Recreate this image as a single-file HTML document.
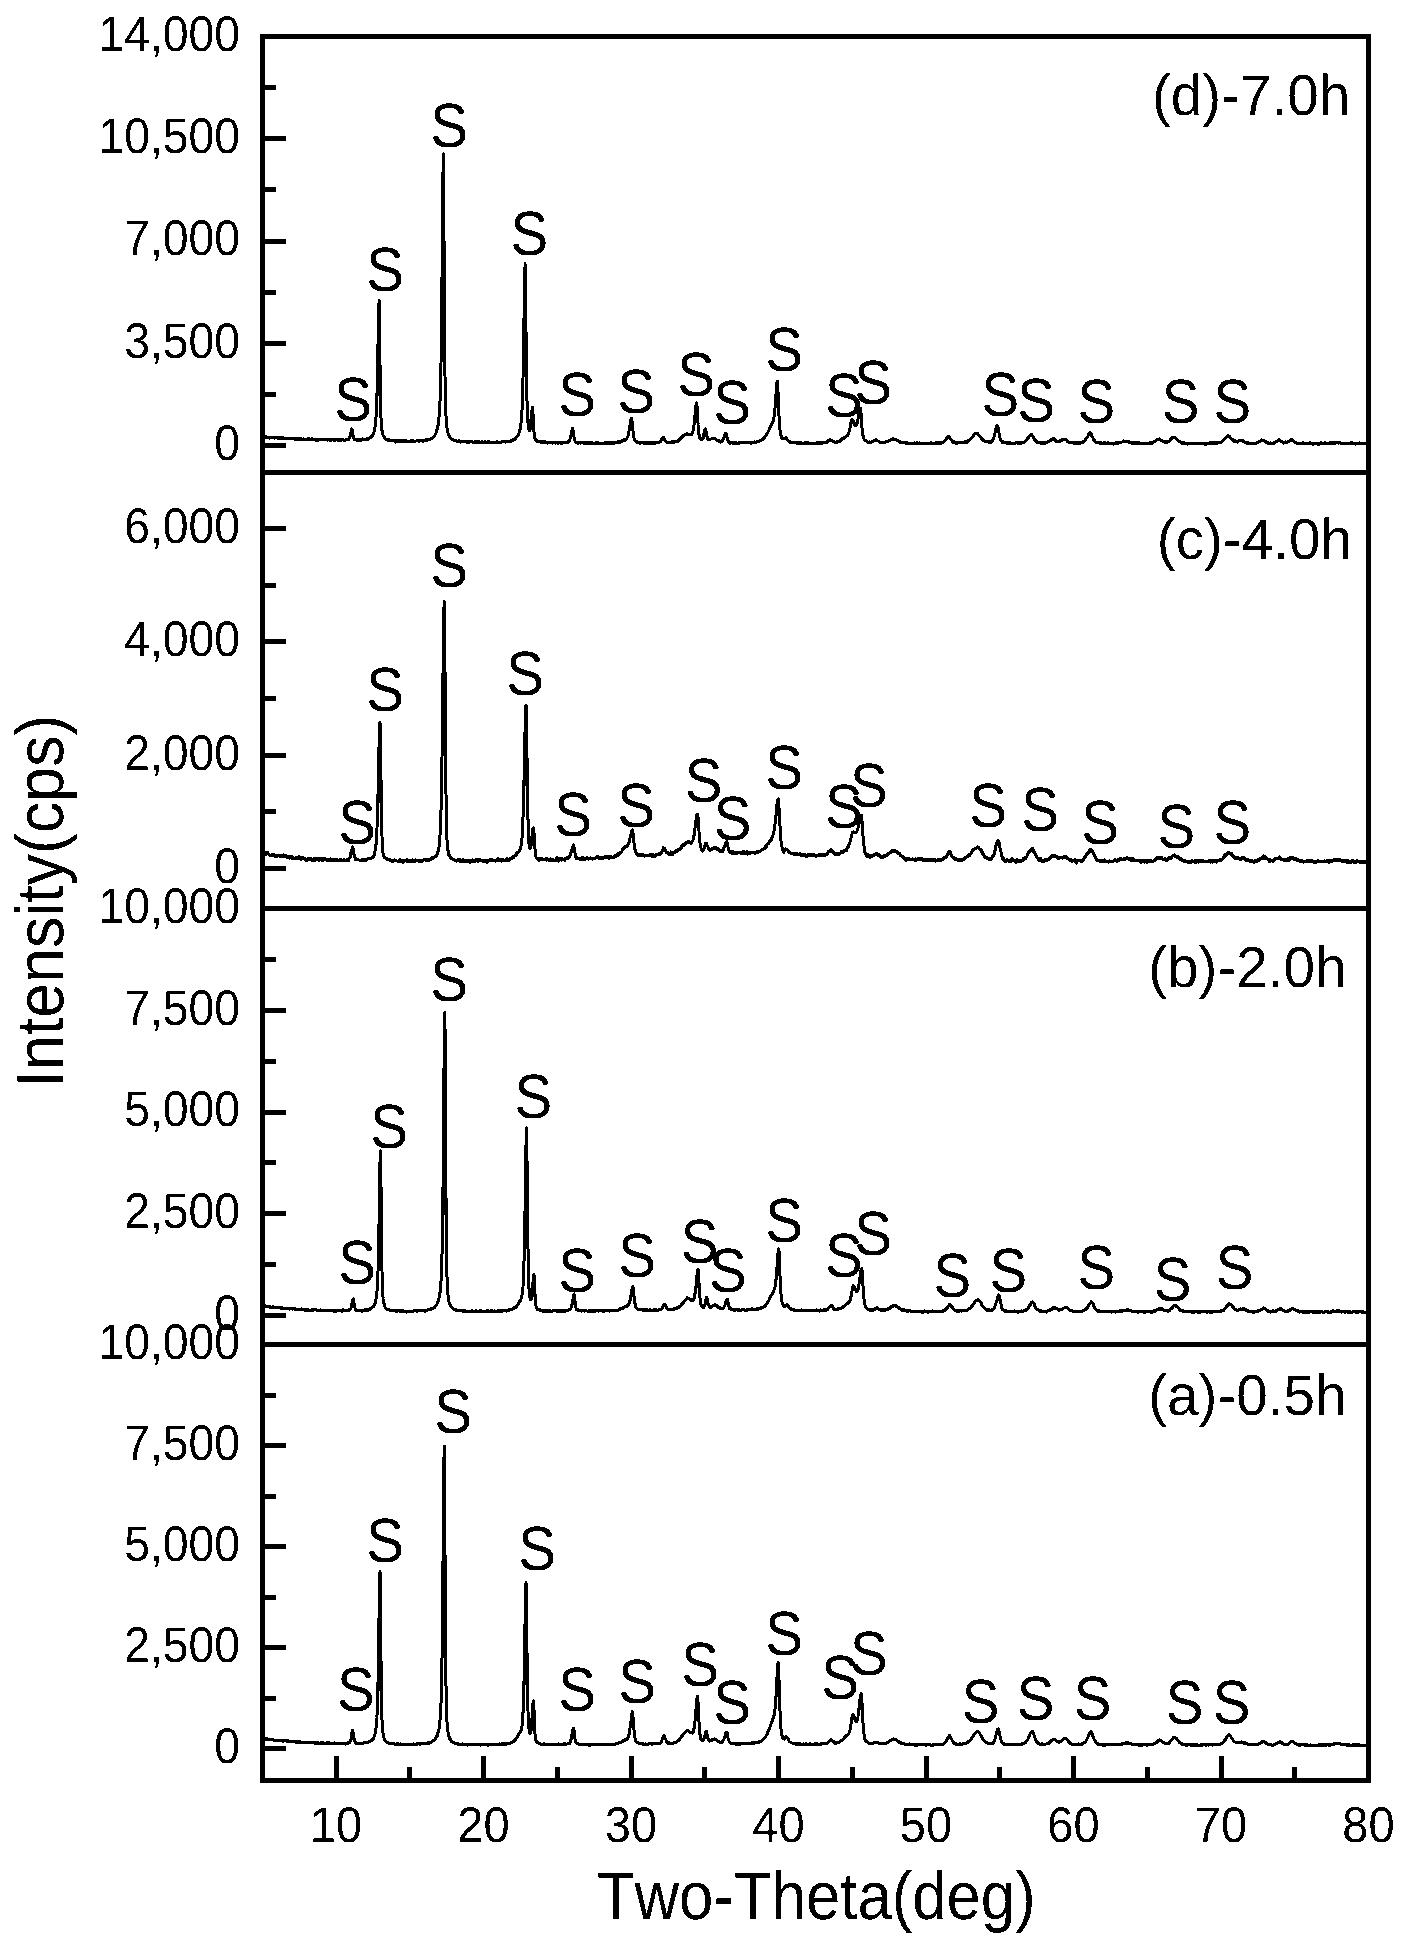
<!DOCTYPE html>
<html lang="en"><head><meta charset="utf-8"><title>XRD patterns</title>
<style>
html,body{margin:0;padding:0;background:#fff;}
body{width:1405px;height:1950px;overflow:hidden;}
svg{display:block;}
text{font-family:"Liberation Sans",Arial,Helvetica,sans-serif;fill:#000;text-rendering:geometricPrecision;}
.tk{font-size:47px;}
.s{font-size:58px;text-anchor:middle;}
.pl{font-size:57.5px;}
.ti{font-size:61.7px;text-anchor:middle;font-kerning:none;}
.ax{stroke:#000;stroke-width:5;fill:none;shape-rendering:crispEdges;}
.cv{stroke:#000;stroke-width:3;fill:none;stroke-linejoin:round;stroke-linecap:butt;}
</style></head><body>
<svg width="1405" height="1950" viewBox="0 0 1405 1950">
<rect x="0" y="0" width="1405" height="1950" fill="#fff"/>
<defs><clipPath id="cp"><rect x="262.5" y="36.5" width="1106" height="1744"/></clipPath>
<filter id="bin" filterUnits="userSpaceOnUse" x="0" y="0" width="1405" height="1950"><feComponentTransfer><feFuncA type="discrete" tableValues="0 1"/></feComponentTransfer></filter></defs>
<g filter="url(#bin)">
<g clip-path="url(#cp)">
<polyline class="cv" points="262.2,436.7 262.7,437.1 263.1,437.4 263.6,437.1 264,436.8 264.5,437 264.9,437.3 265.3,437.6 265.8,437 266.2,436.8 266.7,437.4 267.1,437.5 267.6,437.9 268,437.8 268.4,437.5 268.9,437.4 269.3,438.2 269.8,437.7 270.2,437.3 270.7,437.1 271.1,437.4 271.5,437.6 272,437.5 272.4,437.6 272.9,437.7 273.3,437.9 273.8,438.1 274.2,437.9 274.6,437.3 275.1,437.8 275.5,437.4 276,437.6 276.4,437.3 276.9,437.7 277.3,437.6 277.7,437.8 278.2,438.8 278.6,438.2 279.1,438.3 279.5,437.7 279.9,437.8 280.4,438.1 280.8,438 281.3,438.2 281.7,438.1 282.2,437.8 282.6,438.2 283,437.9 283.5,438.6 283.9,438.2 284.4,438.4 284.8,438.3 285.3,438.5 285.7,438.2 286.1,438.5 286.6,438.3 287,438.7 287.5,438.6 287.9,438.5 288.4,438.2 288.8,438.5 289.2,438.6 289.7,439 290.1,438.5 290.6,438.6 291,438.7 291.5,438.6 291.9,438.6 292.3,438.6 292.8,438.4 293.2,438.2 293.7,438.3 294.1,438.7 294.6,439.1 295,439.1 295.4,439.1 295.9,439.1 296.3,439 296.8,438.9 297.2,439 297.6,439.4 298.1,438.9 298.5,438.6 299,439.3 299.4,439.1 299.9,439.2 300.3,439.2 300.7,438.7 301.2,439.5 301.6,439.6 302.1,439.2 302.5,439.3 303,439.1 303.4,438.8 303.8,438.9 304.3,439.1 304.7,439.4 305.2,439.4 305.6,439.2 306.1,439.5 306.5,439 306.9,439.3 307.4,439.5 307.8,439.2 308.3,438.6 308.7,438.7 309.2,439.1 309.6,439.3 310,439.7 310.5,439.1 310.9,439.2 311.4,439.4 311.8,439.3 312.3,438.6 312.7,439.3 313.1,440 313.6,439.9 314,439.3 314.5,439.2 314.9,439.4 315.4,440.1 315.8,439.8 316.2,439.6 316.7,439.9 317.1,439.6 317.6,440.1 318,439.5 318.4,439.3 318.9,439.7 319.3,440 319.8,439.8 320.2,439.7 320.7,439.1 321.1,439.2 321.5,439.2 322,439.3 322.4,439.6 322.9,439.5 323.3,439.8 323.8,439.7 324.2,439.6 324.6,439.6 325.1,439.8 325.5,440 326,439.6 326.4,439.6 326.9,439.3 327.3,440 327.7,440.2 328.2,439.9 328.6,439.6 329.1,439.4 329.5,439.7 330,439.8 330.4,440.4 330.8,440.1 331.3,439.7 331.7,439 332.2,440 332.6,439.9 333.1,439.4 333.5,439.7 333.9,439.3 334.4,440.7 334.8,440.5 335.3,440.3 335.7,440 336.1,439.3 336.6,439.7 337,439.4 337.5,439.9 337.9,439.3 338.4,439.4 338.8,440.1 339.2,440.5 339.7,439.8 340.1,439.4 340.6,440 341,440.2 341.5,439.7 341.9,439.7 342.3,439.6 342.8,439.5 343.2,439.6 343.7,440.2 344.1,440.2 344.6,440.6 345,440.1 345.4,439.9 345.9,439.5 346.3,439.6 346.8,439.3 347.2,439 347.7,439.5 348.1,439.8 348.5,439.4 349,439.1 349.4,438 349.9,436.4 350.3,434.9 350.8,432.7 351.2,430.5 351.6,429.1 351.8,428.9 352.1,430 352.5,432.6 353,435.1 353.4,437.7 353.8,438.7 354.3,439.4 354.7,439.9 355.2,439.5 355.6,439.1 356.1,439.8 356.5,439.6 356.9,440.2 357.4,440.1 357.8,440.3 358.3,440.3 358.7,439.4 359.2,440 359.6,439.7 360,439.6 360.5,439.7 360.9,440 361.4,440.2 361.8,440.2 362.3,439.4 362.7,439.5 363.1,438.9 363.6,439.4 364,439.7 364.5,439.4 364.9,439.5 365.4,439.5 365.8,439.7 366.2,439.1 366.7,438.9 367.1,438.7 367.6,439.3 368,439.3 368.4,438.8 368.9,438.6 369.3,438.3 369.8,438.1 370.2,437.7 370.7,437.3 371.1,436.7 371.5,436.3 372,436.5 372.4,435.8 372.9,434.9 373.3,433.8 373.8,432.7 374.2,431.3 374.6,429.2 375.1,426.8 375.5,423.1 376,417.7 376.4,409.6 376.9,397.7 377.3,381 377.7,359.2 378.2,333.4 378.6,310.4 379.1,300.5 379.5,323.8 380,364.7 380.4,395.8 380.8,413.9 381.3,423.6 381.7,428.6 382.2,431.8 382.6,434.1 383.1,435.3 383.5,436 383.9,436.7 384.4,437.3 384.8,437.7 385.3,438.8 385.7,439.1 386.1,439.2 386.6,439.9 387,439.6 387.5,440 387.9,440.3 388.4,439.7 388.8,439.6 389.2,439.8 389.7,440.5 390.1,440.8 390.6,440.3 391,440.8 391.5,440.6 391.9,440.5 392.3,440.5 392.8,440.6 393.2,440.2 393.7,440.3 394.1,440.3 394.6,440.8 395,441.5 395.4,441.9 395.9,441.2 396.3,440.5 396.8,440.7 397.2,440.6 397.7,441.4 398.1,441.3 398.5,440.9 399,441.3 399.4,441.3 399.9,440.7 400.3,440.8 400.8,440.9 401.2,441 401.6,441.1 402.1,441 402.5,441.1 403,440.9 403.4,440.8 403.9,441.5 404.3,441.3 404.7,441.3 405.2,440.7 405.6,441 406.1,441.3 406.5,440.8 406.9,441.4 407.4,441.1 407.8,441.3 408.3,441.1 408.7,441.2 409.2,441.5 409.6,441.2 410,441.6 410.5,441.1 410.9,440.8 411.4,441.2 411.8,440.9 412.3,440.9 412.7,441.3 413.1,441.5 413.6,440.7 414,441.1 414.5,441.6 414.9,441.6 415.4,441.2 415.8,440.9 416.2,440.9 416.7,440.6 417.1,440.8 417.6,440.8 418,440.9 418.5,441.3 418.9,441 419.3,440.5 419.8,441 420.2,440.6 420.7,440.6 421.1,440.7 421.6,440.6 422,440.4 422.4,440.5 422.9,441.2 423.3,440.6 423.8,440.5 424.2,440.8 424.6,440.7 425.1,440.7 425.5,440.6 426,439.7 426.4,439.7 426.9,439.9 427.3,440 427.7,440.2 428.2,440 428.6,439.6 429.1,439.4 429.5,439.2 430,439.2 430.4,439.1 430.8,438.7 431.3,438.2 431.7,437.9 432.2,438.1 432.6,438 433.1,437.7 433.5,437.2 433.9,436.7 434.4,435.9 434.8,435.4 435.3,434.2 435.7,433.4 436.2,432.3 436.6,431.4 437,429.7 437.5,428 437.9,425.9 438.4,423.3 438.8,419.6 439.2,414.8 439.7,408.3 440.1,398.4 440.6,384 441,362.5 441.5,331.7 441.9,290 442.3,239.4 442.8,188 443.2,156 443.4,153.8 443.7,177.1 444.1,258.7 444.6,331 445,376.3 445.4,400.9 445.9,414.1 446.3,421.4 446.8,426.2 447.2,429.6 447.7,431.6 448.1,433.6 448.5,434.8 449,435.6 449.4,437 449.9,437.8 450.3,438.2 450.8,438.4 451.2,438.3 451.6,439.2 452.1,439.5 452.5,439.3 453,439.9 453.4,439.7 453.9,440.2 454.3,440.5 454.7,440.8 455.2,440.9 455.6,441 456.1,440.7 456.5,440.9 456.9,441 457.4,441.1 457.8,441.3 458.3,441.6 458.7,442 459.2,440.9 459.6,441.4 460,441.5 460.5,442.2 460.9,442.1 461.4,441.4 461.8,441.7 462.3,441.6 462.7,442 463.1,441.6 463.6,441.7 464,441.8 464.5,441.8 464.9,441.7 465.4,441.3 465.8,441.8 466.2,442.2 466.7,442 467.1,441.7 467.6,442 468,442.2 468.5,442 468.9,442 469.3,442.5 469.8,441.9 470.2,441.8 470.7,441.4 471.1,441.7 471.6,441.7 472,441.7 472.4,441.8 472.9,442.5 473.3,442.2 473.8,442.1 474.2,442.8 474.6,442.4 475.1,441.7 475.5,442.1 476,441.9 476.4,442.6 476.9,442 477.3,441.9 477.7,441.6 478.2,442 478.6,441.9 479.1,442.1 479.5,442.1 480,442 480.4,442.4 480.8,442.6 481.3,442.4 481.7,442 482.2,441.8 482.6,442.2 483.1,442.9 483.5,442.3 483.9,442 484.4,442 484.8,441.8 485.3,441.8 485.7,442 486.2,442.6 486.6,442.4 487,442.1 487.5,441.7 487.9,442.1 488.4,442.2 488.8,441.9 489.3,441.8 489.7,442.1 490.1,442.5 490.6,442.5 491,442.4 491.5,442.2 491.9,442.3 492.4,442.2 492.8,442.9 493.2,442.1 493.7,442.1 494.1,442.5 494.6,442.2 495,442.6 495.4,442.3 495.9,442.3 496.3,442.1 496.8,441.7 497.2,441.7 497.7,442.6 498.1,442.5 498.5,442.4 499,442.5 499.4,442.4 499.9,442.5 500.3,442.1 500.8,442 501.2,442.3 501.6,442 502.1,441.6 502.5,441.7 503,441.7 503.4,442 503.9,441.7 504.3,441.4 504.7,441.5 505.2,442.1 505.6,441.8 506.1,441.7 506.5,441.6 507,441.6 507.4,441.8 507.8,441.9 508.3,441.1 508.7,441.6 509.2,441.3 509.6,441.1 510.1,441.7 510.5,441.1 510.9,441.4 511.4,441.2 511.8,440.4 512.3,440.5 512.7,440.4 513.1,440 513.6,439.1 514,439.2 514.5,439.1 514.9,438.5 515.4,439 515.8,438.2 516.2,437.6 516.7,437.1 517.1,436.4 517.6,435.7 518,435.2 518.2,435.1 518.5,434.3 518.9,433.3 519.3,431.7 519.8,430.6 520.2,428.4 520.7,426.1 521.1,422.4 521.6,417.3 522,409.9 522.4,398.8 522.9,383.4 523.3,361.7 523.8,334 524.2,302.7 524.7,275.3 525.1,263.8 525.5,286.8 526,331.6 526.4,370.5 526.9,396.6 527.3,412 527.8,420.6 528.2,425.6 528.6,428.3 529.1,430.1 529.5,430.5 530,429.8 530.4,427.9 530.8,423.9 531.3,418.4 531.7,412.6 532.2,408.2 532.5,407.4 532.6,408.2 533.1,415.1 533.5,424.3 533.9,431.4 534.4,435.8 534.8,438.5 535.3,439.6 535.7,439.7 536.2,440.2 536.6,440.4 537,441.1 537.5,441.3 537.9,441.7 538.4,441.6 538.8,441.1 539.3,441.7 539.7,441.9 540.1,442.1 540.6,441.7 541,442 541.5,441.9 541.9,441.9 542.4,442.2 542.8,442.4 543.2,442.1 543.7,441.7 544.1,441.4 544.6,441.9 545,442.6 545.5,442.5 545.9,441.8 546.3,442 546.8,442.5 547.2,443 547.7,443.1 548.1,442.9 548.5,442.7 549,442.3 549.4,442.4 549.9,442.5 550.3,442.4 550.8,442.6 551.2,442.5 551.6,442.7 552.1,443.1 552.5,443.1 553,442.9 553.4,442.7 553.9,442.3 554.3,442.5 554.7,442.8 555.2,442.5 555.6,443 556.1,442.7 556.5,442.8 557,442.7 557.4,442.4 557.8,443.2 558.3,442.6 558.7,443 559.2,442.7 559.6,442.8 560.1,442.5 560.5,442.5 560.9,442.9 561.4,443.4 561.8,442.7 562.3,442.7 562.7,443 563.1,442.6 563.6,442.8 564,442.5 564.5,442.7 564.9,442.7 565.4,442.9 565.8,442.7 566.2,442.2 566.7,442.5 567.1,442 567.6,442.3 568,442.4 568.5,442 568.9,441.2 569.3,441 569.8,439.9 570.2,438 570.7,436.4 571.1,434.7 571.6,432.1 572,430.1 572.4,428.8 572.6,428.3 572.9,429.2 573.3,432.5 573.8,436 574.2,438.6 574.7,439.8 575.1,441.5 575.5,442.2 576,442.6 576.4,442.9 576.9,442.6 577.3,442.4 577.8,442.7 578.2,443.2 578.6,442.4 579.1,442.6 579.5,442.6 580,442.9 580.4,443.3 580.9,443 581.3,442.6 581.7,442.8 582.2,442.8 582.6,442.4 583.1,443 583.5,442.8 583.9,443.1 584.4,442.6 584.8,443.2 585.3,442.6 585.7,443.2 586.2,442.5 586.6,443.2 587,443 587.5,442.5 587.9,442.8 588.4,443 588.8,442.7 589.3,442.8 589.7,443 590.1,443 590.6,442.1 591,442.6 591.5,443 591.9,443.1 592.4,443.3 592.8,442.9 593.2,443.7 593.7,443.5 594.1,443.3 594.6,443.4 595,443.5 595.5,443.2 595.9,442.9 596.3,443.3 596.8,443.2 597.2,442.6 597.7,442.5 598.1,443 598.5,443.1 599,443.1 599.4,443.2 599.9,443.1 600.3,443.5 600.8,443 601.2,442.9 601.6,443.1 602.1,443.2 602.5,443.3 603,443.6 603.4,443.1 603.9,443.4 604.3,443.3 604.7,442.8 605.2,442.9 605.6,443.6 606.1,443.4 606.5,443 607,442.3 607.4,442.5 607.8,442.6 608.3,442.8 608.7,443.6 609.2,443.4 609.6,443.2 610.1,442.7 610.5,442.5 610.9,442.7 611.4,442.7 611.8,443.7 612.3,443 612.7,442.7 613.2,443.1 613.6,442.9 614,442.5 614.5,443 614.9,442.7 615.4,442.3 615.8,442.6 616.2,442.7 616.7,442.5 617.1,442.6 617.6,442.7 618,442.1 618.5,441.5 618.9,441.1 619.3,441.6 619.8,442 620.2,442 620.7,442 621.1,442 621.6,441.4 622,441.3 622.4,440.4 622.9,440.7 623.3,440.5 623.8,440.2 624.2,439.9 624.4,439.6 624.7,439.8 625.1,440.1 625.5,439.5 626,439.4 626.4,438.8 626.9,438.4 627.3,437.4 627.8,436.6 628.2,435.1 628.6,433.3 629.1,430.7 629.5,427.9 630,424.8 630.4,421.9 630.9,419.4 631.3,418 631.4,418 631.7,418.9 632.2,422.6 632.6,427.3 633.1,431.8 633.5,435.1 634,438 634.4,439.7 634.8,440.7 635.3,440.4 635.7,441.4 636.2,441.9 636.6,441.6 637,442.3 637.5,442.3 637.9,442.3 638.4,442.2 638.8,442.1 639.3,442.3 639.7,443.4 640.1,443 640.6,442.9 641,442.6 641.5,442.6 641.9,442.6 642.4,442.5 642.8,443 643.2,442.8 643.7,443.1 644.1,442.6 644.6,443.1 645,443 645.5,443.1 645.9,443 646.3,442.7 646.8,443.2 647.2,442.9 647.7,442.9 648.1,442.7 648.6,442.9 649,442.8 649.4,443 649.9,443.1 650.3,442.8 650.8,442.5 651.2,442.9 651.6,443.2 652.1,443.2 652.5,442.7 653,443 653.4,443.1 653.9,443 654.3,443.1 654.7,442.9 655.2,442.9 655.6,443.1 656.1,442.8 656.5,442.4 657,442.6 657.4,442.7 657.8,442.1 658.3,442.2 658.7,442.6 659.2,442.3 659.6,442.2 660.1,441.5 660.5,441.5 660.9,441.3 661.4,440.1 661.8,439 662.3,437.9 662.7,437.7 663.2,437.4 663.6,437.4 664,438.7 664.5,439.8 664.9,440.6 665.4,440.7 665.8,441.5 666.3,442.1 666.7,441.9 667.1,442.5 667.6,442.9 668,442.9 668.5,442.4 668.9,442.3 669.4,442.7 669.8,442.8 670.2,442.9 670.7,442.9 671.1,442.5 671.6,442.3 672,441.7 672.4,442.3 672.9,442.9 673.3,442.2 673.8,441.9 674.2,442.1 674.7,442 675.1,441.4 675.5,441.2 676,441 676.4,441.7 676.9,441 677.3,441 677.8,441.2 678.2,441.1 678.6,440.7 679.1,440.4 679.5,439.2 680,438.8 680.4,438.3 680.9,438 681.3,438.5 681.7,437.1 682.2,437 682.6,436.1 683.1,436.3 683.5,436.1 684,435.2 684.4,435.5 684.8,434.8 685.3,434.8 685.7,434.4 686.2,433.9 686.6,433.8 687,433.9 687.5,434.2 687.9,434.2 688.4,435 688.8,434.7 689.3,434.6 689.7,434.6 690.1,434.6 690.6,434.4 691,434.4 691.5,434.7 691.9,434.1 692.4,433.2 692.8,432 693.2,430.3 693.7,427.5 694.1,424.1 694.6,419.9 695,415.2 695.5,410.3 695.9,406.1 696.3,403.3 696.6,402.8 696.8,403.3 697.2,408.8 697.7,417.1 698.1,424.9 698.6,431.1 699,434.6 699.4,436.7 699.9,438.3 700.3,438.8 700.8,439.2 701.2,439.8 701.7,439.4 702.1,438.6 702.5,438.9 703,438.5 703.4,436.3 703.9,434.2 704.3,432.2 704.8,429.5 705.2,428.7 705.6,429.6 706.1,432 706.5,434 707,436.9 707.4,438.3 707.8,439.4 708.3,439.8 708.7,439.5 709.2,439.8 709.6,439.5 710.1,439.6 710.5,439.2 710.9,439 711.4,438.8 711.8,438.8 712.3,438.7 712.7,438 713.2,438 713.6,438.4 714,438.4 714.5,438.1 714.9,438.4 715.4,438.7 715.8,439.4 716.3,439.6 716.7,440 717.1,440.9 717.6,440.4 718,440.5 718.5,440.4 718.9,440.6 719.4,441.4 719.8,441.6 720.2,442.1 720.7,441.2 721.1,441.1 721.6,441.5 722,441.3 722.5,440.8 722.9,440 723.3,438.8 723.8,437.6 724.2,436.2 724.7,435.1 725.1,433.8 725.5,433.3 725.7,433.7 726,433.4 726.4,434.7 726.9,436.9 727.3,438.6 727.8,440 728.2,441.6 728.6,442 729.1,442 729.5,442.6 730,443.3 730.4,442.5 730.9,442.4 731.3,442.6 731.7,442.5 732.2,443.3 732.6,443.1 733.1,442.8 733.5,442.9 734,442.6 734.4,442.6 734.8,442.8 735.3,443.5 735.7,442.4 736.2,442.8 736.6,443.2 737.1,443.2 737.5,443.5 737.9,443.2 738.4,443 738.8,442.9 739.3,442.6 739.7,443.2 740.1,442.6 740.6,442.7 741,442.6 741.5,442.5 741.9,442.1 742.4,442.4 742.8,442.7 743.2,442.8 743.7,443 744.1,442.8 744.6,442.6 745,442.8 745.5,442.9 745.9,442.5 746.3,442.2 746.8,442.2 747.2,442.8 747.7,443 748.1,442.5 748.6,442.6 749,442.8 749.4,443 749.9,442.5 750.3,442.4 750.8,442.8 751.2,443.3 751.7,443.1 752.1,442.3 752.5,442.4 753,442.2 753.4,442.2 753.9,442 754.3,441.9 754.8,442 755.2,442.5 755.6,442.3 756.1,442.1 756.5,441.9 757,441.5 757.4,441.5 757.9,441.9 758.3,441.8 758.7,442 759.2,441.5 759.6,441.1 760.1,440.4 760.5,440.6 760.9,440 761.4,440.5 761.8,439.9 762.3,439.7 762.7,439 763.2,438.7 763.6,438.2 764,438.4 764.5,437.8 764.9,436.9 765.4,435.9 765.8,435.7 766.3,435.1 766.7,434.2 767.1,433.8 767.6,432.9 768,432.1 768.5,431 768.9,430 769.4,429.1 769.8,428.2 770.2,427.4 770.7,426.5 771.1,425.4 771.6,424.6 771.9,424 772,423.7 772.5,422.8 772.9,421.7 773.3,420.4 773.8,418.4 774.2,415.7 774.7,411.9 775.1,407.1 775.5,401.2 776,394.5 776.4,387.9 776.9,382.9 777.3,381.2 777.8,386.3 778.2,397 778.6,408.6 779.1,418.2 779.5,425.2 780,429.7 780.4,432.9 780.9,435.2 781.3,436.4 781.7,437.7 782.2,438.5 782.6,439 783.1,439.1 783.5,438.7 784,438.4 784.4,438.2 784.8,438.3 785.3,438.2 785.7,438 785.9,437.8 786.2,438 786.6,438.6 787.1,439.5 787.5,440.2 787.9,440.1 788.4,441.2 788.8,441.6 789.3,441.7 789.7,442.1 790.2,442.3 790.6,442.3 791,441.9 791.5,442.3 791.9,442.6 792.4,442.6 792.8,442.2 793.2,442.7 793.7,442.9 794.1,442.9 794.6,443 795,442.8 795.5,442.6 795.9,442.9 796.3,442.8 796.8,442.9 797.2,443.9 797.7,443.5 798.1,443.2 798.6,442.6 799,442.9 799.4,443.2 799.9,442.9 800.3,442.9 800.8,442.3 801.2,443 801.7,442.9 802.1,443.2 802.5,443.5 803,443.2 803.4,443.4 803.9,443.3 804.3,443.1 804.8,443 805.2,442.8 805.6,443.4 806.1,443.5 806.5,443 807,443.3 807.4,443 807.9,442.6 808.3,443.3 808.7,442.8 809.2,443.4 809.6,443.3 810.1,443.4 810.5,443.4 811,443.6 811.4,443.4 811.8,443.4 812.3,443.3 812.7,443.5 813.2,443.1 813.6,443.4 814,443.7 814.5,443.3 814.9,443.3 815.4,443 815.8,443 816.3,443.1 816.7,443 817.1,442.8 817.6,443 818,443.1 818.5,443.2 818.9,443.3 819.4,442.6 819.8,443.3 820.2,443.1 820.7,442.8 821.1,442.8 821.6,443 822,443.2 822.5,442.9 822.9,442.9 823.3,442.4 823.8,442.7 824.2,442.7 824.7,442.5 825.1,442.8 825.6,443 826,442.8 826.4,442 826.9,442.2 827.3,441.5 827.8,441.1 828.2,440.5 828.6,440.4 829.1,440.1 829.5,439.8 830,439.5 830.1,439.4 830.4,439.4 830.9,440 831.3,440 831.7,440.5 832.2,440.8 832.6,441 833.1,441.4 833.5,441.3 834,441.9 834.4,442.2 834.8,442.1 835.3,442.5 835.7,442 836.2,442.2 836.6,442.1 837.1,441.8 837.5,441.7 837.9,441.9 838.4,441.6 838.8,441.5 839.3,441.6 839.7,441.2 840.2,440.3 840.6,440.1 841,440.3 841.5,439.9 841.9,439.3 842.4,438.6 842.8,438.8 843.3,439 843.7,438.1 844.1,437.2 844.6,437.5 845,437.1 845.5,436.8 845.9,436.4 846.4,435.9 846.8,435.9 847.2,435.8 847.7,435.2 848.1,434.3 848.6,433.7 849,432.2 849.4,430.6 849.9,428.3 850.3,425.9 850.8,423.5 851.2,421.2 851.7,419.6 852,419.3 852.1,419.2 852.5,419.7 853,420.6 853.4,421.9 853.9,423.1 854.3,424.2 854.8,425.2 855.2,425.8 855.6,425.9 856.1,425.7 856.5,424.9 857,423.5 857.4,421.8 857.9,419.5 858.3,416.8 858.7,414.1 859.2,411.6 859.6,409.7 860.1,408.5 860.4,408.3 860.5,408.8 861,412.7 861.4,419.2 861.8,425.6 862.3,430.7 862.7,434.5 863.2,436.1 863.6,437.5 864,438.7 864.5,440 864.9,440.9 865.4,440.8 865.8,440.8 866.3,440.9 866.7,441.1 867.1,441.7 867.6,441.7 868,442.4 868.5,442.4 868.9,442 869.4,442.2 869.8,442.1 870.2,442.4 870.7,442.5 871.1,442.1 871.6,442.2 872,442.1 872.5,441.7 872.9,441.5 873.3,441.3 873.8,440.8 874.2,440.3 874.7,440.5 875.1,440.2 875.6,439.9 876,440.2 876.4,439.9 876.9,440.4 877.3,440.5 877.8,440.9 878.2,440.9 878.7,441.4 879.1,442.1 879.5,442.2 880,442 880.4,442.8 880.9,442.4 881.3,442.9 881.8,442.5 882.2,442.1 882.6,442.9 883.1,442.5 883.5,442.7 884,442.8 884.4,442.1 884.8,442.1 885.3,441.9 885.7,442.1 886.2,441.8 886.6,441.3 887.1,441.4 887.5,441.4 887.9,441 888.4,441 888.8,440.5 889.3,440.3 889.7,440.2 890.2,439.9 890.6,440 891,439.8 891.5,439.6 891.9,439.4 892.4,439.1 892.8,438.6 893.1,439.1 893.3,439.5 893.7,439.2 894.1,439.1 894.6,439.2 895,439.7 895.5,439.8 895.9,439.6 896.4,440 896.8,440.1 897.2,440.5 897.7,440.5 898.1,440.7 898.6,441.6 899,441.9 899.5,441.4 899.9,441.5 900.3,441.8 900.8,442 901.2,441.9 901.7,442.6 902.1,442.2 902.5,442.7 903,443 903.4,442.8 903.9,442.7 904.3,442.9 904.8,443 905.2,442.4 905.6,442.5 906.1,443 906.5,443.1 907,443 907.4,442.8 907.9,442.9 908.3,442.9 908.7,443.9 909.2,443.1 909.6,443.6 910.1,443.5 910.5,443.4 911,443.4 911.4,443.2 911.8,443.7 912.3,443.6 912.7,443.4 913.2,443.3 913.6,443.3 914.1,443 914.5,443.1 914.9,443.1 915.4,443.4 915.8,443.5 916.3,442.9 916.7,443.1 917.1,443.5 917.6,443 918,442.9 918.5,443.5 918.9,443.3 919.4,443.2 919.8,442.9 920.2,443.2 920.7,443.1 921.1,443.3 921.6,443.5 922,443.6 922.5,443.3 922.9,443.2 923.3,443.3 923.8,443.3 924.2,443.4 924.7,443.2 925.1,443.2 925.6,443.1 926,443.1 926.4,443.3 926.9,443.7 927.3,443.3 927.8,443.5 928.2,443.5 928.7,443.4 929.1,443.5 929.5,443.2 930,443.4 930.4,443.4 930.9,442.4 931.3,443.1 931.8,443.4 932.2,443.9 932.6,443.2 933.1,443.3 933.5,443.4 934,443 934.4,443.5 934.9,443.5 935.3,443.1 935.7,442.8 936.2,443 936.6,443.8 937.1,444 937.5,442.7 937.9,442.5 938.4,443.1 938.8,443.1 939.3,442.9 939.7,443.1 940.2,443.1 940.6,443.1 941,443 941.5,442.5 941.9,443 942.4,442.6 942.8,442.7 943.3,442.5 943.7,442.1 944.1,441.7 944.6,441.3 945,440.3 945.5,440 945.9,439.7 946.4,438.5 946.8,437.7 947.2,437.8 947.7,437.5 948.1,436.5 948.6,436.7 949,436.8 949.5,437.6 949.9,437.9 950.3,438.6 950.8,439.1 951.2,440 951.7,440.6 952.1,441 952.5,441.5 953,441.7 953.4,442.3 953.9,442.1 954.3,442 954.8,442.2 955.2,442.9 955.6,442.7 956.1,442.9 956.5,443.1 957,442.8 957.4,443 957.9,443.1 958.3,442.9 958.7,442.7 959.2,442.8 959.6,442.4 960.1,442.6 960.5,442.5 961,442.8 961.4,442.8 961.8,442.6 962.3,442.9 962.7,443 963.2,442.7 963.6,442.3 964.1,442.5 964.5,441.6 964.9,441.8 965.4,442.1 965.8,442.5 966.3,441.8 966.7,442.1 967.2,442.2 967.6,442 968,440.5 968.5,440.8 968.9,440.4 969.4,440.3 969.8,439.6 970.2,439 970.7,438.6 971.1,438.6 971.6,438.1 972,437.3 972.5,436.8 972.9,436.5 973.3,435.9 973.8,435.3 974.2,434.6 974.7,434 975.1,433.8 975.6,433.5 976,433 976.4,432.9 976.9,433.6 977.3,433.5 977.8,433.6 978.2,434.3 978.7,435.4 979.1,436.1 979.5,436.2 980,436.5 980.4,437.1 980.9,437.5 981.3,438.2 981.8,439 982.2,439.1 982.6,439.5 983.1,440 983.5,440.5 984,440.6 984.4,440.8 984.9,440.9 985.3,441.2 985.7,441.7 986.2,441.8 986.6,441 987.1,441.8 987.5,442 988,441.8 988.4,441.9 988.8,441.1 989.3,441.2 989.7,442.1 990.2,442.6 990.6,442.7 991,441.7 991.5,441.4 991.9,441.3 992.4,440.3 992.8,440.3 993.3,439 993.7,438 994.1,436.3 994.6,434.9 995,433 995.5,431.3 995.9,428.8 996.4,427.2 996.8,426.1 997.2,425.4 997.7,426.2 998.1,428 998.6,430.2 999,432.7 999.5,435.5 999.9,437.6 1000.3,439 1000.8,440.1 1001.2,440.5 1001.7,441.3 1002.1,442.3 1002.6,442.5 1003,442 1003.4,441.7 1003.9,442.1 1004.3,442.5 1004.8,442.5 1005.2,442.6 1005.6,442.8 1006.1,443.1 1006.5,443.1 1007,443.3 1007.4,442.7 1007.9,443 1008.3,443.1 1008.7,442.6 1009.2,443.3 1009.6,442.7 1010.1,442.5 1010.5,443.7 1011,443.7 1011.4,443.4 1011.8,443.6 1012.3,443.6 1012.7,443 1013.2,443.2 1013.6,443.6 1014.1,443.2 1014.5,443.2 1014.9,443 1015.4,443.3 1015.8,443 1016.3,442.9 1016.7,442.6 1017.2,442.6 1017.6,443 1018,443.2 1018.5,442.9 1018.9,442.7 1019.4,443 1019.8,443.1 1020.3,443.3 1020.7,442.9 1021.1,442.7 1021.6,442.9 1022,443.2 1022.5,442.8 1022.9,442.6 1023.4,442.1 1023.8,442 1024.2,442.3 1024.7,442.1 1025.1,442 1025.6,440.9 1026,440.9 1026.4,440.1 1026.9,439.9 1027.3,438.5 1027.8,438.3 1028.2,437.5 1028.7,437.5 1029.1,436.6 1029.5,436.3 1030,435.3 1030.4,435.5 1030.9,434.7 1031.2,435.2 1031.3,434.7 1031.8,434.6 1032.2,435.6 1032.6,436.1 1033.1,437 1033.5,437.5 1034,438.5 1034.4,439.4 1034.9,439.9 1035.3,440.8 1035.7,440.6 1036.2,441.7 1036.6,441.8 1037.1,442.6 1037.5,442.4 1038,442.3 1038.4,442.4 1038.8,442.7 1039.3,442.9 1039.7,442.7 1040.2,442.6 1040.6,442.9 1041,443.2 1041.5,442.5 1041.9,442.5 1042.4,442.6 1042.8,443.3 1043.3,443.4 1043.7,443.3 1044.1,443.1 1044.6,442.6 1045,443 1045.5,442.7 1045.9,442.4 1046.4,443 1046.8,442.1 1047.2,442.5 1047.7,442.2 1048.1,441.6 1048.6,441.6 1049,441 1049.5,441 1049.9,440.5 1050.3,439.9 1050.8,440.7 1051.2,439.8 1051.7,439.8 1052.1,439.4 1052.6,439.4 1052.8,438.8 1053,438.7 1053.4,438.1 1053.9,439.2 1054.3,439.6 1054.8,439.5 1055.2,440.2 1055.7,440.6 1056.1,441.6 1056.5,441.3 1057,441.5 1057.4,441.5 1057.9,441.6 1058.3,441.5 1058.8,441.3 1059.2,441.5 1059.6,441.6 1060.1,440.8 1060.5,440.4 1061,440.4 1061.4,440.7 1061.8,440.1 1062.3,439.2 1062.7,439.5 1063.2,439.5 1063.6,439.8 1064.1,439.4 1064.5,439.8 1064.9,439.3 1065.4,439.8 1065.8,440 1066.3,439.8 1066.7,440.3 1067.2,441.1 1067.6,441.6 1068,441.4 1068.5,442 1068.9,442.3 1069.4,442.5 1069.8,442.5 1070.3,442.6 1070.7,442.4 1071.1,442.6 1071.6,442.7 1072,442.6 1072.5,442.7 1072.9,442.9 1073.4,443 1073.8,443.3 1074.2,442.8 1074.7,442.8 1075.1,443 1075.6,442.9 1076,443 1076.5,442.8 1076.9,443.2 1077.3,443 1077.8,442.6 1078.2,443 1078.7,443.4 1079.1,442.4 1079.5,442.6 1080,442.7 1080.4,443 1080.9,443.1 1081.3,442.6 1081.8,442 1082.2,442.3 1082.6,442.4 1083.1,442.1 1083.5,441.7 1084,441 1084.4,441.5 1084.9,440.2 1085.3,439.3 1085.7,439.3 1086.2,438.6 1086.6,438 1087.1,437.2 1087.5,436.7 1088,436 1088.4,434.6 1088.8,434.3 1089.3,433.2 1089.7,432.6 1090,433.3 1090.2,433.1 1090.6,432.8 1091.1,433.9 1091.5,434.7 1091.9,436 1092.4,437 1092.8,437.7 1093.3,438.6 1093.7,439.8 1094.2,440.2 1094.6,440.9 1095,441.1 1095.5,441.8 1095.9,442.6 1096.4,442.7 1096.8,443 1097.2,442.9 1097.7,442.6 1098.1,442.7 1098.6,442.9 1099,443.1 1099.5,442.9 1099.9,443.2 1100.3,442.9 1100.8,443.1 1101.2,443.1 1101.7,442.8 1102.1,443.3 1102.6,443.3 1103,443.3 1103.4,443.2 1103.9,442.6 1104.3,442.6 1104.8,442.8 1105.2,443.4 1105.7,443.1 1106.1,443.4 1106.5,443 1107,442.9 1107.4,443 1107.9,443.5 1108.3,442.9 1108.8,443.1 1109.2,443.3 1109.6,443.4 1110.1,443.3 1110.5,443.5 1111,443.4 1111.4,443 1111.8,443.4 1112.3,443.1 1112.7,443.1 1113.2,443.6 1113.6,444.1 1114.1,443.9 1114.5,443.5 1114.9,443 1115.4,442.9 1115.8,443.5 1116.3,443.3 1116.7,442.7 1117.2,443.3 1117.6,443.2 1118,443.3 1118.5,443 1118.9,442.1 1119.4,442.2 1119.8,442.3 1120.3,442.3 1120.7,442.7 1121.1,442.2 1121.6,442.1 1122,442 1122.5,441.9 1122.9,441.5 1123.4,441.3 1123.8,440.8 1124.2,441.4 1124.7,441.4 1125.1,441.5 1125.6,441.2 1125.9,441.4 1126,441.2 1126.5,441.1 1126.9,441.5 1127.3,441.8 1127.8,441.9 1128.2,441.8 1128.7,441.7 1129.1,442.3 1129.5,442.5 1130,442.1 1130.4,441.9 1130.9,442.3 1131.3,442.5 1131.8,442.2 1132.2,443.2 1132.6,442.2 1133.1,442.3 1133.5,442.7 1134,443.1 1134.4,442.5 1134.9,442.7 1135.3,443.3 1135.7,443.6 1136.2,443.2 1136.6,443.2 1137.1,442.9 1137.5,443.2 1138,442.9 1138.4,442.5 1138.8,442.5 1139.3,443 1139.7,442.8 1140.2,443.4 1140.6,443.7 1141.1,443.7 1141.5,443.6 1141.9,443.7 1142.4,443.5 1142.8,443.6 1143.3,443.5 1143.7,443.6 1144.2,443.1 1144.6,443 1145,442.9 1145.5,443.4 1145.9,443.4 1146.4,443.1 1146.8,442.9 1147.2,442.9 1147.7,443.4 1148.1,443.2 1148.6,443.1 1149,442.9 1149.5,443 1149.9,443.5 1150.3,443 1150.8,442.8 1151.2,443.3 1151.7,443.2 1152.1,442.5 1152.6,442.8 1153,442.1 1153.4,442.3 1153.9,441.3 1154.3,441.2 1154.8,441.6 1155.2,441 1155.7,440.6 1156.1,440.4 1156.5,440.1 1157,439.7 1157.4,439.3 1157.9,439.8 1158.3,439.8 1158.8,439.4 1159.2,438.9 1159.6,439 1160.1,439.3 1160.5,439.9 1161,440.6 1161.4,440.4 1161.9,440.8 1162.3,440.9 1162.7,441.3 1163.2,441.3 1163.6,441.8 1164.1,442.3 1164.5,442.1 1165,442.1 1165.4,442.2 1165.8,441.8 1166.3,442.6 1166.7,441.9 1167.2,441.8 1167.6,441.6 1168,442 1168.5,441.4 1168.9,441 1169.4,441.3 1169.8,440.6 1170.3,439.8 1170.7,439.4 1171.1,439 1171.6,438.3 1172,437.9 1172.5,437.5 1172.9,437.5 1173.4,437.4 1173.8,437.3 1174.2,437.2 1174.7,437.6 1175.1,437.7 1175.6,438.5 1176,438.8 1176.5,439.1 1176.9,440 1177.3,439.8 1177.8,440.2 1178.2,440.6 1178.7,441.2 1179.1,441.2 1179.6,441.4 1180,441.4 1180.4,442.2 1180.9,442.2 1181.3,443.2 1181.8,443.2 1182.2,442.7 1182.7,443.3 1183.1,443.2 1183.5,443.4 1184,442.9 1184.4,443.4 1184.9,443.6 1185.3,443.2 1185.7,443 1186.2,443 1186.6,443.3 1187.1,444 1187.5,444.1 1188,444 1188.4,443.5 1188.8,443.3 1189.3,443.4 1189.7,443.3 1190.2,443.2 1190.6,443.2 1191.1,443.6 1191.5,443.4 1191.9,443.5 1192.4,443.3 1192.8,443.3 1193.3,443.3 1193.7,443.7 1194.2,443.6 1194.6,443.9 1195,443.5 1195.5,443.8 1195.9,443.1 1196.4,443.2 1196.8,443.3 1197.3,443.2 1197.7,443.3 1198.1,443.1 1198.6,443.2 1199,443.2 1199.5,443.3 1199.9,443.3 1200.3,443.1 1200.8,443.2 1201.2,443.3 1201.7,443 1202.1,443.3 1202.6,443.7 1203,443.4 1203.4,443.6 1203.9,443.6 1204.3,443.2 1204.8,443.7 1205.2,444.2 1205.7,443.4 1206.1,444 1206.5,443.4 1207,443.8 1207.4,443 1207.9,443.6 1208.3,443.5 1208.8,443 1209.2,443 1209.6,442.9 1210.1,442.9 1210.5,443.3 1211,443.2 1211.4,442.5 1211.9,442.9 1212.3,443.3 1212.7,443.3 1213.2,443.7 1213.6,442.9 1214.1,443.2 1214.5,443.2 1215,443.4 1215.4,442.8 1215.8,442.6 1216.3,442.9 1216.7,443 1217.2,442.5 1217.6,442.9 1218,442.9 1218.5,443 1218.9,442 1219.4,442.5 1219.8,442.2 1220.3,442.1 1220.7,442.3 1221.1,442.5 1221.6,441.9 1222,441.5 1222.5,441.5 1222.9,440.6 1223.4,440.2 1223.8,439.6 1224.2,438.9 1224.7,438.6 1225.1,438.7 1225.6,437.8 1226,437.2 1226.5,436.6 1226.9,436.4 1227.3,435.9 1227.8,435.3 1228.1,435.5 1228.2,435.9 1228.7,435.8 1229.1,436.3 1229.6,436.4 1230,437.4 1230.4,437.6 1230.9,438.1 1231.3,438.4 1231.8,439.2 1232.2,439.5 1232.7,439.5 1233.1,440.2 1233.5,440.3 1234,441.2 1234.4,441.5 1234.9,441.5 1235.3,441.7 1235.8,440.9 1236.2,441.8 1236.6,441.4 1237.1,441.6 1237.5,442.2 1238,441 1238.4,440.9 1238.8,441 1239.3,440.9 1239.7,440.2 1240.2,440.1 1240.6,440.8 1240.9,440.4 1241.1,440.7 1241.5,440.2 1241.9,440.3 1242.4,440.2 1242.8,440.9 1243.3,441.6 1243.7,441.7 1244.2,441.7 1244.6,442 1245,442.3 1245.5,442.3 1245.9,442.6 1246.4,443.2 1246.8,443.6 1247.3,443 1247.7,442.6 1248.1,443.4 1248.6,443.5 1249,443.6 1249.5,443.4 1249.9,443.2 1250.4,443.4 1250.8,443.6 1251.2,443.7 1251.7,443 1252.1,443.4 1252.6,443.2 1253,443.1 1253.5,443.2 1253.9,443.1 1254.3,443.8 1254.8,443.5 1255.2,443.3 1255.7,443.1 1256.1,443.1 1256.5,442.9 1257,443 1257.4,443 1257.9,442.9 1258.3,442 1258.8,441.9 1259.2,441.7 1259.6,441.1 1260.1,441.1 1260.5,440.7 1261,440.4 1261.4,440.3 1261.9,439.8 1262.3,440.3 1262.7,440.4 1263.2,440.2 1263.6,440.6 1264.1,441 1264.5,441 1265,441.3 1265.4,441.9 1265.8,441.3 1266.3,441.7 1266.7,442.4 1267.2,442.8 1267.6,442.6 1268.1,443.1 1268.5,443.7 1268.9,443.3 1269.4,443.2 1269.8,443.2 1270.3,442.8 1270.7,443.2 1271.2,443.2 1271.6,443.4 1272,443.6 1272.5,443.2 1272.9,443.1 1273.4,443.1 1273.8,443.4 1274.2,442.5 1274.7,442.5 1275.1,442.1 1275.6,442.1 1276,442 1276.5,441.6 1276.9,441.4 1277.3,441 1277.8,440.4 1278.2,440.1 1278.7,439.7 1278.8,440.1 1279.1,440.1 1279.6,440.6 1280,441 1280.4,440.8 1280.9,440.9 1281.3,441.6 1281.8,441.6 1282.2,442.1 1282.7,442.5 1283.1,442.5 1283.5,443.2 1284,442.7 1284.4,442.9 1284.9,442.7 1285.3,441.9 1285.8,442.4 1286.2,442.5 1286.6,442.7 1287.1,442.4 1287.5,442 1288,441.7 1288.4,441.4 1288.8,441.4 1289.3,440.8 1289.7,440.8 1290.2,440.5 1290.6,439.7 1291.1,439.9 1291.4,439 1291.5,439.4 1291.9,439.4 1292.4,439.9 1292.8,440.7 1293.3,440.9 1293.7,441.2 1294.2,441.9 1294.6,441.8 1295,441.9 1295.5,442.7 1295.9,442.9 1296.4,442.5 1296.8,442.9 1297.3,443.3 1297.7,443.2 1298.1,443.1 1298.6,443.3 1299,443.4 1299.5,443.1 1299.9,443.5 1300.4,443 1300.8,443.2 1301.2,444 1301.7,443.3 1302.1,443.4 1302.6,442.7 1303,443 1303.5,442.9 1303.9,443.3 1304.3,443.3 1304.8,443.9 1305.2,443.4 1305.7,443.4 1306.1,443.5 1306.5,443.7 1307,443.8 1307.4,443.1 1307.9,444 1308.3,443.6 1308.8,443.3 1309.2,443 1309.6,443.2 1310.1,442.9 1310.5,443.3 1311,443.3 1311.4,443.5 1311.9,443.3 1312.3,443.5 1312.7,444.1 1313.2,444.1 1313.6,443.8 1314.1,443.3 1314.5,443.9 1315,443.1 1315.4,443 1315.8,443.7 1316.3,443.4 1316.7,443.9 1317.2,443.8 1317.6,444.3 1318.1,444.3 1318.5,444 1318.9,443.5 1319.4,443.7 1319.8,444 1320.3,443.7 1320.7,442.7 1321.2,443.1 1321.6,443.3 1322,443.4 1322.5,443.4 1322.9,443.8 1323.4,443.2 1323.8,443.5 1324.2,442.9 1324.7,442.6 1325.1,442.9 1325.6,443 1326,443.1 1326.5,443.1 1326.9,443.5 1327.3,443.6 1327.8,443.5 1328.2,443.5 1328.7,443.2 1329.1,443 1329.6,442.7 1330,442.9 1330.4,442.7 1330.9,442.9 1331.3,443.2 1331.8,443.2 1332.2,443.4 1332.7,442.8 1333.1,442.1 1333.5,442.2 1334,443.1 1334.4,443 1334.9,442.6 1335.3,442.9 1335.8,442.5 1336,443 1336.2,442.6 1336.6,442.4 1337.1,442.7 1337.5,442.3 1338,442.5 1338.4,443.2 1338.9,443.1 1339.3,442.6 1339.7,442.8 1340.2,442.9 1340.6,442.8 1341.1,443.2 1341.5,443.6 1342,443.4 1342.4,443.6 1342.8,443.5 1343.3,443.5 1343.7,443.2 1344.2,443.6 1344.6,443.9 1345,443.5 1345.5,443.2 1345.9,443.5 1346.4,443.5 1346.8,443.8 1347.3,443.8 1347.7,443.6 1348.1,443.1 1348.6,443.6 1349,443.6 1349.5,443.2 1349.9,443 1350.4,442.8 1350.8,443.5 1351.2,443.4 1351.7,442.5 1352.1,442.9 1352.6,443.1 1353,443.4 1353.5,443.5 1353.9,443.4 1354.3,443.7 1354.8,443.9 1355.2,443.6 1355.7,444 1356.1,443.7 1356.6,443.4 1357,443.5 1357.4,443.1 1357.9,443.3 1358.3,443.2 1358.8,443.3 1359.2,443.5 1359.7,442.8 1360.1,443.4 1360.5,443.6 1361,443.5 1361.4,443.8 1361.9,443.7 1362.3,443.5 1362.7,443.3 1363.2,443.7 1363.6,443.8 1364.1,443.2 1364.5,443.2 1365,443.1 1365.4,443.7 1365.8,443.4 1366.3,443.2 1366.7,443.9 1367.2,443.8 1367.6,443.7 1368.1,443.7 1368.5,443.6"/>
<polyline class="cv" points="263.1,851.7 263.6,852.5 264,852.6 264.5,852.5 264.9,853.4 265.4,853.3 265.8,853.1 266.2,854.3 266.7,853.5 267.1,852.8 267.6,852.5 268,853 268.5,853.9 268.9,854.4 269.3,854.8 269.8,855.4 270.2,855.6 270.7,855.1 271.1,855.4 271.6,855.2 272,854.5 272.4,855.1 272.9,854.9 273.3,854.7 273.8,856 274.2,855.8 274.7,855 275.1,855.1 275.5,856.6 276,855.6 276.4,855.9 276.9,856 277.3,856 277.8,856.1 278.2,855.5 278.6,855.4 279.1,855.6 279.5,855.6 280,856.3 280.4,857 280.8,855.9 281.3,856.4 281.7,855.7 282.2,855.7 282.6,856 283.1,856.3 283.5,856.2 283.9,854.9 284.4,856.8 284.8,856.5 285.3,856.3 285.7,857 286.2,856.5 286.6,855.9 287,856.9 287.5,857.2 287.9,856.6 288.4,857.4 288.8,857.5 289.3,856.6 289.7,858.1 290.1,857.7 290.6,856.8 291,857.5 291.5,857.5 291.9,858.1 292.4,856.9 292.8,858 293.2,858.3 293.7,858.3 294.1,858.3 294.6,858.7 295,858.6 295.5,858.2 295.9,857.5 296.3,858.5 296.8,858.7 297.2,858.5 297.7,858.3 298.1,858.6 298.5,856.8 299,857.9 299.4,856.6 299.9,857.8 300.3,858.8 300.8,859.6 301.2,858.5 301.6,858.7 302.1,858.5 302.5,857.2 303,858.5 303.4,858.5 303.9,858.6 304.3,858.1 304.7,858.4 305.2,858.7 305.6,859.5 306.1,859.2 306.5,861 307,859.4 307.4,858.9 307.8,858.9 308.3,858.4 308.7,859.7 309.2,859.6 309.6,858.5 310.1,858.9 310.5,859.7 310.9,858.5 311.4,859 311.8,859 312.3,860.5 312.7,859.9 313.2,859.2 313.6,858.9 314,860.3 314.5,859.4 314.9,860.7 315.4,858.9 315.8,859.1 316.2,859.2 316.7,858.9 317.1,859.2 317.6,859.8 318,859.2 318.5,858.6 318.9,860 319.3,860.6 319.8,859.5 320.2,859.8 320.7,858.2 321.1,859.8 321.6,858.9 322,859.1 322.4,860.8 322.9,859.4 323.3,859.6 323.8,859.1 324.2,858.5 324.7,858.7 325.1,859.6 325.5,859 326,859.2 326.4,860.1 326.9,859.9 327.3,859.1 327.8,860.5 328.2,860.2 328.6,860.9 329.1,859.7 329.5,860.9 330,859.5 330.4,858.8 330.9,859.4 331.3,859.6 331.7,860.1 332.2,859.7 332.6,860.4 333.1,861 333.5,860 333.9,859.3 334.4,859.6 334.8,860.4 335.3,860.7 335.7,860.2 336.2,859.6 336.6,860 337,860.7 337.5,860 337.9,860.9 338.4,860.6 338.8,860.5 339.3,860 339.7,861 340.1,860.5 340.6,859.5 341,860.5 341.5,860.1 341.9,860.8 342.4,860.6 342.8,860 343.2,860.3 343.7,859.9 344.1,859.6 344.6,860 345,860.6 345.5,860.4 345.9,860.2 346.3,859.8 346.8,860.3 347.2,860.3 347.7,860.6 348.1,860.2 348.6,860.9 349,858.7 349.4,858.3 349.9,857.7 350.3,856.7 350.8,853.6 351.2,851.3 351.6,849.8 352.1,848.9 352.5,848.3 352.7,846.8 353,847.8 353.4,850.8 353.9,853.2 354.3,855.1 354.7,857 355.2,857.8 355.6,859.8 356.1,859.8 356.5,859.7 357,859.5 357.4,859.8 357.8,859.5 358.3,859.4 358.7,859.9 359.2,860 359.6,860.4 360.1,860.4 360.5,860.9 360.9,860.4 361.4,860.4 361.8,860.4 362.3,859.7 362.7,860.7 363.2,859.9 363.6,859.1 364,860.4 364.5,860.5 364.9,859.8 365.4,860.4 365.8,860.5 366.3,860.4 366.7,859.2 367.1,859.5 367.6,858.8 368,858.8 368.5,858.7 368.9,858.4 369.3,859 369.8,858.4 370.2,858.8 370.7,858.6 371.1,857.9 371.6,857.9 372,857.9 372.4,858 372.9,856.8 373.3,857.2 373.8,856.1 374.2,855.5 374.7,852.8 375.1,850.8 375.5,849.4 376,845 376.4,839.2 376.9,830.8 377.3,818.4 377.8,803.1 378.2,784.5 378.6,763.6 379.1,743.3 379.5,728.1 380,722.2 380.4,737.8 380.9,771.4 381.3,803.9 381.7,827.8 382.2,842 382.6,849.9 383.1,853.7 383.5,854.6 384,856.8 384.4,857.9 384.8,857.4 385.3,858 385.7,857.8 386.2,858.5 386.6,859.3 387,858.8 387.5,859 387.9,859.1 388.4,859.3 388.8,859.4 389.3,859.3 389.7,860.3 390.1,860.2 390.6,859.9 391,860.9 391.5,860.3 391.9,861 392.4,860 392.8,861.3 393.2,860.6 393.7,860.1 394.1,860.8 394.6,860 395,859.9 395.5,860.6 395.9,860.5 396.3,860.9 396.8,861 397.2,861 397.7,861 398.1,861.3 398.6,861 399,861.6 399.4,861.7 399.9,860 400.3,859.6 400.8,861.4 401.2,860.8 401.7,861 402.1,860.9 402.5,861.1 403,862.3 403.4,861 403.9,861 404.3,861 404.8,860.3 405.2,860.2 405.6,860.5 406.1,860.8 406.5,861.1 407,859.8 407.4,859.6 407.8,861.4 408.3,861 408.7,861.4 409.2,860.8 409.6,860.5 410.1,862 410.5,860.6 410.9,860.2 411.4,861.1 411.8,860.9 412.3,859.9 412.7,860.6 413.2,861.2 413.6,860.1 414,860.2 414.5,861.1 414.9,862 415.4,859.8 415.8,860 416.3,860.5 416.7,860.1 417.1,860 417.6,860.2 418,860.8 418.5,860.1 418.9,861 419.4,861.2 419.8,861.3 420.2,861.7 420.7,860.6 421.1,860.5 421.6,861.1 422,861.4 422.4,861.3 422.9,860.4 423.3,860.1 423.8,859.4 424.2,859.7 424.7,859.5 425.1,859.6 425.5,859.7 426,860.4 426.4,860.6 426.9,860.1 427.3,859.2 427.8,859.5 428.2,859.8 428.6,860.1 429.1,859.8 429.5,859.9 430,859.1 430.4,859.4 430.9,859.5 431.3,858.8 431.7,858.2 432.2,859 432.6,857.8 433.1,858.2 433.5,857.6 434,857.1 434.4,856.8 434.8,856.3 435.3,856 435.7,856.6 436.2,856.2 436.6,854.7 437.1,853.9 437.5,853.2 437.9,851.3 438.4,850.8 438.8,848.1 439.3,844.9 439.7,840.4 440.1,833.9 440.6,824.3 441,810.1 441.5,790.3 441.9,763.3 442.4,730.2 442.8,691.9 443.2,653 443.7,620.5 444.1,602.9 444.3,601.4 444.6,615.2 445,671.3 445.5,735.5 445.9,786 446.3,818.1 446.8,835.4 447.2,844.2 447.7,848.2 448.1,851.3 448.6,853.4 449,855.5 449.4,855.4 449.9,855.2 450.3,857.7 450.8,858.2 451.2,858.1 451.7,858.8 452.1,858.4 452.5,858.7 453,859.5 453.4,859.4 453.9,859.7 454.3,860 454.8,860 455.2,859.9 455.6,860.3 456.1,861 456.5,861.3 457,860.2 457.4,860.8 457.8,859.4 458.3,859.3 458.7,860.3 459.2,860.8 459.6,861.5 460.1,859.9 460.5,861 460.9,860.5 461.4,860.4 461.8,860.9 462.3,861.6 462.7,860.5 463.2,859.7 463.6,860.1 464,860.5 464.5,861.4 464.9,861.2 465.4,860.8 465.8,860.5 466.3,860.5 466.7,861.3 467.1,860.1 467.6,860.2 468,860.1 468.5,861.3 468.9,861.1 469.4,860.6 469.8,861.2 470.2,862.2 470.7,861.9 471.1,860.5 471.6,860.7 472,861.5 472.5,860.1 472.9,859.9 473.3,860.3 473.8,861 474.2,860.5 474.7,860.9 475.1,860.8 475.5,861.1 476,860.3 476.4,859.4 476.9,859.1 477.3,860.4 477.8,861.3 478.2,861.3 478.6,860.1 479.1,859.6 479.5,860.3 480,860.1 480.4,859.5 480.9,860.1 481.3,860.1 481.7,860.5 482.2,861 482.6,861 483.1,861 483.5,861.2 484,860.9 484.4,860.6 484.8,860.5 485.3,861.4 485.7,860.8 486.2,861.3 486.6,861.9 487.1,862.2 487.5,860 487.9,860.6 488.4,861.3 488.8,860.7 489.3,860.3 489.7,859.7 490.2,860 490.6,860.4 491,859.5 491.5,860.3 491.9,860 492.4,860.4 492.8,859.9 493.2,860.4 493.7,860.6 494.1,860.2 494.6,860.1 495,860.9 495.5,861.1 495.9,860.3 496.3,860.7 496.8,859.9 497.2,860 497.7,858.6 498.1,859.5 498.6,860.5 499,860.1 499.4,860.6 499.9,860.1 500.3,860.4 500.8,860.2 501.2,859.7 501.7,861.3 502.1,860.1 502.5,859.4 503,859.9 503.4,860.3 503.9,860.4 504.3,860.1 504.8,860.3 505.2,860.6 505.6,860.5 506.1,859.2 506.5,860.6 507,860 507.4,858.5 507.9,859.7 508.3,859.4 508.7,859.5 509.2,860.5 509.6,859.2 510.1,858.6 510.5,858.1 510.9,858.5 511.4,858.7 511.8,858.5 512.3,858.1 512.7,856.5 513.2,857.1 513.6,857.6 514,856.6 514.5,855.9 514.9,855.2 515.4,855.3 515.8,854.1 516.3,855.3 516.7,854.2 517.1,853.2 517.6,852.2 518,852.5 518.5,852.4 518.9,851.1 519.1,851.1 519.4,850.7 519.8,850.4 520.2,849.4 520.7,848.4 521.1,845.3 521.6,842.8 522,837.8 522.5,830.6 522.9,820.6 523.3,807.2 523.8,790.1 524.2,770.1 524.7,747.9 525.1,726.6 525.6,710.9 526,705 526.4,718.2 526.9,748.9 527.3,782.1 527.8,809.7 528.2,828.4 528.6,839.7 529.1,845.6 529.5,847.6 530,849 530.4,848.1 530.9,847.4 531.3,843.5 531.7,839 532.2,834.4 532.6,830.4 533.1,827.8 533.4,827.7 533.5,827.9 534,832.7 534.4,839.9 534.8,846.7 535.3,852.7 535.7,855.5 536.2,858.1 536.6,858.2 537.1,858.6 537.5,858.9 537.9,859.2 538.4,860.2 538.8,859 539.3,858.8 539.7,858.5 540.2,860 540.6,859.8 541,859.8 541.5,859.8 541.9,858.5 542.4,859.6 542.8,859.6 543.3,859.7 543.7,859.6 544.1,859.5 544.6,859.5 545,859.2 545.5,859.3 545.9,859.9 546.4,858.5 546.8,859.7 547.2,860 547.7,859.1 548.1,859.7 548.6,859.8 549,859.4 549.4,860.5 549.9,860 550.3,859.7 550.8,858.9 551.2,860.6 551.7,860.1 552.1,859.9 552.5,859.6 553,860.8 553.4,859.9 553.9,860.6 554.3,860.5 554.8,860.4 555.2,860.2 555.6,860.4 556.1,859.7 556.5,858.4 557,857.5 557.4,859.4 557.9,858.2 558.3,859.8 558.7,861.3 559.2,859 559.6,859.6 560.1,859.7 560.5,859 561,858.1 561.4,858.8 561.8,860.1 562.3,859.5 562.7,859.3 563.2,859.3 563.6,859.2 564,859.3 564.5,860.5 564.9,859.1 565.4,858 565.8,859.1 566.3,858.7 566.7,858.5 567.1,857.8 567.6,858.2 568,858.1 568.5,858.4 568.9,857.7 569.4,856.5 569.8,856.7 570.2,855.7 570.7,853.3 571.1,852.3 571.6,851.3 572,849.3 572.5,847.3 572.9,846.5 573.3,845.2 573.5,844.9 573.8,846 574.2,847.9 574.7,850.3 575.1,853.4 575.6,855.6 576,857.5 576.4,858.5 576.9,858.5 577.3,858.5 577.8,858 578.2,858.5 578.7,858.3 579.1,859 579.5,859.2 580,859.2 580.4,858.8 580.9,858.9 581.3,859.6 581.8,860 582.2,858.7 582.6,857 583.1,858.4 583.5,857.6 584,858.3 584.4,858.7 584.8,859.5 585.3,858.8 585.7,858.5 586.2,858.2 586.6,858.6 587.1,857.8 587.5,858.6 587.9,858.7 588.4,859.3 588.8,858.5 589.3,858.6 589.7,858.6 590.2,858.4 590.6,857.8 591,857.8 591.5,858.2 591.9,858.5 592.4,859 592.8,858.1 593.3,858.3 593.7,858.6 594.1,858.8 594.6,858.5 595,858.4 595.5,858 595.9,858.1 596.4,858 596.8,857 597.2,857.3 597.7,856.3 598.1,857.7 598.6,858.4 599,857.9 599.4,858 599.9,858 600.3,857.8 600.8,858.7 601.2,858 601.7,858.1 602.1,857.8 602.5,858.9 603,857.2 603.4,857.6 603.9,856.9 604.3,856.9 604.8,856.8 605.2,857.8 605.6,857 606.1,856.7 606.5,857 607,856.7 607.4,856.6 607.9,858 608.3,857.2 608.7,856.8 609.2,857.9 609.6,857.5 610.1,857.9 610.5,856.4 611,856.7 611.4,857.1 611.8,857.1 612.3,857.2 612.7,857.6 613.2,857.3 613.6,857.4 614.1,857.2 614.5,856.1 614.9,856.2 615.4,856.7 615.8,855.5 616.3,855.7 616.7,855.7 617.1,855.9 617.6,854 618,855.5 618.5,853.4 618.9,853.4 619.4,854.5 619.8,852.4 620.2,853.4 620.7,852.3 621.1,852.5 621.6,852 622,850.8 622.5,849.5 622.9,849 623.3,848 623.8,847.4 624.2,848 624.7,847 625.1,847.5 625.3,847.5 625.6,847.3 626,846.5 626.4,845.9 626.9,846.7 627.3,845.5 627.8,844.9 628.2,844.2 628.7,843.6 629.1,842.1 629.5,840.4 630,838.2 630.4,836 630.9,833.9 631.3,832 631.8,830.7 632.2,829.9 632.3,830.3 632.6,830.9 633.1,833.8 633.5,838.1 634,842.8 634.4,846.6 634.9,849.5 635.3,850.9 635.7,852.1 636.2,852.5 636.6,853.5 637.1,854.4 637.5,855.2 637.9,855.5 638.4,855.1 638.8,854.6 639.3,855.1 639.7,855.5 640.2,854.3 640.6,855.2 641,854.6 641.5,854.9 641.9,855.3 642.4,854.9 642.8,855 643.3,855.4 643.7,854.9 644.1,855.8 644.6,856 645,856 645.5,855.1 645.9,855.3 646.4,855.3 646.8,855.5 647.2,856 647.7,855.4 648.1,855.5 648.6,855.9 649,855.4 649.5,855.9 649.9,855.6 650.3,854.6 650.8,855.1 651.2,855.3 651.7,855.1 652.1,856.4 652.5,855.4 653,854.5 653.4,854.9 653.9,855 654.3,855.4 654.8,856.7 655.2,855.7 655.6,855.8 656.1,854.9 656.5,854.4 657,854.3 657.4,854.6 657.9,854.5 658.3,854.6 658.7,854.2 659.2,853.6 659.6,853.5 660.1,854.1 660.5,852.9 661,853.2 661.4,853.4 661.8,851.4 662.3,851.2 662.7,850.5 663.2,847.8 663.6,848.7 664.1,848.8 664.5,848.3 664.9,850.2 665.4,849.4 665.8,851.6 666.3,852.2 666.7,852.1 667.2,853 667.6,852.6 668,853.8 668.5,854.2 668.9,854.7 669.4,855 669.8,853.9 670.2,854.1 670.7,853.5 671.1,851.9 671.6,853.5 672,854.2 672.5,853.7 672.9,854.4 673.3,853.4 673.8,852 674.2,852.1 674.7,852.2 675.1,852.3 675.6,851.8 676,850.4 676.4,850.3 676.9,850.7 677.3,851.3 677.8,850.3 678.2,849.3 678.7,849.1 679.1,849.6 679.5,849.7 680,848.1 680.4,848.2 680.9,848.4 681.3,847.8 681.8,846.1 682.2,846.3 682.6,845.3 683.1,844.7 683.5,845.7 684,844.6 684.4,844.3 684.9,844.4 685.3,844.4 685.7,843.5 686.2,842.5 686.6,842.4 687.1,842 687.5,842.1 687.9,842.2 688.4,841.5 688.8,841.7 689.3,841.5 689.7,842.3 690.2,843.2 690.6,843.4 691,843.2 691.5,842.2 691.9,842.1 692.4,840.8 692.8,840.6 693.3,838.9 693.7,837 694.1,835 694.6,832 695,828.4 695.5,824.9 695.9,821.2 696.4,817.9 696.8,815.4 697.2,814 697.5,814 697.7,814.5 698.1,818 698.6,824.2 699,831.2 699.5,837.5 699.9,842.5 700.3,845.6 700.8,847.5 701.2,848.8 701.7,850.5 702.1,851.1 702.6,851.2 703,850.4 703.4,848.9 703.9,849 704.3,848.5 704.8,845.6 705.2,843.7 705.6,843.4 706.1,843 706.5,843.2 707,845.3 707.4,845.7 707.9,846.5 708.3,847.7 708.7,849 709.2,849.6 709.6,850.5 710.1,850.5 710.5,849.5 711,849.9 711.4,849.3 711.8,849.9 712.3,849.7 712.7,848.5 713.2,848.6 713.6,847.5 714.1,848.1 714.5,848.1 714.9,848.3 715.4,847.6 715.8,847.6 716.3,848 716.7,848.5 717.2,849.4 717.6,849.1 718,848.5 718.5,849.3 718.9,850.6 719.4,851.2 719.8,850.4 720.3,851.3 720.7,851.3 721.1,851.6 721.6,851.4 722,851.7 722.5,850.3 722.9,851.1 723.4,850.3 723.8,848 724.2,846.2 724.7,846.4 725.1,844.2 725.6,843.3 726,843.3 726.4,842.8 726.6,843 726.9,841.9 727.3,843.3 727.8,845.7 728.2,848.7 728.7,849.7 729.1,850.6 729.5,851.4 730,852.6 730.4,852.9 730.9,852.2 731.3,851.4 731.8,852.2 732.2,852.4 732.6,853.8 733.1,852.7 733.5,853.3 734,851.9 734.4,853.1 734.9,852.3 735.3,852.8 735.7,852.8 736.2,853 736.6,853 737.1,852.4 737.5,853.1 738,852.6 738.4,852.8 738.8,852.5 739.3,852.8 739.7,852.9 740.2,852.9 740.6,852.5 741,853.6 741.5,853.1 741.9,853.1 742.4,851.8 742.8,852.9 743.3,852.1 743.7,852.6 744.1,851.6 744.6,853.6 745,852.2 745.5,852.5 745.9,852.1 746.4,851.9 746.8,851.6 747.2,853.3 747.7,854.3 748.1,853.3 748.6,853.5 749,852.8 749.5,852.2 749.9,853.7 750.3,853.5 750.8,852.4 751.2,852.6 751.7,852.7 752.1,852.6 752.6,852.6 753,852.3 753.4,852.5 753.9,852.3 754.3,852.3 754.8,852 755.2,853.2 755.7,852.5 756.1,852.3 756.5,852.4 757,852.3 757.4,851.4 757.9,852.3 758.3,851.3 758.8,851.2 759.2,851.7 759.6,851.4 760.1,850.9 760.5,851 761,850.4 761.4,850.2 761.8,849.6 762.3,849.2 762.7,849 763.2,849.3 763.6,848.8 764.1,848.6 764.5,848.9 764.9,847.9 765.4,846.4 765.8,846.6 766.3,847.4 766.7,844.5 767.2,844.7 767.6,843.9 768,843 768.5,843.6 768.9,843 769.4,842.3 769.8,840.9 770.3,840.5 770.7,839.5 771.1,840.2 771.6,838.9 772,837.6 772.5,836.7 772.8,836.2 772.9,835.4 773.4,833.8 773.8,831.9 774.2,829.6 774.7,826.7 775.1,823.1 775.6,819 776,814.8 776.4,809.9 776.9,805.5 777.3,801.9 777.8,799.5 778.2,798.9 778.7,802.4 779.1,809.3 779.5,817.9 780,826 780.4,833.9 780.9,840.2 781.3,843.9 781.8,846.6 782.2,847.8 782.6,850.4 783.1,850.8 783.5,851.9 784,852.2 784.4,849.8 784.9,850.3 785.3,848.7 785.7,849.4 786.2,849.4 786.6,849 786.8,849.7 787.1,849.7 787.5,849.8 788,850.2 788.4,851.5 788.8,852 789.3,852.7 789.7,852.9 790.2,852.8 790.6,852.9 791.1,853.4 791.5,853.2 791.9,853.2 792.4,854.1 792.8,854.1 793.3,853.9 793.7,854.1 794.1,853.9 794.6,854.8 795,854.3 795.5,854.3 795.9,853.6 796.4,853.6 796.8,853.3 797.2,854.2 797.7,854.7 798.1,854.9 798.6,854.4 799,854.5 799.5,854.7 799.9,854.4 800.3,853.5 800.8,855.3 801.2,855.1 801.7,855.3 802.1,855.4 802.6,854.5 803,854.6 803.4,854.4 803.9,855.2 804.3,855 804.8,854.4 805.2,854.9 805.7,856.4 806.1,855.4 806.5,855.3 807,856.3 807.4,854.8 807.9,855.1 808.3,855.7 808.8,855.6 809.2,854.8 809.6,854.9 810.1,855 810.5,855.6 811,855.8 811.4,854.2 811.9,854.8 812.3,854.6 812.7,855.1 813.2,854.9 813.6,855.3 814.1,854.3 814.5,855 814.9,855.4 815.4,856 815.8,856.4 816.3,855.6 816.7,855 817.2,855.9 817.6,855.7 818,855.6 818.5,855.7 818.9,854.6 819.4,854.5 819.8,854.5 820.3,854.4 820.7,855.9 821.1,854.4 821.6,854.9 822,855.1 822.5,854.7 822.9,855.3 823.4,854.7 823.8,854.1 824.2,854 824.7,855.3 825.1,854.7 825.6,854.7 826,854.7 826.5,854.4 826.9,853.4 827.3,853.7 827.8,853.6 828.2,851.8 828.7,852.1 829.1,851.7 829.5,851.6 830,851.1 830.4,850.3 830.9,849.6 831,850.2 831.3,850.3 831.8,850.6 832.2,850.6 832.6,851.9 833.1,852.6 833.5,853.3 834,852.9 834.4,853.8 834.9,854.5 835.3,853.6 835.7,853.7 836.2,854.3 836.6,853.6 837.1,854 837.5,854.3 838,853.3 838.4,854.1 838.8,854 839.3,854.5 839.7,853.8 840.2,853.1 840.6,853 841.1,853.1 841.5,851.6 841.9,851.8 842.4,852.3 842.8,852.3 843.3,851.9 843.7,850.7 844.2,850.6 844.6,850.8 845,850.3 845.5,850.1 845.9,850.8 846.4,850.8 846.8,849.1 847.2,847.9 847.7,847.6 848.1,847.8 848.6,845.8 849,844.4 849.5,842.9 849.9,842.6 850.3,840.5 850.8,838.6 851.2,837 851.7,835.1 852.1,833.5 852.6,832.2 852.9,832.2 853,832.1 853.4,831.9 853.9,832.2 854.3,832.3 854.8,832.7 855.2,832.9 855.7,832.7 856.1,832.5 856.5,831.9 857,831.1 857.4,829.6 857.9,828.1 858.3,826 858.8,823.6 859.2,821.3 859.6,819.1 860.1,817.1 860.5,815.9 861,815.3 861.3,815.1 861.4,815.5 861.9,819.1 862.3,825.4 862.7,832 863.2,838.3 863.6,843.3 864.1,846.7 864.5,850.6 864.9,852.3 865.4,853.3 865.8,853.8 866.3,855.7 866.7,856.5 867.2,856.4 867.6,856 868,855.4 868.5,854.8 868.9,855.4 869.4,855.6 869.8,857.1 870.3,856.5 870.7,855.5 871.1,856.9 871.6,856.8 872,856.1 872.5,856.1 872.9,856.1 873.4,855.3 873.8,854.6 874.2,854.7 874.7,854.8 875.1,854.6 875.6,853.5 876,853.1 876.5,853.5 876.9,853.4 877.3,853.7 877.8,855.3 878.2,854 878.7,854.6 879.1,854.6 879.6,855.6 880,857 880.4,856.8 880.9,857.4 881.3,856.4 881.8,856.7 882.2,857.5 882.6,856.7 883.1,856.2 883.5,855.5 884,856.9 884.4,856.3 884.9,856.9 885.3,856.2 885.7,855.7 886.2,855.8 886.6,855.3 887.1,855.5 887.5,854.3 888,853.7 888.4,853.6 888.8,853 889.3,852.7 889.7,853 890.2,852.6 890.6,852 891.1,852.6 891.5,850.9 891.9,850.6 892.4,850.6 892.8,851.1 893.3,851.1 893.7,851 894,851.5 894.2,850.8 894.6,850.3 895,851.3 895.5,852 895.9,851 896.4,851.1 896.8,851.6 897.3,852.3 897.7,852.7 898.1,853.5 898.6,852.7 899,853.3 899.5,853.2 899.9,854.8 900.4,855.7 900.8,855.8 901.2,856 901.7,856.2 902.1,856.4 902.6,856.3 903,857.2 903.4,857.7 903.9,857.3 904.3,857.9 904.8,858.9 905.2,859.4 905.7,860 906.1,860.6 906.5,858.5 907,858.3 907.4,858.4 907.9,859 908.3,859.8 908.8,858.4 909.2,859.2 909.6,859.3 910.1,859.9 910.5,859.7 911,859 911.4,859.3 911.9,859 912.3,859.1 912.7,859.1 913.2,859.3 913.6,859.6 914.1,859.7 914.5,860.2 915,860.1 915.4,858.7 915.8,859.6 916.3,859.3 916.7,860 917.2,859.5 917.6,859 918,858.6 918.5,859.2 918.9,859.9 919.4,859.2 919.8,859.7 920.3,859.5 920.7,858.4 921.1,859.1 921.6,859.3 922,859.9 922.5,858.8 922.9,859.8 923.4,859.7 923.8,860.3 924.2,859.7 924.7,859.4 925.1,859.5 925.6,859.7 926,860.4 926.5,859.6 926.9,859.6 927.3,859.2 927.8,859.4 928.2,859.9 928.7,860.7 929.1,860.1 929.6,860.1 930,860 930.4,860.5 930.9,860 931.3,859.8 931.8,860.1 932.2,859.8 932.7,860 933.1,859.9 933.5,859.7 934,860.4 934.4,860 934.9,859.7 935.3,860.2 935.8,861.1 936.2,860.5 936.6,860 937.1,860.4 937.5,860.4 938,859.5 938.4,860.4 938.8,860.9 939.3,859.9 939.7,859.7 940.2,860.1 940.6,860.1 941.1,859.9 941.5,860.4 941.9,858.9 942.4,858.8 942.8,859.3 943.3,859.2 943.7,858.4 944.2,857.2 944.6,858.1 945,858 945.5,857.2 945.9,856.6 946.4,856.4 946.8,856.7 947.3,854.4 947.7,853.9 948.1,852.3 948.6,851.9 949,853.1 949.5,852.6 949.9,851.5 950.4,852 950.8,854.1 951.2,854.8 951.7,855.9 952.1,857 952.6,856.6 953,857.2 953.4,857.4 953.9,857.6 954.3,859 954.8,859.2 955.2,858.9 955.7,858.4 956.1,859 956.5,859.3 957,859.2 957.4,860.1 957.9,860.3 958.3,860.3 958.8,860.7 959.2,860 959.6,859.9 960.1,861 960.5,859.7 961,859.9 961.4,860.2 961.9,859.9 962.3,859.6 962.7,859.7 963.2,859.9 963.6,859.5 964.1,859 964.5,857.9 965,858.1 965.4,857.8 965.8,857.5 966.3,857.1 966.7,856.6 967.2,856.4 967.6,856.7 968.1,855.7 968.5,855 968.9,855.9 969.4,855.7 969.8,854.5 970.3,854.2 970.7,853.5 971.1,853.1 971.6,852.7 972,851.2 972.5,849.9 972.9,850.6 973.4,850.3 973.8,849 974.2,849.6 974.7,848.8 975.1,848.3 975.6,848.6 976,848.5 976.5,848.2 976.9,847.6 977.3,846.9 977.8,847.1 978.2,847 978.7,848 979.1,848.7 979.6,848.8 980,849.7 980.4,849.2 980.9,850.9 981.3,851.4 981.8,850.7 982.2,852.1 982.7,853.5 983.1,854.3 983.5,854.1 984,855.5 984.4,856.3 984.9,856.5 985.3,857.6 985.8,857.2 986.2,857.8 986.6,858 987.1,857 987.5,858.3 988,858.9 988.4,858.6 988.9,858.9 989.3,859.6 989.7,859.2 990.2,859.5 990.6,859.3 991.1,859 991.5,859.1 991.9,857.4 992.4,856.7 992.8,856 993.3,856.2 993.7,855.6 994.2,853.6 994.6,851.2 995,850.8 995.5,848.3 995.9,845.8 996.4,844.5 996.8,842.7 997.3,841.5 997.7,840.6 998.1,840.1 998.6,841 999,842.2 999.5,844.3 999.9,847.6 1000.4,850.1 1000.8,850.4 1001.2,853.2 1001.7,855.1 1002.1,857 1002.6,858.3 1003,859.7 1003.5,858.5 1003.9,859.4 1004.3,860.5 1004.8,860.1 1005.2,861.2 1005.7,861.3 1006.1,861.3 1006.5,860.3 1007,859.5 1007.4,860 1007.9,860.3 1008.3,860.6 1008.8,861.3 1009.2,860.7 1009.6,860.1 1010.1,861.6 1010.5,861.6 1011,860.7 1011.4,860.7 1011.9,858.5 1012.3,859.3 1012.7,860.2 1013.2,860.9 1013.6,860.7 1014.1,860.7 1014.5,860.4 1015,860.2 1015.4,861.5 1015.8,862.2 1016.3,861.9 1016.7,860.9 1017.2,859.5 1017.6,860.8 1018.1,860.1 1018.5,860.3 1018.9,860.7 1019.4,861.5 1019.8,860.4 1020.3,860.3 1020.7,860.9 1021.2,861.1 1021.6,860.4 1022,860.5 1022.5,860.5 1022.9,859.8 1023.4,858.6 1023.8,858.9 1024.2,859.8 1024.7,858.2 1025.1,857.6 1025.6,858.1 1026,858.2 1026.5,857.2 1026.9,856.3 1027.3,854.3 1027.8,853.4 1028.2,852.8 1028.7,851.5 1029.1,852.1 1029.6,850.6 1030,851.7 1030.4,849.6 1030.9,849.5 1031.3,848.8 1031.8,848.6 1032.1,849.3 1032.2,848.4 1032.7,848.7 1033.1,850.1 1033.5,850 1034,852.7 1034.4,851.9 1034.9,853.6 1035.3,854.6 1035.8,855.7 1036.2,856.3 1036.6,856.8 1037.1,858 1037.5,858.2 1038,858.3 1038.4,860.2 1038.9,858.9 1039.3,860.1 1039.7,859.9 1040.2,859 1040.6,858.6 1041.1,859.3 1041.5,860.4 1042,861.3 1042.4,860.8 1042.8,861.4 1043.3,861 1043.7,860.8 1044.2,860.7 1044.6,861.3 1045,860 1045.5,859 1045.9,860.5 1046.4,860.2 1046.8,860.1 1047.3,860.3 1047.7,859.9 1048.1,859.3 1048.6,859.8 1049,859.5 1049.5,858.4 1049.9,858.1 1050.4,857.3 1050.8,857 1051.2,856.4 1051.7,856.8 1052.1,855.8 1052.6,855.5 1053,856.1 1053.5,855.9 1053.8,856.7 1053.9,855.7 1054.3,855.8 1054.8,855.8 1055.2,856.5 1055.7,856.3 1056.1,856.8 1056.6,856 1057,856.4 1057.4,857.9 1057.9,857.7 1058.3,857.9 1058.8,858.5 1059.2,858.2 1059.7,857.5 1060.1,857.8 1060.5,857.5 1061,857.5 1061.4,857.5 1061.9,857.8 1062.3,858.1 1062.7,858.2 1063.2,856.8 1063.6,856.8 1064.1,857.4 1064.5,856.5 1065,856.1 1065.4,857.5 1065.8,857.5 1066.3,857.6 1066.7,857.1 1067.2,858.2 1067.6,858.6 1068.1,858.4 1068.5,858.6 1068.9,859.1 1069.4,859.1 1069.8,859.3 1070.3,860.3 1070.7,859.8 1071.2,859.1 1071.6,860.4 1072,861.5 1072.5,860.5 1072.9,860.9 1073.4,860.8 1073.8,860.4 1074.3,860.2 1074.7,860.8 1075.1,859.9 1075.6,860.7 1076,862.4 1076.5,863 1076.9,860.5 1077.4,860.7 1077.8,860.3 1078.2,860.8 1078.7,860.6 1079.1,860.6 1079.6,860.7 1080,860.9 1080.4,860.8 1080.9,860.9 1081.3,861.1 1081.8,861.5 1082.2,860.8 1082.7,860.1 1083.1,860.2 1083.5,859.6 1084,859.4 1084.4,857.9 1084.9,856.8 1085.3,857.4 1085.8,855.8 1086.2,855 1086.6,854.7 1087.1,853.7 1087.5,853.7 1088,853 1088.4,852.4 1088.9,852.4 1089.3,851.2 1089.7,850.3 1090.2,849.3 1090.6,849.2 1090.9,849.1 1091.1,849.6 1091.5,851 1092,850.8 1092.4,851.4 1092.8,851 1093.3,853.7 1093.7,853.7 1094.2,855 1094.6,855.1 1095.1,857 1095.5,857.7 1095.9,857.8 1096.4,859.5 1096.8,860.5 1097.3,860.3 1097.7,860 1098.1,860.4 1098.6,860.2 1099,860.9 1099.5,860.6 1099.9,860.4 1100.4,860.8 1100.8,862 1101.2,860.6 1101.7,861.5 1102.1,861.6 1102.6,861.7 1103,861.6 1103.5,861.7 1103.9,860.2 1104.3,860.8 1104.8,859.9 1105.2,860.7 1105.7,860.9 1106.1,861.3 1106.6,861.5 1107,860.9 1107.4,860.9 1107.9,862 1108.3,862.2 1108.8,861.5 1109.2,860.9 1109.7,861.1 1110.1,861.6 1110.5,861.6 1111,861.5 1111.4,862 1111.9,861.7 1112.3,861.6 1112.8,861.2 1113.2,861.2 1113.6,861.2 1114.1,860.5 1114.5,860.5 1115,859.8 1115.4,860.3 1115.8,859.8 1116.3,860.6 1116.7,861.3 1117.2,860.5 1117.6,860.8 1118.1,861 1118.5,859.4 1118.9,860.6 1119.4,859.1 1119.8,858.7 1120.3,858.6 1120.7,858.4 1121.2,858.2 1121.6,859 1122,859.5 1122.5,859.7 1122.9,859.6 1123.4,859.9 1123.8,859.1 1124.3,858.7 1124.7,859.5 1125.1,858.5 1125.6,859.3 1126,858.6 1126.5,857.6 1126.8,857.7 1126.9,857.9 1127.4,858.4 1127.8,858.7 1128.2,859.1 1128.7,859.2 1129.1,859.6 1129.6,858.2 1130,859 1130.5,860 1130.9,859.1 1131.3,859.7 1131.8,860.2 1132.2,859.3 1132.7,858.4 1133.1,858.9 1133.5,859.5 1134,860.3 1134.4,860.6 1134.9,860.7 1135.3,860.5 1135.8,860.3 1136.2,860.1 1136.6,860.5 1137.1,860.5 1137.5,860.7 1138,860.4 1138.4,860.2 1138.9,861 1139.3,860.7 1139.7,861.4 1140.2,861.8 1140.6,860.8 1141.1,862.3 1141.5,860.9 1142,860.2 1142.4,860.1 1142.8,860.3 1143.3,860.9 1143.7,861.8 1144.2,861.7 1144.6,862.2 1145.1,860.4 1145.5,861.4 1145.9,860.5 1146.4,860.5 1146.8,862.3 1147.3,862.6 1147.7,861.8 1148.2,861 1148.6,860.7 1149,860.2 1149.5,860.5 1149.9,861.3 1150.4,861.4 1150.8,861.2 1151.2,860.7 1151.7,861.1 1152.1,861.1 1152.6,861.9 1153,861 1153.5,861 1153.9,860.8 1154.3,860.5 1154.8,860.2 1155.2,859.7 1155.7,859.7 1156.1,858.5 1156.6,858 1157,857.6 1157.4,857.6 1157.9,857.5 1158.3,858.4 1158.8,858 1159.2,857.7 1159.7,857.7 1160.1,858.1 1160.5,857.2 1161,857.6 1161.4,857.4 1161.9,858.3 1162.3,859.3 1162.8,859.1 1163.2,859.4 1163.6,860 1164.1,859.3 1164.5,859.6 1165,858.5 1165.4,859.5 1165.9,859.8 1166.3,859.7 1166.7,861 1167.2,860.3 1167.6,859.6 1168.1,859.2 1168.5,859.1 1168.9,857.8 1169.4,858.5 1169.8,857.8 1170.3,857.9 1170.7,858 1171.2,858.3 1171.6,857.1 1172,856.5 1172.5,856.2 1172.9,856 1173.4,855.3 1173.8,855.3 1174.3,854.9 1174.7,855.2 1175.1,856.2 1175.6,855.6 1176,856.5 1176.5,856.4 1176.9,857.2 1177.4,857.6 1177.8,856.5 1178.2,856.8 1178.7,856.8 1179.1,858.2 1179.6,858.1 1180,859.4 1180.5,859.5 1180.9,860 1181.3,859.6 1181.8,858.8 1182.2,859.6 1182.7,860 1183.1,860.6 1183.6,861.2 1184,860.5 1184.4,861 1184.9,860.8 1185.3,861.8 1185.8,861 1186.2,861.3 1186.6,862 1187.1,861.9 1187.5,862 1188,862.2 1188.4,862.1 1188.9,862 1189.3,861.1 1189.7,862.3 1190.2,862.4 1190.6,862.7 1191.1,861.7 1191.5,861.8 1192,860.3 1192.4,861.1 1192.8,860.9 1193.3,861.1 1193.7,861.6 1194.2,861.3 1194.6,861.7 1195.1,860.6 1195.5,862.5 1195.9,861.3 1196.4,860.8 1196.8,860.5 1197.3,861.6 1197.7,860.4 1198.2,860.6 1198.6,862.1 1199,860.9 1199.5,860.9 1199.9,860.7 1200.4,861.7 1200.8,861.1 1201.2,861.5 1201.7,861.1 1202.1,861 1202.6,860.2 1203,861.3 1203.5,861.3 1203.9,861.1 1204.3,861.5 1204.8,861.4 1205.2,861.4 1205.7,861.5 1206.1,861.7 1206.6,861.1 1207,861.8 1207.4,861.8 1207.9,861.2 1208.3,860.9 1208.8,861.7 1209.2,861.6 1209.7,860.8 1210.1,860.4 1210.5,862.2 1211,861 1211.4,860.8 1211.9,861 1212.3,860.6 1212.8,862.1 1213.2,861 1213.6,860.6 1214.1,861.2 1214.5,860.6 1215,860.4 1215.4,861.3 1215.9,861.8 1216.3,862.2 1216.7,861.4 1217.2,860.6 1217.6,860.5 1218.1,860.2 1218.5,860.5 1219,860.6 1219.4,860.2 1219.8,860.7 1220.3,860.6 1220.7,859.3 1221.2,860.2 1221.6,859.1 1222,858.7 1222.5,859.1 1222.9,858.6 1223.4,857.6 1223.8,857.4 1224.3,857.1 1224.7,855.8 1225.1,854.1 1225.6,855.5 1226,854 1226.5,853.8 1226.9,855 1227.4,853.5 1227.8,853.6 1228.2,852.4 1228.7,853.7 1229,852.6 1229.1,853.6 1229.6,853.1 1230,854.1 1230.5,854.2 1230.9,853.7 1231.3,853.6 1231.8,853.3 1232.2,854.6 1232.7,856.2 1233.1,856.1 1233.6,856.6 1234,857.5 1234.4,857.8 1234.9,858.2 1235.3,858.4 1235.8,857.9 1236.2,857.7 1236.7,858.2 1237.1,858 1237.5,858.4 1238,857.5 1238.4,858.3 1238.9,858.9 1239.3,859.3 1239.7,858.6 1240.2,858.7 1240.6,859.6 1241.1,859.3 1241.5,858.7 1241.8,857.7 1242,858.2 1242.4,858.4 1242.8,857.7 1243.3,857.8 1243.7,857.2 1244.2,858.9 1244.6,858.3 1245.1,860.2 1245.5,859.6 1245.9,859.4 1246.4,859.8 1246.8,860.2 1247.3,860.5 1247.7,860.1 1248.2,859.8 1248.6,860 1249,860.5 1249.5,860.4 1249.9,861 1250.4,861.6 1250.8,861.5 1251.3,861.4 1251.7,861.7 1252.1,860.8 1252.6,861.2 1253,861.4 1253.5,862.2 1253.9,862.3 1254.4,861.3 1254.8,862.2 1255.2,860.9 1255.7,861.8 1256.1,861.3 1256.6,861.4 1257,860.8 1257.4,860.4 1257.9,859.5 1258.3,860.5 1258.8,859.8 1259.2,860 1259.7,858.9 1260.1,859.4 1260.5,859 1261,858.2 1261.4,858 1261.9,857.5 1262.3,857.7 1262.8,858.4 1263.2,856.9 1263.6,855.9 1264.1,856.6 1264.5,856.7 1265,858.1 1265.4,857.7 1265.9,857 1266.3,858.2 1266.7,858.6 1267.2,858.3 1267.6,859.3 1268.1,860 1268.5,859.9 1269,861.1 1269.4,860.7 1269.8,861.4 1270.3,859.8 1270.7,860.7 1271.2,860.6 1271.6,860.6 1272.1,860.9 1272.5,861 1272.9,861.2 1273.4,860.9 1273.8,861 1274.3,860.4 1274.7,858.9 1275.1,859.4 1275.6,858.6 1276,858.7 1276.5,858.5 1276.9,858.6 1277.4,858.6 1277.8,858.4 1278.2,857.8 1278.7,858.2 1279.1,857.6 1279.6,856.8 1279.7,857.6 1280,857.1 1280.5,857.8 1280.9,859.1 1281.3,858.6 1281.8,859.2 1282.2,859.8 1282.7,859.5 1283.1,859.1 1283.6,860.2 1284,860.6 1284.4,859.9 1284.9,860.6 1285.3,860.4 1285.8,860.2 1286.2,859.3 1286.7,859.4 1287.1,860.1 1287.5,859.1 1288,859.7 1288.4,859.9 1288.9,858.5 1289.3,860.1 1289.8,859.4 1290.2,857.8 1290.6,857.8 1291.1,858.4 1291.5,859 1292,857.1 1292.3,857.5 1292.4,857.1 1292.8,858.2 1293.3,857.7 1293.7,858 1294.2,857.9 1294.6,859.6 1295.1,858.8 1295.5,858.8 1295.9,858.7 1296.4,859.1 1296.8,859.7 1297.3,860.7 1297.7,859.9 1298.2,860.3 1298.6,860.1 1299,861 1299.5,860.6 1299.9,861.1 1300.4,860.3 1300.8,861.5 1301.3,861.1 1301.7,861.7 1302.1,861.4 1302.6,860.7 1303,861.1 1303.5,862.1 1303.9,861.4 1304.4,861.3 1304.8,861.7 1305.2,861 1305.7,861.3 1306.1,861.1 1306.6,861.8 1307,861 1307.5,860.7 1307.9,861.4 1308.3,861.6 1308.8,861.5 1309.2,860.8 1309.7,861.4 1310.1,861.1 1310.5,862 1311,861 1311.4,860.4 1311.9,860.1 1312.3,861.4 1312.8,862.1 1313.2,862.1 1313.6,861.7 1314.1,861.6 1314.5,862.5 1315,861.8 1315.4,862.6 1315.9,862.2 1316.3,861.7 1316.7,861.2 1317.2,861.1 1317.6,861.4 1318.1,860.6 1318.5,861 1319,861.3 1319.4,861.2 1319.8,861.5 1320.3,861.1 1320.7,861.5 1321.2,861.6 1321.6,862 1322.1,862.1 1322.5,861.5 1322.9,861.6 1323.4,861.3 1323.8,861 1324.3,860.8 1324.7,860.9 1325.2,861.5 1325.6,861.2 1326,860.9 1326.5,860.8 1326.9,861.4 1327.4,860.9 1327.8,861.1 1328.2,861.6 1328.7,862.3 1329.1,860.8 1329.6,860.2 1330,860.7 1330.5,860.3 1330.9,861.4 1331.3,860.7 1331.8,861.5 1332.2,860.9 1332.7,860.7 1333.1,860.3 1333.6,860.1 1334,859.7 1334.4,860.3 1334.9,860.8 1335.3,860.2 1335.8,859 1336.2,860.2 1336.7,859.8 1337,860.6 1337.1,860.8 1337.5,859.6 1338,860.4 1338.4,859.6 1338.9,859.7 1339.3,859.4 1339.8,859.4 1340.2,860.8 1340.6,860.3 1341.1,860 1341.5,861 1342,861.4 1342.4,861 1342.9,861.2 1343.3,861.1 1343.7,861.7 1344.2,860 1344.6,860.5 1345.1,861.1 1345.5,861.1 1345.9,861.9 1346.4,861.6 1346.8,860.7 1347.3,862 1347.7,860.2 1348.2,860.8 1348.6,861.7 1349,863 1349.5,862.7 1349.9,862.4 1350.4,861.6 1350.8,862.5 1351.3,861.5 1351.7,861.6 1352.1,860.6 1352.6,860.9 1353,860.6 1353.5,861.2 1353.9,862 1354.4,861.3 1354.8,862.2 1355.2,861.8 1355.7,862.8 1356.1,861.8 1356.6,861.8 1357,860 1357.5,861.3 1357.9,861.1 1358.3,861 1358.8,861.5 1359.2,861.6 1359.7,862.5 1360.1,862.6 1360.6,861.3 1361,861 1361.4,862 1361.9,861.8 1362.3,861.6 1362.8,862.6 1363.2,861.6 1363.6,861.8 1364.1,861.8 1364.5,861.6 1365,862.3 1365.4,862.3 1365.9,862.2 1366.3,861.5 1366.7,861.4 1367.2,861.9 1367.6,860.8 1368.1,861.5 1368.5,861.5 1369,861.6 1369.4,861.3"/>
<polyline class="cv" points="263.6,1306 264.1,1306.5 264.5,1306 265,1305.6 265.4,1306.1 265.9,1306.4 266.3,1306.5 266.7,1306.6 267.2,1306.5 267.6,1306.4 268.1,1306.3 268.5,1306.5 269,1306.5 269.4,1307 269.8,1307.1 270.3,1306.6 270.7,1307 271.2,1307 271.6,1307.3 272.1,1307.6 272.5,1307.5 272.9,1306.8 273.4,1307.3 273.8,1306.8 274.3,1307.6 274.7,1307.3 275.2,1307.3 275.6,1307.9 276,1307.1 276.5,1307.4 276.9,1307.2 277.4,1307.3 277.8,1307.3 278.3,1307.8 278.7,1307.7 279.1,1307.9 279.6,1308 280,1307.4 280.5,1308.2 280.9,1308 281.3,1307.5 281.8,1307.7 282.2,1308.2 282.7,1308.5 283.1,1308.1 283.6,1308.2 284,1308.3 284.4,1308.6 284.9,1308.4 285.3,1308.7 285.8,1308.2 286.2,1308.1 286.7,1308.5 287.1,1308.7 287.5,1308.6 288,1308.8 288.4,1308.7 288.9,1308.9 289.3,1309.1 289.8,1309 290.2,1309.1 290.6,1308.8 291.1,1308.6 291.5,1308.1 292,1308.7 292.4,1308.8 292.9,1309.1 293.3,1308.4 293.7,1308.6 294.2,1308.7 294.6,1308.4 295.1,1309.1 295.5,1309.5 296,1308.9 296.4,1309.2 296.8,1309.7 297.3,1309 297.7,1309.5 298.2,1309.8 298.6,1310 299,1309.2 299.5,1309 299.9,1309.3 300.4,1309.7 300.8,1309.1 301.3,1309.1 301.7,1309 302.1,1309.7 302.6,1309.4 303,1309.7 303.5,1309.8 303.9,1310 304.4,1309.9 304.8,1309.8 305.2,1310.1 305.7,1310 306.1,1309.4 306.6,1309.5 307,1309.9 307.5,1309.9 307.9,1309.7 308.3,1309.8 308.8,1310.8 309.2,1310.2 309.7,1310.1 310.1,1310.1 310.6,1309.9 311,1310.3 311.4,1310.3 311.9,1310.2 312.3,1309.7 312.8,1310.3 313.2,1310.3 313.7,1310.1 314.1,1309.3 314.5,1309.8 315,1309.6 315.4,1309.9 315.9,1309.9 316.3,1309.8 316.8,1310.3 317.2,1310.3 317.6,1310.6 318.1,1310.1 318.5,1310.1 319,1310.6 319.4,1310.5 319.8,1310.1 320.3,1310 320.7,1310 321.2,1310.2 321.6,1310.5 322.1,1310.4 322.5,1310.6 322.9,1310.7 323.4,1310.5 323.8,1310.8 324.3,1310.8 324.7,1310.5 325.2,1310.4 325.6,1310.4 326,1310.2 326.5,1310 326.9,1310.3 327.4,1310.3 327.8,1310.6 328.3,1310.3 328.7,1310.5 329.1,1310.6 329.6,1310.4 330,1310.5 330.5,1310.3 330.9,1310.3 331.4,1310.7 331.8,1310.7 332.2,1310.6 332.7,1310.4 333.1,1310.7 333.6,1311.3 334,1310.2 334.4,1310.8 334.9,1310.8 335.3,1311 335.8,1311.1 336.2,1310.5 336.7,1311.1 337.1,1310.6 337.5,1310.6 338,1310.8 338.4,1310.7 338.9,1310.8 339.3,1310.6 339.8,1310.3 340.2,1310.6 340.6,1310.3 341.1,1311 341.5,1310.9 342,1311.2 342.4,1310.5 342.9,1310 343.3,1309.7 343.7,1310.2 344.2,1310.1 344.6,1310.6 345.1,1310.2 345.5,1310 346,1310.5 346.4,1310.4 346.8,1310.7 347.3,1310.8 347.7,1310.7 348.2,1310.1 348.6,1310 349.1,1310.7 349.5,1310.1 349.9,1309.8 350.4,1309.2 350.8,1308.2 351.3,1306.7 351.7,1304.7 352.1,1302.3 352.6,1299.6 353,1299.2 353.2,1298.9 353.5,1299.1 353.9,1302.3 354.4,1305.5 354.8,1307.2 355.2,1308.7 355.7,1310.1 356.1,1310.3 356.6,1310.5 357,1310.7 357.5,1310.5 357.9,1310.4 358.3,1310.9 358.8,1310.6 359.2,1310.5 359.7,1310.7 360.1,1310.6 360.6,1310.2 361,1310.9 361.4,1310.6 361.9,1311 362.3,1310.8 362.8,1310.3 363.2,1310.8 363.7,1310.4 364.1,1310.1 364.5,1310.2 365,1309.5 365.4,1310 365.9,1309.8 366.3,1309.9 366.8,1309.6 367.2,1309.9 367.6,1309.9 368.1,1310 368.5,1310.2 369,1309.7 369.4,1309.4 369.8,1309.2 370.3,1308.7 370.7,1308.4 371.2,1308.6 371.6,1307.9 372.1,1307.2 372.5,1307.1 372.9,1306.9 373.4,1306.9 373.8,1305.7 374.3,1304.7 374.7,1304 375.2,1302.8 375.6,1301.4 376,1299.3 376.5,1296.6 376.9,1292.5 377.4,1286.5 377.8,1277.1 378.3,1263.1 378.7,1243.2 379.1,1217.4 379.6,1187.9 380,1161.7 380.5,1150.8 380.9,1177.1 381.4,1224 381.8,1260.4 382.2,1281.8 382.7,1292.9 383.1,1298.7 383.6,1301.8 384,1303.7 384.5,1305.8 384.9,1306.4 385.3,1307.8 385.8,1308.5 386.2,1309.2 386.7,1308.9 387.1,1309.4 387.5,1309.2 388,1309.5 388.4,1309.4 388.9,1309.7 389.3,1309.9 389.8,1310.5 390.2,1310.8 390.6,1310.5 391.1,1310.5 391.5,1310.3 392,1310.3 392.4,1310.1 392.9,1310.5 393.3,1310.9 393.7,1310.7 394.2,1311 394.6,1310.6 395.1,1310.6 395.5,1310.7 396,1311.2 396.4,1311 396.8,1311.3 397.3,1311 397.7,1310.8 398.2,1310.4 398.6,1310.7 399.1,1310.7 399.5,1311.3 399.9,1311.3 400.4,1310.7 400.8,1311.3 401.3,1311.4 401.7,1310.4 402.2,1310.6 402.6,1311.1 403,1310.7 403.5,1310.8 403.9,1311.2 404.4,1311.3 404.8,1311.4 405.2,1311.4 405.7,1311 406.1,1311.9 406.6,1311.6 407,1312 407.5,1311.4 407.9,1311.4 408.3,1311.4 408.8,1311.2 409.2,1311.3 409.7,1311.3 410.1,1311.5 410.6,1311.4 411,1311.2 411.4,1311.3 411.9,1311.6 412.3,1311.3 412.8,1311.4 413.2,1311.3 413.7,1310.6 414.1,1310.6 414.5,1310.7 415,1310.5 415.4,1310.7 415.9,1310.4 416.3,1310.9 416.8,1310.8 417.2,1311.3 417.6,1311.2 418.1,1310.7 418.5,1310.8 419,1310.9 419.4,1310.7 419.9,1310.7 420.3,1310.5 420.7,1310.5 421.2,1310.7 421.6,1310.6 422.1,1311 422.5,1310.2 422.9,1310.2 423.4,1310.4 423.8,1310.9 424.3,1311 424.7,1310.8 425.2,1310.8 425.6,1311 426,1310.7 426.5,1310.3 426.9,1310.2 427.4,1309.9 427.8,1309.9 428.3,1310 428.7,1309.7 429.1,1309.7 429.6,1309.5 430,1309 430.5,1308.8 430.9,1309.2 431.4,1309 431.8,1309.1 432.2,1308.7 432.7,1308.4 433.1,1308.2 433.6,1307.8 434,1308 434.5,1307.7 434.9,1307.1 435.3,1306.2 435.8,1305.6 436.2,1305.2 436.7,1304.9 437.1,1303.9 437.6,1302.8 438,1301.8 438.4,1300.4 438.9,1298.6 439.3,1296.5 439.8,1294.1 440.2,1290.7 440.6,1286 441.1,1279.4 441.5,1269.4 442,1254.2 442.4,1231.2 442.9,1198.3 443.3,1153.8 443.7,1100.4 444.2,1047.4 444.6,1014.8 444.8,1012.5 445.1,1036.1 445.5,1120.2 446,1197.5 446.4,1246.1 446.8,1271.9 447.3,1285.1 447.7,1292.2 448.2,1296.8 448.6,1299.4 449.1,1302.2 449.5,1303.4 449.9,1304.6 450.4,1305.9 450.8,1306.4 451.3,1306.7 451.7,1307.5 452.2,1308.1 452.6,1308.1 453,1309 453.5,1309 453.9,1309.2 454.4,1309.5 454.8,1309.8 455.3,1310.2 455.7,1309.5 456.1,1310 456.6,1310.5 457,1310.5 457.5,1310.5 457.9,1310.2 458.3,1310.6 458.8,1310.5 459.2,1310.7 459.7,1310.5 460.1,1310.6 460.6,1310.8 461,1310.4 461.4,1311.1 461.9,1311 462.3,1310.6 462.8,1310.8 463.2,1311 463.7,1311 464.1,1310.8 464.5,1310.9 465,1310.7 465.4,1310.5 465.9,1311.3 466.3,1311.7 466.8,1311.9 467.2,1312.1 467.6,1311.9 468.1,1311.2 468.5,1311.1 469,1311.5 469.4,1311.2 469.9,1311.1 470.3,1311.2 470.7,1311.4 471.2,1310.9 471.6,1311.2 472.1,1311.4 472.5,1310.7 473,1311.4 473.4,1311.6 473.8,1311.2 474.3,1311.8 474.7,1311.6 475.2,1311.6 475.6,1311.9 476,1310.8 476.5,1311.1 476.9,1311.6 477.4,1311.8 477.8,1311.5 478.3,1311.3 478.7,1311.1 479.1,1311.1 479.6,1311 480,1310.5 480.5,1310.9 480.9,1310.9 481.4,1311 481.8,1311.1 482.2,1311.1 482.7,1311.3 483.1,1311.3 483.6,1311.2 484,1311.1 484.5,1311.2 484.9,1311.2 485.3,1311.2 485.8,1311.7 486.2,1311.5 486.7,1311.2 487.1,1310.7 487.6,1310.6 488,1310.2 488.4,1311.1 488.9,1311.5 489.3,1311.2 489.8,1311.1 490.2,1311.3 490.7,1311.4 491.1,1310.8 491.5,1311 492,1311 492.4,1310.8 492.9,1311.4 493.3,1311.5 493.8,1311.1 494.2,1311.1 494.6,1311 495.1,1310.9 495.5,1310.9 496,1311.3 496.4,1311.2 496.8,1311 497.3,1310.8 497.7,1311 498.2,1310.8 498.6,1310.4 499.1,1310.8 499.5,1311.4 499.9,1310.9 500.4,1311 500.8,1310.9 501.3,1311.2 501.7,1311.1 502.2,1310.6 502.6,1311.2 503,1310.9 503.5,1310.5 503.9,1310.5 504.4,1310.6 504.8,1310.9 505.3,1310.6 505.7,1310.4 506.1,1310.8 506.6,1311.1 507,1310.5 507.5,1310.5 507.9,1310.5 508.4,1310.2 508.8,1309.9 509.2,1310.3 509.7,1309.8 510.1,1309.3 510.6,1309.8 511,1310 511.4,1309.9 511.9,1309.3 512.3,1309.2 512.8,1308.7 513.2,1308.6 513.7,1307.8 514.1,1307.8 514.5,1308.3 515,1307.5 515.4,1307.8 515.9,1307.1 516.3,1306 516.8,1306.1 517.2,1305.2 517.6,1305 518.1,1304.3 518.5,1303.6 519,1302.9 519.4,1301.8 519.6,1301.6 519.9,1301.2 520.3,1301 520.7,1299.6 521.2,1298.5 521.6,1297 522.1,1294.7 522.5,1291.3 523,1286.4 523.4,1278.8 523.8,1267.7 524.3,1250.9 524.7,1228.2 525.2,1199.3 525.6,1167.3 526.1,1139.4 526.5,1127.8 526.9,1151.2 527.4,1197.3 527.8,1238 528.3,1265.5 528.7,1281.7 529.1,1290.6 529.6,1295.4 530,1298.4 530.5,1299.8 530.9,1299.4 531.4,1298.6 531.8,1296.1 532.2,1291.9 532.7,1286.1 533.1,1280 533.6,1275.5 533.9,1274.7 534,1275.4 534.5,1282.6 534.9,1292.1 535.3,1299.7 535.8,1305 536.2,1306.8 536.7,1307.9 537.1,1309.3 537.6,1309.7 538,1309.7 538.4,1309.7 538.9,1309.4 539.3,1310.2 539.8,1310.4 540.2,1309.7 540.7,1310 541.1,1310.2 541.5,1310.3 542,1310.2 542.4,1311.1 542.9,1310.5 543.3,1311 543.8,1310.9 544.2,1310.8 544.6,1310.8 545.1,1311 545.5,1310.6 546,1310.6 546.4,1311.1 546.9,1311.2 547.3,1311.1 547.7,1310.6 548.2,1310.3 548.6,1311.1 549.1,1311.4 549.5,1311.2 549.9,1311.1 550.4,1310.9 550.8,1311 551.3,1311.3 551.7,1311.3 552.2,1310.9 552.6,1311 553,1310.8 553.5,1310.9 553.9,1310.6 554.4,1310.1 554.8,1310.4 555.3,1310.8 555.7,1310.7 556.1,1311 556.6,1310.8 557,1311 557.5,1310.8 557.9,1311.3 558.4,1311 558.8,1310.9 559.2,1311.3 559.7,1311.5 560.1,1310.8 560.6,1311.3 561,1310.7 561.5,1310.5 561.9,1310.5 562.3,1311 562.8,1310.6 563.2,1310.9 563.7,1311 564.1,1310.8 564.5,1310.9 565,1311.4 565.4,1311.4 565.9,1310.7 566.3,1310.7 566.8,1310.5 567.2,1310.5 567.6,1310.3 568.1,1310.5 568.5,1310.1 569,1309.7 569.4,1309.8 569.9,1309.7 570.3,1309.6 570.7,1308.8 571.2,1307.2 571.6,1305.4 572.1,1303.6 572.5,1301.1 573,1298.5 573.4,1296.1 573.8,1294.5 574,1294.4 574.3,1295.3 574.7,1298.4 575.2,1303.1 575.6,1306.1 576.1,1308.3 576.5,1309.3 576.9,1310 577.4,1310.3 577.8,1310.6 578.3,1310.1 578.7,1309.9 579.2,1310.4 579.6,1310.8 580,1310.7 580.5,1310.7 580.9,1311.1 581.4,1311.1 581.8,1310.6 582.2,1310.8 582.7,1310.8 583.1,1310.8 583.6,1310.8 584,1311 584.5,1310.9 584.9,1311 585.3,1310.9 585.8,1310.8 586.2,1310.7 586.7,1310.9 587.1,1311 587.6,1311.4 588,1311.8 588.4,1311 588.9,1310.7 589.3,1311.1 589.8,1310.8 590.2,1310.9 590.7,1310.5 591.1,1310.9 591.5,1310.4 592,1311 592.4,1310.7 592.9,1310.8 593.3,1311.1 593.8,1310.7 594.2,1310.7 594.6,1311.4 595.1,1310.6 595.5,1310.8 596,1310.2 596.4,1310.7 596.9,1310.7 597.3,1310.4 597.7,1310.3 598.2,1311 598.6,1311.1 599.1,1310.5 599.5,1310.9 599.9,1310.6 600.4,1310.5 600.8,1310.8 601.3,1310.7 601.7,1310.9 602.2,1311.1 602.6,1310.7 603,1310.9 603.5,1310.9 603.9,1310.3 604.4,1310.8 604.8,1311 605.3,1310.4 605.7,1310.5 606.1,1310.9 606.6,1311 607,1310.7 607.5,1310.6 607.9,1310.5 608.4,1310.2 608.8,1310.5 609.2,1311.2 609.7,1310.4 610.1,1310.5 610.6,1310.3 611,1310.9 611.5,1310.2 611.9,1310.6 612.3,1310.7 612.8,1310.3 613.2,1310.3 613.7,1310.4 614.1,1310.9 614.6,1310.6 615,1310.8 615.4,1310.8 615.9,1310.5 616.3,1310.3 616.8,1310.2 617.2,1310.6 617.6,1310.6 618.1,1310.4 618.5,1309.8 619,1309.6 619.4,1309.8 619.9,1309.4 620.3,1308.8 620.7,1308.5 621.2,1308.8 621.6,1308.8 622.1,1308.6 622.5,1308.7 623,1307.6 623.4,1307 623.8,1307.2 624.3,1307.3 624.7,1306.7 625.2,1306.7 625.6,1306.7 625.8,1306.4 626.1,1306.1 626.5,1306.1 626.9,1306.1 627.4,1306.2 627.8,1305.7 628.3,1305 628.7,1304.2 629.2,1303.4 629.6,1302.4 630,1300.3 630.5,1298.1 630.9,1295.6 631.4,1292.7 631.8,1290 632.3,1287.6 632.7,1286.4 632.8,1286.4 633.1,1287 633.6,1290.5 634,1295.2 634.5,1299.6 634.9,1303.4 635.4,1305.8 635.8,1307 636.2,1307.6 636.7,1308.6 637.1,1308.9 637.6,1308.9 638,1308.9 638.4,1309.6 638.9,1309.6 639.3,1309.8 639.8,1309.8 640.2,1309.7 640.7,1309.8 641.1,1309.8 641.5,1309.9 642,1309.8 642.4,1310.2 642.9,1309.9 643.3,1310.1 643.8,1310.2 644.2,1310.4 644.6,1309.4 645.1,1310.1 645.5,1310.3 646,1310.1 646.4,1310.1 646.9,1310.1 647.3,1309.7 647.7,1310.9 648.2,1310.4 648.6,1310.4 649.1,1309.9 649.5,1310 650,1309.4 650.4,1309.9 650.8,1309.8 651.3,1310.1 651.7,1310.3 652.2,1310.6 652.6,1310.3 653,1309.9 653.5,1309.9 653.9,1310.2 654.4,1310.7 654.8,1309.6 655.3,1309.6 655.7,1309.7 656.1,1309.9 656.6,1310.2 657,1310.5 657.5,1310.3 657.9,1310.5 658.4,1309.9 658.8,1309.7 659.2,1309.3 659.7,1309.3 660.1,1309.7 660.6,1309.5 661,1309.9 661.5,1309 661.9,1308.2 662.3,1307.8 662.8,1306.3 663.2,1306 663.7,1305.1 664.1,1303.9 664.6,1303.9 665,1304.3 665.4,1305.5 665.9,1306.3 666.3,1307.1 666.8,1308 667.2,1308.6 667.7,1308.7 668.1,1309.4 668.5,1309.7 669,1309.4 669.4,1309.3 669.9,1309.1 670.3,1309.2 670.8,1309.2 671.2,1309.4 671.6,1309.6 672.1,1309.9 672.5,1309.3 673,1309.1 673.4,1308.8 673.8,1309 674.3,1309.3 674.7,1308.8 675.2,1308.8 675.6,1308.4 676.1,1308.1 676.5,1308.1 676.9,1308.4 677.4,1308 677.8,1307.3 678.3,1307.1 678.7,1307 679.2,1307.4 679.6,1306.4 680,1306.9 680.5,1306.3 680.9,1305.9 681.4,1305.3 681.8,1303.7 682.3,1303.6 682.7,1303.2 683.1,1302.8 683.6,1302.5 684,1301.6 684.5,1300.8 684.9,1300.5 685.4,1300 685.8,1299.7 686.2,1299.1 686.7,1298.8 687.1,1297.7 687.6,1298.2 688,1298.7 688.4,1298.6 688.9,1298.7 689.3,1299.1 689.8,1299.1 690.2,1299.4 690.7,1300.2 691.1,1300.7 691.5,1300 692,1300.2 692.4,1300.5 692.9,1300.7 693.3,1299.8 693.8,1299.1 694.2,1298.2 694.6,1296.6 695.1,1293.6 695.5,1290.2 696,1286.1 696.4,1281.5 696.9,1276.7 697.3,1272.5 697.7,1270 698,1269.5 698.2,1269.9 698.6,1275.5 699.1,1284 699.5,1291.9 700,1298.5 700.4,1302.2 700.8,1303.7 701.3,1305.3 701.7,1306.4 702.2,1306.8 702.6,1307.3 703.1,1307.4 703.5,1307.7 703.9,1307 704.4,1306.1 704.8,1304.7 705.3,1302.9 705.7,1300.1 706.1,1298.5 706.6,1297.4 707,1297.6 707.5,1300.4 707.9,1302.5 708.4,1304.7 708.8,1305.6 709.2,1306.8 709.7,1306.9 710.1,1307.9 710.6,1307.9 711,1307.3 711.5,1306.2 711.9,1306.4 712.3,1306.3 712.8,1305.9 713.2,1305.8 713.7,1305.3 714.1,1305.3 714.6,1305.2 715,1304.8 715.4,1305.3 715.9,1305.5 716.3,1305.5 716.8,1305.6 717.2,1305.8 717.7,1307.1 718.1,1307.8 718.5,1307.8 719,1307.6 719.4,1308.1 719.9,1308 720.3,1308 720.8,1307.8 721.2,1308.2 721.6,1308.3 722.1,1308.8 722.5,1308.7 723,1308.1 723.4,1307.7 723.9,1307.2 724.3,1306.4 724.7,1305.3 725.2,1304.3 725.6,1302.2 726.1,1301 726.5,1299.9 726.9,1299.5 727.1,1299.3 727.4,1299.3 727.8,1301.3 728.3,1303.6 728.7,1305.1 729.2,1307.1 729.6,1308.8 730,1308.8 730.5,1309.3 730.9,1308.7 731.4,1309.3 731.8,1309.3 732.3,1309.7 732.7,1309.7 733.1,1309.8 733.6,1310.2 734,1310.2 734.5,1310.3 734.9,1309.8 735.4,1309.8 735.8,1309.9 736.2,1309.8 736.7,1309.7 737.1,1309.9 737.6,1310.1 738,1309.9 738.5,1309.6 738.9,1310.2 739.3,1309.8 739.8,1310.4 740.2,1310.2 740.7,1310.1 741.1,1310.4 741.5,1310.1 742,1309.7 742.4,1309.9 742.9,1309.3 743.3,1309.8 743.8,1309.9 744.2,1310.1 744.6,1310 745.1,1310.5 745.5,1310.2 746,1309.8 746.4,1310.7 746.9,1310.2 747.3,1310.2 747.7,1309.9 748.2,1309.8 748.6,1309.8 749.1,1309.6 749.5,1309.7 750,1309.7 750.4,1309.6 750.8,1309.4 751.3,1309.5 751.7,1308.9 752.2,1309.5 752.6,1308.8 753.1,1309.2 753.5,1309.4 753.9,1309.3 754.4,1309.4 754.8,1310 755.3,1309.6 755.7,1309.3 756.2,1309.4 756.6,1309.1 757,1308.6 757.5,1308.7 757.9,1309.1 758.4,1308.9 758.8,1309 759.2,1309.1 759.7,1308.2 760.1,1308 760.6,1308 761,1307.8 761.5,1308.1 761.9,1307.7 762.3,1307.3 762.8,1307.8 763.2,1307 763.7,1306.5 764.1,1306.9 764.6,1306.4 765,1305.9 765.4,1305.6 765.9,1304.9 766.3,1304.3 766.8,1303.7 767.2,1303.5 767.7,1302.6 768.1,1301.5 768.5,1300.6 769,1300.2 769.4,1299 769.9,1297.9 770.3,1297.2 770.8,1296.1 771.2,1295.6 771.6,1295.1 772.1,1294.3 772.5,1293.3 773,1292.4 773.3,1291.7 773.4,1291.4 773.9,1290.5 774.3,1289.5 774.7,1288.1 775.2,1286.1 775.6,1283.3 776.1,1279.5 776.5,1274.5 776.9,1268.2 777.4,1261.4 777.8,1254.8 778.3,1250.2 778.7,1248.7 779.2,1253.5 779.6,1264.1 780,1275.8 780.5,1285.4 780.9,1292.6 781.4,1297.3 781.8,1301.2 782.3,1303.1 782.7,1304.3 783.1,1305.1 783.6,1306.1 784,1306.1 784.5,1306.2 784.9,1306.5 785.4,1306.4 785.8,1305.9 786.2,1305.5 786.7,1305.2 787.1,1304.3 787.3,1304.7 787.6,1304.8 788,1305.5 788.5,1306.3 788.9,1307.1 789.3,1308 789.8,1308.1 790.2,1308.5 790.7,1308.9 791.1,1309.2 791.6,1309 792,1309.5 792.4,1309.9 792.9,1309.7 793.3,1309.3 793.8,1309.9 794.2,1310.4 794.6,1310.3 795.1,1310.6 795.5,1310.6 796,1310.3 796.4,1310.1 796.9,1310.9 797.3,1310.6 797.7,1310.3 798.2,1310.6 798.6,1310.2 799.1,1310.1 799.5,1310.6 800,1310.7 800.4,1310.3 800.8,1310.6 801.3,1310.7 801.7,1309.9 802.2,1310.2 802.6,1310.6 803.1,1310.5 803.5,1310.2 803.9,1310.6 804.4,1310.3 804.8,1310.7 805.3,1310.6 805.7,1310.8 806.2,1310.4 806.6,1311 807,1310.6 807.5,1310.5 807.9,1310.3 808.4,1310.4 808.8,1310.5 809.3,1310.4 809.7,1310.7 810.1,1310.7 810.6,1310.5 811,1310.5 811.5,1310.6 811.9,1310.8 812.4,1311 812.8,1310.4 813.2,1310.7 813.7,1310.8 814.1,1310.2 814.6,1310.6 815,1311 815.4,1310.6 815.9,1310.2 816.3,1309.8 816.8,1310.3 817.2,1310.4 817.7,1310.4 818.1,1310.7 818.5,1310.2 819,1310.4 819.4,1311 819.9,1311.1 820.3,1310.5 820.8,1309.9 821.2,1310.4 821.6,1310.5 822.1,1310.5 822.5,1310.2 823,1310.5 823.4,1310.2 823.9,1309.9 824.3,1309.9 824.7,1310.1 825.2,1310.1 825.6,1309.7 826.1,1310 826.5,1310.3 827,1309.4 827.4,1309.5 827.8,1309 828.3,1308 828.7,1308.2 829.2,1307.5 829.6,1307.2 830,1306.6 830.5,1305.5 830.9,1305.5 831.4,1305.9 831.5,1306.1 831.8,1305.6 832.3,1306.3 832.7,1306.9 833.1,1307.8 833.6,1308.6 834,1309.1 834.5,1309.4 834.9,1309.5 835.4,1309.4 835.8,1309.1 836.2,1309.4 836.7,1309.8 837.1,1309.8 837.6,1309.4 838,1308.7 838.5,1308.8 838.9,1308.5 839.3,1308.8 839.8,1308.3 840.2,1308.2 840.7,1308.2 841.1,1308 841.6,1307.9 842,1307.9 842.4,1307.5 842.9,1307.4 843.3,1306.6 843.8,1306.4 844.2,1306.8 844.7,1305.9 845.1,1305.1 845.5,1304.7 846,1304.3 846.4,1303.8 846.9,1304 847.3,1304 847.8,1303 848.2,1302.4 848.6,1302.5 849.1,1302.2 849.5,1301.3 850,1300.4 850.4,1298.8 850.8,1297.5 851.3,1294.9 851.7,1292.4 852.2,1289.9 852.6,1287.4 853.1,1286 853.4,1285.6 853.5,1285.7 853.9,1286 854.4,1286.7 854.8,1288 855.3,1289.4 855.7,1290.5 856.2,1291.4 856.6,1291.9 857,1291.9 857.5,1291.2 857.9,1289.9 858.4,1287.9 858.8,1285.5 859.3,1282.6 859.7,1279.3 860.1,1276.1 860.6,1272.9 861,1270.4 861.5,1269 861.8,1268.7 861.9,1269.4 862.4,1274.2 862.8,1281.9 863.2,1289.4 863.7,1295.8 864.1,1300.3 864.6,1303.5 865,1305.1 865.4,1306.2 865.9,1307.9 866.3,1308 866.8,1308.5 867.2,1308.8 867.7,1309 868.1,1309.7 868.5,1309.7 869,1309.9 869.4,1310.2 869.9,1310.2 870.3,1310 870.8,1309.6 871.2,1310.1 871.6,1310 872.1,1309.5 872.5,1309.9 873,1310.4 873.4,1310.2 873.9,1309.8 874.3,1309.9 874.7,1309.4 875.2,1308.6 875.6,1308.5 876.1,1308.5 876.5,1308.1 877,1307.8 877.4,1307.7 877.8,1308.6 878.3,1308.9 878.7,1308.8 879.2,1309.5 879.6,1309.6 880.1,1309.5 880.5,1309.6 880.9,1310.2 881.4,1310.5 881.8,1310.6 882.3,1310.3 882.7,1309.6 883.1,1309.8 883.6,1310.2 884,1309.9 884.5,1309.7 884.9,1309.6 885.4,1309.2 885.8,1310.1 886.2,1309.2 886.7,1309.1 887.1,1309.4 887.6,1309.4 888,1309.4 888.5,1308.7 888.9,1308.5 889.3,1308.8 889.8,1307.9 890.2,1307.7 890.7,1307.1 891.1,1306.4 891.6,1306.2 892,1305.9 892.4,1306.2 892.9,1306.1 893.3,1306.4 893.8,1305.5 894.2,1305.3 894.5,1305.5 894.7,1305.3 895.1,1305.1 895.5,1305.4 896,1306 896.4,1305.9 896.9,1306.8 897.3,1306.6 897.8,1307.3 898.2,1307.7 898.6,1307.6 899.1,1308 899.5,1308.7 900,1308.4 900.4,1309.2 900.9,1309.2 901.3,1309.7 901.7,1310.1 902.2,1310.1 902.6,1309.9 903.1,1310.2 903.5,1310 903.9,1309.7 904.4,1310.9 904.8,1310.5 905.3,1310 905.7,1310.6 906.2,1310.3 906.6,1310.8 907,1311.4 907.5,1311.6 907.9,1311.6 908.4,1311.2 908.8,1310.9 909.3,1310.4 909.7,1310.5 910.1,1310.9 910.6,1310.9 911,1311.6 911.5,1311.2 911.9,1311.2 912.4,1311.5 912.8,1311.2 913.2,1311.5 913.7,1311.5 914.1,1311.1 914.6,1311.5 915,1311.3 915.5,1311.2 915.9,1311.5 916.3,1311.4 916.8,1311.2 917.2,1311.6 917.7,1311.9 918.1,1311.5 918.5,1311.3 919,1311.2 919.4,1311.4 919.9,1311.7 920.3,1311 920.8,1311.8 921.2,1311.7 921.6,1311.5 922.1,1312.3 922.5,1312.1 923,1312.2 923.4,1311.6 923.9,1311.8 924.3,1311.1 924.7,1311.1 925.2,1311 925.6,1311.7 926.1,1311.7 926.5,1311.1 927,1311.6 927.4,1311.6 927.8,1311.7 928.3,1312.5 928.7,1311.3 929.2,1311.7 929.6,1311.3 930.1,1311.5 930.5,1311.6 930.9,1311.9 931.4,1311.9 931.8,1311.8 932.3,1310.8 932.7,1311.1 933.2,1311.4 933.6,1311.3 934,1311.2 934.5,1311.6 934.9,1311.5 935.4,1311.3 935.8,1311.3 936.2,1311.1 936.7,1311.1 937.1,1311.1 937.6,1311.5 938,1311.9 938.5,1311.7 938.9,1311.2 939.3,1311.1 939.8,1311.4 940.2,1311.1 940.7,1311.4 941.1,1311.8 941.6,1311.8 942,1311.1 942.4,1311.1 942.9,1311 943.3,1311.1 943.8,1310.5 944.2,1310.6 944.7,1310.4 945.1,1309.9 945.5,1309.7 946,1309.5 946.4,1308.9 946.9,1308.1 947.3,1307.6 947.8,1307.1 948.2,1306.1 948.6,1305.5 949.1,1305 949.5,1304.4 950,1304.6 950.4,1304.6 950.9,1304.8 951.3,1306.1 951.7,1307.1 952.2,1307.2 952.6,1307.9 953.1,1308.4 953.5,1308.6 953.9,1309.8 954.4,1310 954.8,1310.6 955.3,1310.5 955.7,1310.4 956.2,1310.9 956.6,1310.8 957,1311.2 957.5,1310.6 957.9,1311.3 958.4,1311.6 958.8,1311 959.3,1310.4 959.7,1310.2 960.1,1310.7 960.6,1310.3 961,1310.6 961.5,1310.9 961.9,1310.8 962.4,1311 962.8,1310.8 963.2,1310.6 963.7,1310.7 964.1,1310.5 964.6,1310.7 965,1310.5 965.5,1310.9 965.9,1310.3 966.3,1310.5 966.8,1310.3 967.2,1310.2 967.7,1309.8 968.1,1309.3 968.6,1308.7 969,1308.6 969.4,1308.8 969.9,1308.5 970.3,1308.3 970.8,1307.3 971.2,1307 971.6,1306.4 972.1,1305.4 972.5,1305.5 973,1305.3 973.4,1304.3 973.9,1303.9 974.3,1303 974.7,1302 975.2,1301.1 975.6,1301.2 976.1,1301.1 976.5,1300.3 977,1300.4 977.4,1300.2 977.8,1299.7 978.3,1300.1 978.7,1300.4 979.2,1300.4 979.6,1300.9 980.1,1301.6 980.5,1302.1 980.9,1302.5 981.4,1303.6 981.8,1305 982.3,1305.4 982.7,1305.7 983.2,1306.2 983.6,1307.4 984,1307.4 984.5,1307.7 984.9,1308.1 985.4,1308.6 985.8,1308.9 986.3,1309.3 986.7,1309.6 987.1,1310.2 987.6,1310.3 988,1309.7 988.5,1310 988.9,1309.9 989.4,1309.9 989.8,1310.1 990.2,1310 990.7,1310.3 991.1,1310.1 991.6,1310.6 992,1310.3 992.4,1309.7 992.9,1309.9 993.3,1309.3 993.8,1309.1 994.2,1308 994.7,1306.9 995.1,1305.8 995.5,1304.6 996,1302.8 996.4,1302 996.9,1300.4 997.3,1297.9 997.8,1296.4 998.2,1295.3 998.6,1294.7 999.1,1295.3 999.5,1297.1 1000,1298.9 1000.4,1301.7 1000.9,1303.6 1001.3,1306 1001.7,1308 1002.2,1308.8 1002.6,1309.7 1003.1,1310 1003.5,1310.4 1004,1310.3 1004.4,1310.6 1004.8,1311.3 1005.3,1311.4 1005.7,1310.8 1006.2,1310.9 1006.6,1311.2 1007,1311.5 1007.5,1311.3 1007.9,1310.9 1008.4,1311 1008.8,1311.4 1009.3,1311.7 1009.7,1311.3 1010.1,1311.5 1010.6,1311.9 1011,1311.3 1011.5,1311 1011.9,1311.3 1012.4,1311.7 1012.8,1311.5 1013.2,1311.6 1013.7,1311.1 1014.1,1311.4 1014.6,1310.8 1015,1311.2 1015.5,1311.3 1015.9,1311.8 1016.3,1311.8 1016.8,1311.2 1017.2,1311.8 1017.7,1312.2 1018.1,1311.7 1018.6,1311.6 1019,1311.3 1019.4,1311.2 1019.9,1311.2 1020.3,1311.5 1020.8,1311.4 1021.2,1311.3 1021.7,1310.9 1022.1,1311.9 1022.5,1311.8 1023,1311.7 1023.4,1311.1 1023.9,1310.8 1024.3,1310.7 1024.8,1310.6 1025.2,1310.8 1025.6,1309.9 1026.1,1309.9 1026.5,1309.6 1027,1309.3 1027.4,1309.1 1027.8,1308.5 1028.3,1307.9 1028.7,1307.3 1029.2,1305.8 1029.6,1305.7 1030.1,1304.9 1030.5,1304.3 1030.9,1303.5 1031.4,1302.5 1031.8,1302.5 1032.3,1302.1 1032.6,1302.2 1032.7,1302 1033.2,1302.2 1033.6,1303.3 1034,1303.5 1034.5,1305.1 1034.9,1306.1 1035.4,1306.9 1035.8,1307.8 1036.3,1309.1 1036.7,1309.2 1037.1,1309 1037.6,1309.5 1038,1309.9 1038.5,1310.3 1038.9,1310.2 1039.4,1310.7 1039.8,1311.1 1040.2,1311.3 1040.7,1311.3 1041.1,1310.8 1041.6,1311.3 1042,1311.4 1042.5,1311.5 1042.9,1311.4 1043.3,1311.7 1043.8,1311.1 1044.2,1311.2 1044.7,1311.5 1045.1,1311.3 1045.5,1311.4 1046,1311.6 1046.4,1312.1 1046.9,1310.9 1047.3,1311 1047.8,1311 1048.2,1310.6 1048.6,1310.6 1049.1,1309.9 1049.5,1310.3 1050,1310.2 1050.4,1309.5 1050.9,1309.6 1051.3,1308.9 1051.7,1308.6 1052.2,1309.1 1052.6,1307.9 1053.1,1307.2 1053.5,1307.6 1054,1307.6 1054.2,1308.2 1054.4,1308.3 1054.8,1308 1055.3,1307.6 1055.7,1307.7 1056.2,1308 1056.6,1308.9 1057.1,1308.7 1057.5,1309.1 1057.9,1308.9 1058.4,1309.6 1058.8,1310.3 1059.3,1310 1059.7,1309.8 1060.2,1309.5 1060.6,1309.6 1061,1309.4 1061.5,1309 1061.9,1309.5 1062.4,1309 1062.8,1308.8 1063.2,1308.6 1063.7,1308.2 1064.1,1307.9 1064.6,1307.7 1065,1307.7 1065.5,1307.3 1065.9,1307.3 1066.3,1307.7 1066.8,1308 1067.2,1307.8 1067.7,1308.2 1068.1,1308.5 1068.6,1309.1 1069,1309.9 1069.4,1309.6 1069.9,1310.2 1070.3,1310.7 1070.8,1310.6 1071.2,1310.9 1071.7,1310.6 1072.1,1310.4 1072.5,1311.2 1073,1311.2 1073.4,1311.8 1073.9,1311.5 1074.3,1311.2 1074.8,1311.6 1075.2,1312 1075.6,1311.9 1076.1,1311.4 1076.5,1311.5 1077,1311.6 1077.4,1311.3 1077.9,1311.3 1078.3,1311.8 1078.7,1311.7 1079.2,1311.6 1079.6,1311.4 1080.1,1311.4 1080.5,1311.3 1080.9,1311.3 1081.4,1311.4 1081.8,1311 1082.3,1311.1 1082.7,1310.8 1083.2,1310.9 1083.6,1310.3 1084,1310.4 1084.5,1310.2 1084.9,1310.2 1085.4,1309.7 1085.8,1309 1086.3,1308.8 1086.7,1307.5 1087.1,1307.3 1087.6,1307.4 1088,1306.3 1088.5,1305.6 1088.9,1304.6 1089.4,1304.2 1089.8,1303.3 1090.2,1303.1 1090.7,1302.6 1091.1,1301.9 1091.4,1302.6 1091.6,1302 1092,1302.3 1092.5,1303.3 1092.9,1303.3 1093.3,1304.5 1093.8,1305.9 1094.2,1307 1094.7,1307.6 1095.1,1308.4 1095.6,1309.4 1096,1309.3 1096.4,1309.7 1096.9,1310.7 1097.3,1310.8 1097.8,1311.1 1098.2,1310.9 1098.6,1310.9 1099.1,1310.8 1099.5,1311.6 1100,1311.5 1100.4,1311.1 1100.9,1311.5 1101.3,1311.3 1101.7,1311.8 1102.2,1311.2 1102.6,1311.3 1103.1,1311.4 1103.5,1311.1 1104,1311.6 1104.4,1311.9 1104.8,1311.6 1105.3,1311.3 1105.7,1311 1106.2,1311.6 1106.6,1311.6 1107.1,1311.5 1107.5,1311.7 1107.9,1311.8 1108.4,1311.2 1108.8,1311.8 1109.3,1311.6 1109.7,1311.7 1110.2,1311.7 1110.6,1311.8 1111,1312.1 1111.5,1311.5 1111.9,1311.6 1112.4,1311.3 1112.8,1311.4 1113.2,1311.6 1113.7,1311.6 1114.1,1311.7 1114.6,1311.6 1115,1312 1115.5,1311.8 1115.9,1312.1 1116.3,1311.8 1116.8,1311.4 1117.2,1311.7 1117.7,1311.9 1118.1,1311.3 1118.6,1311.4 1119,1311.1 1119.4,1310.9 1119.9,1311.2 1120.3,1311.2 1120.8,1311.4 1121.2,1310.9 1121.7,1311.1 1122.1,1311.2 1122.5,1310.9 1123,1310.5 1123.4,1310.6 1123.9,1310.7 1124.3,1310.1 1124.8,1310.2 1125.2,1310.8 1125.6,1310.3 1126.1,1310 1126.5,1310.1 1127,1310.1 1127.3,1310.4 1127.4,1309.9 1127.9,1309.6 1128.3,1309.8 1128.7,1310.3 1129.2,1310.2 1129.6,1310.4 1130.1,1310.4 1130.5,1310.4 1131,1310.9 1131.4,1310.7 1131.8,1311.1 1132.3,1311.4 1132.7,1311.2 1133.2,1311.2 1133.6,1311.2 1134,1311.2 1134.5,1311.2 1134.9,1311.6 1135.4,1311.7 1135.8,1311.5 1136.3,1311.5 1136.7,1311.7 1137.1,1311.9 1137.6,1311.5 1138,1312.1 1138.5,1311.7 1138.9,1311.9 1139.4,1311.7 1139.8,1311.6 1140.2,1311.8 1140.7,1311.6 1141.1,1311.6 1141.6,1311.1 1142,1311.7 1142.5,1311.4 1142.9,1311.9 1143.3,1312 1143.8,1312 1144.2,1312.3 1144.7,1312.1 1145.1,1311.9 1145.6,1311.6 1146,1311.3 1146.4,1311.9 1146.9,1311.4 1147.3,1311.8 1147.8,1311.5 1148.2,1311.1 1148.7,1311.8 1149.1,1311.8 1149.5,1311.8 1150,1311.6 1150.4,1312.2 1150.9,1311.7 1151.3,1311.8 1151.7,1311.8 1152.2,1312.1 1152.6,1311.6 1153.1,1311.6 1153.5,1311.3 1154,1310.7 1154.4,1310.8 1154.8,1311.3 1155.3,1310.7 1155.7,1310.3 1156.2,1310.6 1156.6,1310 1157.1,1309.9 1157.5,1309.6 1157.9,1309.2 1158.4,1308.7 1158.8,1309.2 1159.3,1309.1 1159.7,1308.8 1160.2,1308.7 1160.6,1308.5 1161,1309 1161.5,1308.7 1161.9,1308.3 1162.4,1309 1162.8,1309.5 1163.3,1309.8 1163.7,1310.1 1164.1,1310.4 1164.6,1310.2 1165,1310.2 1165.5,1310.7 1165.9,1310.9 1166.4,1310.8 1166.8,1310.7 1167.2,1310.9 1167.7,1310.9 1168.1,1311.4 1168.6,1311.1 1169,1310.8 1169.4,1310.8 1169.9,1309.7 1170.3,1309.5 1170.8,1309 1171.2,1308.4 1171.7,1308.3 1172.1,1308.6 1172.5,1307.7 1173,1306.5 1173.4,1305.9 1173.9,1305.6 1174.3,1305.8 1174.8,1305.9 1175.2,1305.2 1175.6,1305.6 1176.1,1305.5 1176.5,1306.4 1177,1306.8 1177.4,1307.1 1177.9,1307.3 1178.3,1307.5 1178.7,1308 1179.2,1308.8 1179.6,1309.7 1180.1,1310.4 1180.5,1309.8 1181,1310.3 1181.4,1310.6 1181.8,1310.5 1182.3,1310.6 1182.7,1311.3 1183.2,1310.8 1183.6,1310.9 1184.1,1311.3 1184.5,1311.9 1184.9,1312 1185.4,1311.7 1185.8,1311.1 1186.3,1311.3 1186.7,1311.7 1187.1,1311.5 1187.6,1312 1188,1311.8 1188.5,1311.8 1188.9,1311.5 1189.4,1311.8 1189.8,1311.4 1190.2,1311.5 1190.7,1311.8 1191.1,1311.8 1191.6,1312.5 1192,1311.6 1192.5,1311.5 1192.9,1311.4 1193.3,1311.3 1193.8,1312.3 1194.2,1311.3 1194.7,1311.7 1195.1,1311.7 1195.6,1311.7 1196,1311.5 1196.4,1311.7 1196.9,1311.7 1197.3,1311.9 1197.8,1311.6 1198.2,1311.8 1198.7,1311.8 1199.1,1312.4 1199.5,1311.9 1200,1312.1 1200.4,1312.1 1200.9,1312 1201.3,1312 1201.8,1311.9 1202.2,1311.7 1202.6,1311.7 1203.1,1311.3 1203.5,1311.5 1204,1311.3 1204.4,1311.4 1204.8,1311 1205.3,1311.4 1205.7,1311.5 1206.2,1311.8 1206.6,1311.6 1207.1,1312.3 1207.5,1311.9 1207.9,1311.4 1208.4,1311.4 1208.8,1311.3 1209.3,1311.5 1209.7,1312.3 1210.2,1312.2 1210.6,1311.6 1211,1312.2 1211.5,1311.8 1211.9,1312.2 1212.4,1312.4 1212.8,1311.7 1213.3,1311.2 1213.7,1311.4 1214.1,1311.6 1214.6,1311.5 1215,1312 1215.5,1311.8 1215.9,1311.8 1216.4,1311.9 1216.8,1311.6 1217.2,1311.5 1217.7,1311.3 1218.1,1311.6 1218.6,1312 1219,1311.6 1219.5,1311.8 1219.9,1311.2 1220.3,1311.3 1220.8,1311.6 1221.2,1310.4 1221.7,1310.4 1222.1,1310.3 1222.5,1310.8 1223,1310.5 1223.4,1310.7 1223.9,1309.5 1224.3,1309.6 1224.8,1309 1225.2,1308.5 1225.6,1308 1226.1,1307.3 1226.5,1306.2 1227,1306 1227.4,1305.8 1227.9,1304.9 1228.3,1304.4 1228.7,1304.6 1229.2,1303.9 1229.5,1304.1 1229.6,1304.1 1230.1,1303.9 1230.5,1304.2 1231,1304.3 1231.4,1304.8 1231.8,1305.2 1232.3,1306.1 1232.7,1307.2 1233.2,1307.3 1233.6,1307.4 1234.1,1308.4 1234.5,1309.1 1234.9,1309.2 1235.4,1309.6 1235.8,1309.4 1236.3,1310.2 1236.7,1310.3 1237.2,1310.6 1237.6,1310.8 1238,1310.5 1238.5,1309.8 1238.9,1309.9 1239.4,1309.7 1239.8,1309.7 1240.2,1308.8 1240.7,1309 1241.1,1309.3 1241.6,1309.6 1242,1309.3 1242.3,1309.5 1242.5,1309.2 1242.9,1308.7 1243.3,1309 1243.8,1309.2 1244.2,1308.7 1244.7,1309.2 1245.1,1309.2 1245.6,1310.2 1246,1310.6 1246.4,1310.3 1246.9,1310 1247.3,1310.5 1247.8,1311.5 1248.2,1310.7 1248.7,1310.9 1249.1,1311 1249.5,1311.5 1250,1311.7 1250.4,1311.3 1250.9,1311.2 1251.3,1311.1 1251.8,1311.6 1252.2,1311.3 1252.6,1312.1 1253.1,1312 1253.5,1311.7 1254,1311.6 1254.4,1312.2 1254.9,1311.7 1255.3,1311.4 1255.7,1311.4 1256.2,1311.5 1256.6,1311 1257.1,1311.5 1257.5,1311.1 1257.9,1311.4 1258.4,1310.5 1258.8,1310.7 1259.3,1310.5 1259.7,1310.7 1260.2,1310.6 1260.6,1309.5 1261,1309.4 1261.5,1309.6 1261.9,1309.4 1262.4,1309 1262.8,1308.3 1263.3,1307.8 1263.7,1308.2 1264.1,1308.3 1264.6,1308.5 1265,1308.7 1265.5,1309.1 1265.9,1309.7 1266.4,1309.8 1266.8,1310.2 1267.2,1310.3 1267.7,1310.4 1268.1,1311.1 1268.6,1311.4 1269,1311.5 1269.5,1311.4 1269.9,1311.5 1270.3,1311.1 1270.8,1312.1 1271.2,1311.6 1271.7,1311.6 1272.1,1311.5 1272.6,1311.3 1273,1310.9 1273.4,1311.4 1273.9,1311.5 1274.3,1311.6 1274.8,1311.2 1275.2,1311.5 1275.6,1310.9 1276.1,1310.9 1276.5,1311.1 1277,1310.3 1277.4,1310.3 1277.9,1309.5 1278.3,1309.2 1278.7,1309.4 1279.2,1308.8 1279.6,1308.8 1280.1,1308.7 1280.2,1308.5 1280.5,1308.5 1281,1308.9 1281.4,1309.2 1281.8,1309.7 1282.3,1310 1282.7,1310 1283.2,1310.1 1283.6,1310.2 1284.1,1310.8 1284.5,1311 1284.9,1310.9 1285.4,1311.5 1285.8,1311.5 1286.3,1311.5 1286.7,1311.4 1287.2,1311.6 1287.6,1311.8 1288,1311.5 1288.5,1310.5 1288.9,1310.8 1289.4,1310.7 1289.8,1309.5 1290.2,1310 1290.7,1309.8 1291.1,1308.9 1291.6,1308.7 1292,1308.4 1292.5,1308.2 1292.8,1308 1292.9,1308.6 1293.3,1309 1293.8,1308.9 1294.2,1309 1294.7,1309.3 1295.1,1309.9 1295.6,1310.3 1296,1310.1 1296.4,1310 1296.9,1310.7 1297.3,1311 1297.8,1311 1298.2,1311.1 1298.7,1311.1 1299.1,1311.5 1299.5,1311.9 1300,1311.4 1300.4,1311.8 1300.9,1311.7 1301.3,1311.7 1301.8,1311.9 1302.2,1311.9 1302.6,1312 1303.1,1311.7 1303.5,1311.6 1304,1311.9 1304.4,1311.5 1304.9,1311.9 1305.3,1312.1 1305.7,1312.2 1306.2,1311.6 1306.6,1312.5 1307.1,1312.2 1307.5,1311.4 1308,1312 1308.4,1311.6 1308.8,1311.5 1309.3,1311.7 1309.7,1312 1310.2,1311.9 1310.6,1311.6 1311,1311.4 1311.5,1311.9 1311.9,1312 1312.4,1311.9 1312.8,1312 1313.3,1311.3 1313.7,1311.8 1314.1,1312 1314.6,1312.5 1315,1311.7 1315.5,1311.5 1315.9,1311.4 1316.4,1312.1 1316.8,1312.1 1317.2,1312.1 1317.7,1311.9 1318.1,1311.8 1318.6,1312 1319,1311.9 1319.5,1311.9 1319.9,1312 1320.3,1311.8 1320.8,1312.1 1321.2,1311.9 1321.7,1311.7 1322.1,1311.8 1322.6,1311.8 1323,1312 1323.4,1312.8 1323.9,1312.3 1324.3,1311.9 1324.8,1311.8 1325.2,1312.1 1325.7,1311.9 1326.1,1311.7 1326.5,1311.6 1327,1311.9 1327.4,1312.2 1327.9,1312.2 1328.3,1312.1 1328.7,1312.2 1329.2,1312 1329.6,1312.3 1330.1,1312.3 1330.5,1311.9 1331,1311.9 1331.4,1312.2 1331.8,1311.4 1332.3,1311.4 1332.7,1311.5 1333.2,1310.6 1333.6,1311.3 1334.1,1311.2 1334.5,1311.2 1334.9,1311.5 1335.4,1311.9 1335.8,1311 1336.3,1311.1 1336.7,1310.7 1337.2,1310.8 1337.5,1310.7 1337.6,1310.7 1338,1311.2 1338.5,1311.1 1338.9,1310.8 1339.4,1311.5 1339.8,1310.8 1340.3,1311.7 1340.7,1311.7 1341.1,1311.8 1341.6,1312 1342,1311.6 1342.5,1311.9 1342.9,1311.8 1343.4,1311.9 1343.8,1311.7 1344.2,1311.7 1344.7,1312.3 1345.1,1312.1 1345.6,1311.7 1346,1311.7 1346.4,1311.5 1346.9,1311.8 1347.3,1311.8 1347.8,1312.4 1348.2,1312.3 1348.7,1312.2 1349.1,1311.8 1349.5,1311.8 1350,1311.9 1350.4,1311.8 1350.9,1312 1351.3,1312.1 1351.8,1312.3 1352.2,1312.1 1352.6,1311.9 1353.1,1311.9 1353.5,1311.8 1354,1311.6 1354.4,1311.6 1354.9,1311.7 1355.3,1311.9 1355.7,1311.5 1356.2,1312.1 1356.6,1312.2 1357.1,1312.5 1357.5,1312.3 1358,1311.9 1358.4,1312.2 1358.8,1312.1 1359.3,1311.9 1359.7,1311.6 1360.2,1311.7 1360.6,1311.8 1361.1,1311.6 1361.5,1312.2 1361.9,1311.9 1362.4,1311.7 1362.8,1311.9 1363.3,1312 1363.7,1312.1 1364.1,1312.3 1364.6,1312 1365,1312.2 1365.5,1312.3 1365.9,1311.9 1366.4,1312 1366.8,1312.2 1367.2,1312.3 1367.7,1311.9 1368.1,1312.3 1368.6,1312.1 1369,1311.8 1369.5,1311.7 1369.9,1312"/>
<polyline class="cv" points="263.1,1739 263.6,1739 264,1738.6 264.5,1738.3 264.9,1738.7 265.4,1739 265.8,1739 266.2,1738.7 266.7,1738.9 267.1,1739.4 267.6,1739 268,1739.4 268.5,1739.5 268.9,1739.5 269.3,1739.6 269.8,1739.4 270.2,1739.5 270.7,1739.9 271.1,1739.7 271.6,1739.6 272,1739.3 272.4,1739.5 272.9,1739.9 273.3,1740.1 273.8,1740.1 274.2,1740.2 274.7,1740.2 275.1,1740.2 275.5,1740.3 276,1740.2 276.4,1740.4 276.9,1740.3 277.3,1739.9 277.8,1739.9 278.2,1740.1 278.6,1740.2 279.1,1740.1 279.5,1740.1 280,1740.4 280.4,1740.6 280.8,1740.8 281.3,1740.5 281.7,1740.7 282.2,1740.9 282.6,1740.9 283.1,1741.2 283.5,1740.8 283.9,1740.8 284.4,1740.9 284.8,1740.8 285.3,1740.9 285.7,1741 286.2,1741 286.6,1740.9 287,1740.9 287.5,1741 287.9,1740.8 288.4,1741.1 288.8,1740.9 289.3,1741.1 289.7,1741 290.1,1741.2 290.6,1741.2 291,1741.3 291.5,1741.2 291.9,1741.4 292.4,1741.8 292.8,1741.2 293.2,1741.5 293.7,1741.6 294.1,1741.5 294.6,1741.3 295,1741.9 295.5,1741.8 295.9,1742 296.3,1741.7 296.8,1741.6 297.2,1742 297.7,1742 298.1,1741.9 298.5,1741.8 299,1742 299.4,1741.8 299.9,1741.7 300.3,1741.9 300.8,1742.2 301.2,1742.3 301.6,1742.2 302.1,1742.4 302.5,1742.2 303,1742.1 303.4,1742.7 303.9,1742.2 304.3,1742.4 304.7,1742.4 305.2,1742.3 305.6,1742.4 306.1,1742.5 306.5,1742.5 307,1742.3 307.4,1742.4 307.8,1742.7 308.3,1742.7 308.7,1742.4 309.2,1742.5 309.6,1742.3 310.1,1742.1 310.5,1742.3 310.9,1742.8 311.4,1742.5 311.8,1742.1 312.3,1742.4 312.7,1742.4 313.2,1742.7 313.6,1743 314,1742.7 314.5,1742.8 314.9,1742.6 315.4,1743 315.8,1742.7 316.2,1742.8 316.7,1743.3 317.1,1742.8 317.6,1742.9 318,1742.9 318.5,1743 318.9,1743 319.3,1743.3 319.8,1743.2 320.2,1743.2 320.7,1742.7 321.1,1743 321.6,1742.7 322,1743.2 322.4,1743 322.9,1743.2 323.3,1743 323.8,1743.1 324.2,1743.1 324.7,1743.2 325.1,1743.1 325.5,1743 326,1743 326.4,1742.9 326.9,1742.9 327.3,1742.8 327.8,1742.7 328.2,1743.4 328.6,1743.1 329.1,1742.9 329.5,1743.4 330,1743.3 330.4,1743.3 330.9,1743.5 331.3,1743.8 331.7,1743.3 332.2,1743.6 332.6,1743.5 333.1,1743.7 333.5,1743.3 333.9,1743.7 334.4,1743.7 334.8,1742.9 335.3,1743.5 335.7,1743.7 336.2,1743.2 336.6,1743.4 337,1743.4 337.5,1743.4 337.9,1743.2 338.4,1743.5 338.8,1743.6 339.3,1743.5 339.7,1743.4 340.1,1743 340.6,1743.4 341,1743.1 341.5,1743.3 341.9,1743.2 342.4,1743.9 342.8,1743.6 343.2,1743.8 343.7,1743.5 344.1,1743.4 344.6,1743.6 345,1743.4 345.5,1743.9 345.9,1743.5 346.3,1743.7 346.8,1743.1 347.2,1743 347.7,1743.2 348.1,1742.8 348.6,1743.3 349,1743 349.4,1742.5 349.9,1742.2 350.3,1740.8 350.8,1739.1 351.2,1736.6 351.6,1734.1 352.1,1732 352.5,1730.3 352.7,1730.8 353,1731.7 353.4,1734.6 353.9,1737.4 354.3,1739.9 354.7,1741.3 355.2,1742.5 355.6,1743 356.1,1743 356.5,1743.1 357,1743.2 357.4,1743.4 357.8,1743.1 358.3,1743 358.7,1743.4 359.2,1743.4 359.6,1743.5 360.1,1743.4 360.5,1743.5 360.9,1743.4 361.4,1743.2 361.8,1743.6 362.3,1743.6 362.7,1743.2 363.2,1743.1 363.6,1742.9 364,1742.7 364.5,1742.6 364.9,1742.5 365.4,1742.6 365.8,1742.8 366.3,1742.7 366.7,1742.3 367.1,1742.4 367.6,1742.2 368,1742 368.5,1742.3 368.9,1741.8 369.3,1741.9 369.8,1741.3 370.2,1741.3 370.7,1740.9 371.1,1740.9 371.6,1740.6 372,1739.9 372.4,1739.6 372.9,1739.3 373.3,1738.7 373.8,1737.9 374.2,1736.5 374.7,1735.7 375.1,1733.6 375.5,1731.4 376,1728.3 376.4,1724 376.9,1717.4 377.3,1707.4 377.8,1692.2 378.2,1671.2 378.6,1643.5 379.1,1611.8 379.5,1583.6 380,1571.7 380.4,1599.8 380.9,1650.3 381.3,1689.4 381.7,1712.5 382.2,1724.5 382.6,1730.8 383.1,1733.9 383.5,1736.4 384,1737.9 384.4,1739.3 384.8,1740.3 385.3,1740.6 385.7,1741 386.2,1741.9 386.6,1742.4 387,1742.4 387.5,1742.8 387.9,1742.9 388.4,1743.1 388.8,1743 389.3,1743.3 389.7,1743.7 390.1,1743.9 390.6,1744 391,1743.8 391.5,1743.9 391.9,1743.7 392.4,1743.7 392.8,1743.8 393.2,1743.6 393.7,1743.8 394.1,1743.5 394.6,1744.2 395,1744.3 395.5,1744.2 395.9,1743.9 396.3,1743.9 396.8,1743.9 397.2,1743.7 397.7,1743.9 398.1,1743.8 398.6,1744.2 399,1744.5 399.4,1744.6 399.9,1744 400.3,1743.8 400.8,1744.4 401.2,1744.4 401.7,1744.5 402.1,1744.5 402.5,1744.4 403,1744.7 403.4,1744.6 403.9,1744.5 404.3,1744.1 404.8,1744.2 405.2,1744.5 405.6,1744.5 406.1,1744.5 406.5,1744.3 407,1744.4 407.4,1744.2 407.8,1744.2 408.3,1744.5 408.7,1744.7 409.2,1744.3 409.6,1744.2 410.1,1744.2 410.5,1744.1 410.9,1744.2 411.4,1744.4 411.8,1744.3 412.3,1744.2 412.7,1744.3 413.2,1743.8 413.6,1744 414,1744.5 414.5,1744 414.9,1744 415.4,1744.1 415.8,1744.3 416.3,1744.1 416.7,1743.8 417.1,1744.3 417.6,1743.6 418,1743.7 418.5,1743.7 418.9,1743.3 419.4,1744 419.8,1744.4 420.2,1743.7 420.7,1743.7 421.1,1743.7 421.6,1743.9 422,1743.8 422.4,1743.9 422.9,1743.8 423.3,1743.7 423.8,1743.6 424.2,1743.9 424.7,1743.7 425.1,1743.7 425.5,1743.5 426,1743.5 426.4,1743.7 426.9,1743.4 427.3,1743.1 427.8,1742.8 428.2,1743.1 428.6,1742.7 429.1,1742.8 429.5,1743.2 430,1742.7 430.4,1742.8 430.9,1742.3 431.3,1742 431.7,1741.9 432.2,1741.4 432.6,1740.7 433.1,1740.8 433.5,1740.5 434,1740.3 434.4,1740.4 434.8,1739.8 435.3,1738.8 435.7,1738.4 436.2,1737.3 436.6,1736.3 437.1,1736.2 437.5,1734.7 437.9,1732.9 438.4,1731.6 438.8,1729.7 439.3,1727.2 439.7,1723.8 440.1,1719.2 440.6,1712.7 441,1702.8 441.5,1687.6 441.9,1664.7 442.4,1631.6 442.8,1587.4 443.2,1533.9 443.7,1480.9 444.1,1448.5 444.3,1446.1 444.6,1469.8 445,1553.7 445.5,1630.5 445.9,1679.3 446.3,1705.1 446.8,1718.3 447.2,1725.4 447.7,1729.9 448.1,1732.9 448.6,1735 449,1736.5 449.4,1738 449.9,1739.1 450.3,1739.5 450.8,1739.8 451.2,1740.9 451.7,1741.9 452.1,1741.8 452.5,1742.1 453,1742.1 453.4,1742.3 453.9,1743 454.3,1742.7 454.8,1743.1 455.2,1743.1 455.6,1743.5 456.1,1743.9 456.5,1743.8 457,1743.7 457.4,1744 457.8,1743.9 458.3,1743.5 458.7,1744.1 459.2,1744 459.6,1744.1 460.1,1744.6 460.5,1744.5 460.9,1744.4 461.4,1744.7 461.8,1744.2 462.3,1743.9 462.7,1743.9 463.2,1744.2 463.6,1744.4 464,1744.2 464.5,1744.8 464.9,1744.7 465.4,1744.6 465.8,1744.3 466.3,1744.4 466.7,1744.5 467.1,1744.4 467.6,1745.1 468,1745.1 468.5,1744.9 468.9,1744.7 469.4,1744.2 469.8,1744.7 470.2,1744.4 470.7,1744.8 471.1,1744.7 471.6,1744.3 472,1744.5 472.5,1744.5 472.9,1744.5 473.3,1744.5 473.8,1744.6 474.2,1744.5 474.7,1744.8 475.1,1744.8 475.5,1744.6 476,1744.6 476.4,1744.5 476.9,1744.5 477.3,1744.5 477.8,1744.6 478.2,1744.6 478.6,1744.2 479.1,1744.5 479.5,1744.4 480,1744.5 480.4,1745.2 480.9,1745 481.3,1744.2 481.7,1744.1 482.2,1744.7 482.6,1744.4 483.1,1744.2 483.5,1744.1 484,1744.4 484.4,1744.3 484.8,1744.5 485.3,1744.5 485.7,1744.6 486.2,1744.5 486.6,1744.4 487.1,1744.7 487.5,1745 487.9,1744.5 488.4,1744.5 488.8,1745 489.3,1744.5 489.7,1744.3 490.2,1744.6 490.6,1744.8 491,1744.6 491.5,1744.8 491.9,1744.6 492.4,1744.6 492.8,1744.5 493.2,1744.6 493.7,1744.5 494.1,1744.8 494.6,1744.7 495,1744.9 495.5,1744.6 495.9,1744.3 496.3,1744.2 496.8,1744.2 497.2,1744.4 497.7,1744.3 498.1,1744.4 498.6,1744.4 499,1744.1 499.4,1743.9 499.9,1744.4 500.3,1744.2 500.8,1744.6 501.2,1744.3 501.7,1743.9 502.1,1743.8 502.5,1743.8 503,1744.6 503.4,1743.8 503.9,1743.4 504.3,1743.6 504.8,1743.8 505.2,1744.4 505.6,1744.3 506.1,1743.8 506.5,1744.1 507,1744.1 507.4,1743.7 507.9,1743.7 508.3,1743.7 508.7,1743.5 509.2,1743.3 509.6,1743.1 510.1,1743.2 510.5,1742.9 510.9,1743 511.4,1742.9 511.8,1742.2 512.3,1742.2 512.7,1741.9 513.2,1741.8 513.6,1741.3 514,1741.2 514.5,1740.8 514.9,1740.3 515.4,1739.7 515.8,1738.7 516.3,1738.2 516.7,1737.9 517.1,1737.3 517.6,1736.5 518,1735.7 518.5,1734.9 518.9,1733.9 519.1,1733.5 519.4,1733.3 519.8,1733 520.2,1732.2 520.7,1731.2 521.1,1730.1 521.6,1728.5 522,1725.8 522.5,1721.6 522.9,1715.2 523.3,1705.4 523.8,1690.9 524.2,1670.9 524.7,1645.5 525.1,1617.2 525.6,1592.8 526,1582.8 526.4,1603.2 526.9,1643.7 527.3,1679.6 527.8,1703.9 528.2,1718.2 528.6,1725.9 529.1,1730.2 529.5,1732.6 530,1733.7 530.4,1733.3 530.9,1731.7 531.3,1727.9 531.7,1722.5 532.2,1715.3 532.6,1707.7 533.1,1702 533.4,1700.9 533.5,1701.6 534,1710.4 534.4,1722.1 534.8,1731.5 535.3,1736.9 535.7,1739.8 536.2,1741 536.6,1741.8 537.1,1742.1 537.5,1742.4 537.9,1742.9 538.4,1743 538.8,1743 539.3,1743.2 539.7,1744 540.2,1744.1 540.6,1743.9 541,1744 541.5,1744 541.9,1744.1 542.4,1744.6 542.8,1744.6 543.3,1744.3 543.7,1743.8 544.1,1743.8 544.6,1744.1 545,1744.1 545.5,1744.3 545.9,1744.2 546.4,1744.4 546.8,1744.4 547.2,1744.3 547.7,1744 548.1,1744.2 548.6,1744.2 549,1744.1 549.4,1744.3 549.9,1744.7 550.3,1744.4 550.8,1744.3 551.2,1744.2 551.7,1744.4 552.1,1744.5 552.5,1744.5 553,1744.8 553.4,1744.7 553.9,1744.8 554.3,1744.5 554.8,1744.6 555.2,1744.3 555.6,1744.6 556.1,1744.9 556.5,1744.4 557,1744.3 557.4,1744.5 557.9,1744.5 558.3,1744.7 558.7,1743.9 559.2,1744.1 559.6,1744.5 560.1,1744.5 560.5,1744.2 561,1744.5 561.4,1744.5 561.8,1744.4 562.3,1744.4 562.7,1744.4 563.2,1744.5 563.6,1744.1 564,1743.5 564.5,1744.2 564.9,1743.7 565.4,1744.1 565.8,1744.2 566.3,1744.2 566.7,1743.9 567.1,1744.1 567.6,1743.9 568,1743.7 568.5,1743.6 568.9,1743.3 569.4,1743.5 569.8,1742.7 570.2,1742 570.7,1740.8 571.1,1739.2 571.6,1737.1 572,1734.4 572.5,1731.7 572.9,1729.3 573.3,1728 573.5,1728 573.8,1728.8 574.2,1732.2 574.7,1736.4 575.1,1739.5 575.6,1741.7 576,1743 576.4,1743 576.9,1743.6 577.3,1743.8 577.8,1743.6 578.2,1743.7 578.7,1743.7 579.1,1744.3 579.5,1744.6 580,1744.4 580.4,1744.4 580.9,1744.1 581.3,1744.8 581.8,1744.9 582.2,1744.7 582.6,1744.3 583.1,1744.4 583.5,1744.3 584,1744.1 584.4,1744.1 584.8,1744.1 585.3,1744.2 585.7,1744.5 586.2,1744.3 586.6,1744.5 587.1,1744.5 587.5,1744.7 587.9,1744.9 588.4,1745.2 588.8,1744.9 589.3,1744.6 589.7,1744.5 590.2,1745.1 590.6,1744.5 591,1744.5 591.5,1744.8 591.9,1744.6 592.4,1744.6 592.8,1744.9 593.3,1744.8 593.7,1744.6 594.1,1744.7 594.6,1744.6 595,1744.7 595.5,1744.7 595.9,1744.5 596.4,1744.5 596.8,1744.5 597.2,1744.4 597.7,1744.3 598.1,1744.6 598.6,1744 599,1744.2 599.4,1744.6 599.9,1744.6 600.3,1744.2 600.8,1744.1 601.2,1744.8 601.7,1744.7 602.1,1744.5 602.5,1744.4 603,1744.3 603.4,1744.4 603.9,1744.2 604.3,1744.3 604.8,1744.3 605.2,1744.4 605.6,1744.6 606.1,1744 606.5,1744.2 607,1744.3 607.4,1744.3 607.9,1744.3 608.3,1744.4 608.7,1744.5 609.2,1744.2 609.6,1744.3 610.1,1744.4 610.5,1744.2 611,1744.4 611.4,1744.1 611.8,1744.4 612.3,1744.3 612.7,1744.5 613.2,1744.5 613.6,1744 614.1,1744.2 614.5,1744.2 614.9,1744.1 615.4,1743.9 615.8,1743.9 616.3,1743.8 616.7,1743.8 617.1,1743.7 617.6,1743.6 618,1743.4 618.5,1743 618.9,1743.1 619.4,1742.3 619.8,1742.7 620.2,1742.6 620.7,1742.4 621.1,1742.1 621.6,1742 622,1741.9 622.5,1741.4 622.9,1741.1 623.3,1740.7 623.8,1740.4 624.2,1740.5 624.7,1740.2 625.1,1740.4 625.3,1739.8 625.6,1739.6 626,1739.6 626.4,1739.3 626.9,1739.2 627.3,1738.6 627.8,1738.4 628.2,1737.2 628.7,1735.9 629.1,1734.2 629.5,1731.3 630,1728.3 630.4,1724.6 630.9,1720.7 631.3,1716.6 631.8,1713.5 632.2,1711.8 632.3,1711.8 632.6,1713 633.1,1717.8 633.5,1724.1 634,1730.2 634.4,1734.2 634.9,1737.5 635.3,1739.5 635.7,1741.1 636.2,1741.9 636.6,1742.4 637.1,1742.5 637.5,1742.8 637.9,1742.8 638.4,1743.1 638.8,1743.6 639.3,1743.5 639.7,1743.9 640.2,1743.8 640.6,1743.7 641,1743.8 641.5,1743.5 641.9,1744.1 642.4,1744 642.8,1743.7 643.3,1744 643.7,1743.7 644.1,1744.1 644.6,1744.3 645,1744.3 645.5,1743.8 645.9,1743.8 646.4,1744.2 646.8,1744.2 647.2,1744.2 647.7,1744.6 648.1,1744.4 648.6,1744.1 649,1743.8 649.5,1743.8 649.9,1743.6 650.3,1743.7 650.8,1743.9 651.2,1743.7 651.7,1743.9 652.1,1743.8 652.5,1744 653,1743.7 653.4,1743.7 653.9,1743.9 654.3,1744 654.8,1743.9 655.2,1743.2 655.6,1743.6 656.1,1743.3 656.5,1743.6 657,1743.5 657.4,1743.4 657.9,1743.5 658.3,1743.7 658.7,1743.6 659.2,1743.6 659.6,1743.4 660.1,1743 660.5,1743 661,1742.8 661.4,1741.6 661.8,1740.7 662.3,1739.2 662.7,1738 663.2,1736.6 663.6,1736 664.1,1735.6 664.5,1736 664.9,1737.4 665.4,1738.8 665.8,1739.4 666.3,1741.3 666.7,1742.4 667.2,1742.7 667.6,1743.2 668,1743.3 668.5,1742.9 668.9,1742.8 669.4,1743.4 669.8,1743.5 670.2,1743.7 670.7,1743.8 671.1,1743.4 671.6,1743.4 672,1743.4 672.5,1743.3 672.9,1743.2 673.3,1742.9 673.8,1742.9 674.2,1742.3 674.7,1742.6 675.1,1742.4 675.6,1742.1 676,1742.1 676.4,1742 676.9,1741.8 677.3,1741.3 677.8,1740.9 678.2,1740.6 678.7,1740.3 679.1,1739.9 679.5,1739.3 680,1739 680.4,1738.4 680.9,1737.9 681.3,1737.1 681.8,1736.2 682.2,1736 682.6,1735.6 683.1,1734.9 683.5,1734.4 684,1733.7 684.4,1733 684.9,1732.7 685.3,1732.1 685.7,1731.4 686.2,1731.2 686.6,1730.9 687.1,1730.6 687.5,1730.8 687.9,1730.8 688.4,1730.9 688.8,1731.1 689.3,1731.9 689.7,1732.3 690.2,1732.6 690.6,1732.4 691,1732.4 691.5,1732.8 691.9,1733 692.4,1733 692.8,1732.5 693.3,1731.7 693.7,1729.9 694.1,1727.9 694.6,1724.8 695,1720.8 695.5,1716 695.9,1710.3 696.4,1704.7 696.8,1699.9 697.2,1696.8 697.5,1696.3 697.7,1696.7 698.1,1703.2 698.6,1713.1 699,1722.4 699.5,1729.7 699.9,1734.3 700.3,1737.4 700.8,1739.2 701.2,1739.9 701.7,1740.2 702.1,1740.5 702.6,1740.8 703,1740 703.4,1740.2 703.9,1739.4 704.3,1738.2 704.8,1736.6 705.2,1733.6 705.6,1731.7 706.1,1731.1 706.5,1731.7 707,1733.9 707.4,1736.6 707.9,1738.1 708.3,1739.3 708.7,1740.3 709.2,1741.1 709.6,1740.9 710.1,1741.1 710.5,1741 711,1740.7 711.4,1740.1 711.8,1740.1 712.3,1739.9 712.7,1739.3 713.2,1739.8 713.6,1739.3 714.1,1738.9 714.5,1739 714.9,1739 715.4,1739.2 715.8,1739.2 716.3,1739.9 716.7,1740.1 717.2,1740.4 717.6,1741 718,1741 718.5,1741.5 718.9,1741.8 719.4,1742.2 719.8,1742.5 720.3,1742.5 720.7,1742.6 721.1,1742.3 721.6,1741.8 722,1742.2 722.5,1742.2 722.9,1741.3 723.4,1740.3 723.8,1739.5 724.2,1738.3 724.7,1737.2 725.1,1735.8 725.6,1734 726,1732.5 726.4,1732.2 726.6,1732 726.9,1732.1 727.3,1733.9 727.8,1736.5 728.2,1738.7 728.7,1740 729.1,1741.3 729.5,1742.2 730,1743 730.4,1743.3 730.9,1743.7 731.3,1743.3 731.8,1743.4 732.2,1743.2 732.6,1743.8 733.1,1743.3 733.5,1743.4 734,1743.8 734.4,1743.6 734.9,1743.8 735.3,1743.5 735.7,1743.6 736.2,1744.3 736.6,1743.7 737.1,1743.7 737.5,1743.8 738,1743.9 738.4,1744.3 738.8,1743.7 739.3,1744.1 739.7,1744 740.2,1743.8 740.6,1743.8 741,1743.6 741.5,1744 741.9,1743.9 742.4,1743.7 742.8,1743.8 743.3,1743.3 743.7,1743.5 744.1,1743.3 744.6,1743.6 745,1743.6 745.5,1743.5 745.9,1743.5 746.4,1743.5 746.8,1743.5 747.2,1743.6 747.7,1743.7 748.1,1744 748.6,1743.9 749,1743.6 749.5,1743.5 749.9,1743.4 750.3,1743.6 750.8,1743.3 751.2,1743.5 751.7,1743 752.1,1742.8 752.6,1742.8 753,1743.1 753.4,1743.1 753.9,1742.7 754.3,1742.2 754.8,1742.7 755.2,1743 755.7,1742.7 756.1,1742.4 756.5,1742.5 757,1742.4 757.4,1742.4 757.9,1742.7 758.3,1742.3 758.8,1741.8 759.2,1742 759.6,1741.5 760.1,1741.7 760.5,1741.5 761,1741.4 761.4,1741.1 761.8,1740.7 762.3,1740.2 762.7,1740.1 763.2,1739.7 763.6,1738.7 764.1,1738.8 764.5,1738.1 764.9,1737.9 765.4,1737.4 765.8,1736.2 766.3,1735.4 766.7,1734.9 767.2,1734 767.6,1732.7 768,1731.3 768.5,1730.8 768.9,1729.7 769.4,1728.6 769.8,1727.3 770.3,1726.2 770.7,1724.9 771.1,1723.6 771.6,1722.5 772,1721.3 772.5,1720.1 772.8,1719.3 772.9,1718.9 773.4,1717.6 773.8,1716.4 774.2,1714.7 774.7,1712.2 775.1,1708.4 775.6,1703.3 776,1696.6 776.4,1688.5 776.9,1679.5 777.3,1670.9 777.8,1664.5 778.2,1662.5 778.7,1668.9 779.1,1683.1 779.5,1698.3 780,1711.2 780.4,1720.9 780.9,1727.5 781.3,1731.9 781.8,1734.2 782.2,1736.6 782.6,1737.7 783.1,1738.3 783.5,1738.8 784,1738.9 784.4,1738.7 784.9,1738.9 785.3,1738.1 785.7,1737.2 786.2,1736.6 786.6,1736.7 786.8,1737.1 787.1,1737.3 787.5,1737.7 788,1738.5 788.4,1739.8 788.8,1740.8 789.3,1741.5 789.7,1741.9 790.2,1742.1 790.6,1742.4 791.1,1742.8 791.5,1742.8 791.9,1743 792.4,1743.1 792.8,1743.3 793.3,1743.7 793.7,1743.8 794.1,1743.8 794.6,1743.7 795,1743.6 795.5,1744.1 795.9,1744 796.4,1744 796.8,1743.3 797.2,1744 797.7,1744.2 798.1,1743.7 798.6,1743.7 799,1743.9 799.5,1744.1 799.9,1744 800.3,1744 800.8,1744 801.2,1743.9 801.7,1744.3 802.1,1744.3 802.6,1744.2 803,1744 803.4,1743.9 803.9,1744.1 804.3,1743.9 804.8,1744.3 805.2,1744.1 805.7,1744.3 806.1,1743.8 806.5,1744.1 807,1744.2 807.4,1744.3 807.9,1744 808.3,1744.1 808.8,1744.2 809.2,1744.3 809.6,1744.4 810.1,1743.8 810.5,1744.3 811,1744.4 811.4,1744.2 811.9,1744.2 812.3,1745 812.7,1744.9 813.2,1744.6 813.6,1744.5 814.1,1744.2 814.5,1743.8 814.9,1744 815.4,1744 815.8,1744 816.3,1744.2 816.7,1744.1 817.2,1743.7 817.6,1744 818,1744.4 818.5,1744.2 818.9,1744.4 819.4,1744.3 819.8,1744.3 820.3,1744.2 820.7,1744.1 821.1,1743.7 821.6,1744.2 822,1743.8 822.5,1743.7 822.9,1743.7 823.4,1743.9 823.8,1743.9 824.2,1744 824.7,1743.7 825.1,1743.6 825.6,1743.6 826,1743.5 826.5,1743.3 826.9,1743 827.3,1743 827.8,1742.9 828.2,1742.4 828.7,1742.3 829.1,1741.4 829.5,1740.7 830,1740.1 830.4,1740 830.9,1739.8 831,1739.7 831.3,1739.7 831.8,1740.1 832.2,1740.3 832.6,1740.7 833.1,1741.5 833.5,1741.4 834,1742.2 834.4,1742.6 834.9,1743.2 835.3,1743.4 835.7,1742.9 836.2,1743.1 836.6,1742.7 837.1,1742.8 837.5,1742.6 838,1742.2 838.4,1742.4 838.8,1742.5 839.3,1742.3 839.7,1741.7 840.2,1741.3 840.6,1741.2 841.1,1740.7 841.5,1740.6 841.9,1740.3 842.4,1740.1 842.8,1739.6 843.3,1739 843.7,1738.9 844.2,1738.1 844.6,1737.3 845,1737 845.5,1736.8 845.9,1735.9 846.4,1735.6 846.8,1735.6 847.2,1734.9 847.7,1734.7 848.1,1734.3 848.6,1733.7 849,1732.7 849.5,1731.4 849.9,1729.9 850.3,1728 850.8,1725.4 851.2,1722.4 851.7,1719.6 852.1,1716.7 852.6,1715 852.9,1714.5 853,1714.5 853.4,1715.2 853.9,1716.3 854.3,1717.5 854.8,1719 855.2,1720.3 855.7,1721.2 856.1,1721.6 856.5,1721.5 857,1720.6 857.4,1719 857.9,1716.8 858.3,1713.8 858.8,1710.2 859.2,1706.3 859.6,1702.3 860.1,1698.5 860.5,1695.5 861,1693.8 861.3,1693.5 861.4,1694 861.9,1700 862.3,1709.4 862.7,1718.6 863.2,1726.1 863.6,1731.6 864.1,1735.1 864.5,1737.6 864.9,1739.2 865.4,1740.1 865.8,1740.9 866.3,1741.2 866.7,1741.8 867.2,1742.2 867.6,1742.4 868,1742.8 868.5,1742.9 868.9,1743.1 869.4,1743.4 869.8,1743.6 870.3,1743.5 870.7,1743.3 871.1,1743.4 871.6,1743 872,1743.5 872.5,1743 872.9,1743 873.4,1743 873.8,1742.7 874.2,1742.9 874.7,1742.8 875.1,1742.6 875.6,1742.7 876,1742.6 876.5,1742.3 876.9,1742.4 877.3,1742.4 877.8,1742.9 878.2,1742.8 878.7,1742.8 879.1,1743.1 879.6,1743.4 880,1743.2 880.4,1743.6 880.9,1743.4 881.3,1743.6 881.8,1743.3 882.2,1743.5 882.6,1743.9 883.1,1743.6 883.5,1743.8 884,1743.6 884.4,1743.8 884.9,1744 885.3,1743.5 885.7,1743.5 886.2,1743.4 886.6,1743.2 887.1,1742.8 887.5,1742.4 888,1742.2 888.4,1742.1 888.8,1741.6 889.3,1741.4 889.7,1740.8 890.2,1740.5 890.6,1740.1 891.1,1740.1 891.5,1740.2 891.9,1739.6 892.4,1739.7 892.8,1739.5 893.3,1738.7 893.7,1738.9 894,1739.1 894.2,1739.2 894.6,1739.5 895,1739.2 895.5,1739.6 895.9,1739.2 896.4,1739.9 896.8,1739.9 897.3,1740.7 897.7,1741 898.1,1741.1 898.6,1741.4 899,1742.1 899.5,1742.6 899.9,1742.7 900.4,1742.7 900.8,1743.1 901.2,1742.6 901.7,1743.2 902.1,1744 902.6,1743.6 903,1743.6 903.4,1743.6 903.9,1743.9 904.3,1743.9 904.8,1744.1 905.2,1744.3 905.7,1744.1 906.1,1744.2 906.5,1744.4 907,1744.5 907.4,1744.8 907.9,1744.7 908.3,1744.5 908.8,1744.5 909.2,1744.1 909.6,1743.9 910.1,1744.2 910.5,1744.7 911,1744.4 911.4,1744.6 911.9,1744.4 912.3,1744.7 912.7,1744.8 913.2,1744.5 913.6,1744.7 914.1,1744.7 914.5,1744.9 915,1745.5 915.4,1744.8 915.8,1744.9 916.3,1745.2 916.7,1744.8 917.2,1745 917.6,1745.1 918,1744.6 918.5,1744.8 918.9,1744.7 919.4,1744.5 919.8,1744.7 920.3,1744.7 920.7,1744.7 921.1,1744.4 921.6,1744.8 922,1744.6 922.5,1744.4 922.9,1744.8 923.4,1744.8 923.8,1744.6 924.2,1744.7 924.7,1744.7 925.1,1745 925.6,1744.6 926,1744.6 926.5,1744.9 926.9,1744.9 927.3,1744.5 927.8,1744.5 928.2,1744.5 928.7,1744.5 929.1,1744.4 929.6,1744.4 930,1744.5 930.4,1745.1 930.9,1745.3 931.3,1745.5 931.8,1745.8 932.2,1744.9 932.7,1745 933.1,1744.8 933.5,1745 934,1745 934.4,1744.5 934.9,1744.4 935.3,1744.6 935.8,1744.6 936.2,1745 936.6,1744.3 937.1,1744.4 937.5,1744.4 938,1744.8 938.4,1744.5 938.8,1744.8 939.3,1744.4 939.7,1744.7 940.2,1744.5 940.6,1744.4 941.1,1744.4 941.5,1744.5 941.9,1744.4 942.4,1744 942.8,1744.4 943.3,1744.1 943.7,1743.9 944.2,1743.2 944.6,1742.8 945,1742.4 945.5,1742 945.9,1741.5 946.4,1740.8 946.8,1740.1 947.3,1738.8 947.7,1738 948.1,1737.1 948.6,1736.9 949,1736.1 949.5,1735.4 949.9,1736.2 950.4,1736.5 950.8,1737.5 951.2,1738.5 951.7,1739.4 952.1,1740.3 952.6,1741.1 953,1742.2 953.4,1742.5 953.9,1743.3 954.3,1743.1 954.8,1743.4 955.2,1743.5 955.7,1743.9 956.1,1744.4 956.5,1744.3 957,1744 957.4,1744.3 957.9,1744.3 958.3,1743.9 958.8,1743.9 959.2,1744.1 959.6,1744.1 960.1,1744.1 960.5,1744 961,1744 961.4,1744.4 961.9,1744 962.3,1744.1 962.7,1743.8 963.2,1743.5 963.6,1743.9 964.1,1743.8 964.5,1743.6 965,1743.6 965.4,1743.4 965.8,1743.6 966.3,1743.1 966.7,1743 967.2,1742.5 967.6,1742.1 968.1,1742 968.5,1742.1 968.9,1741.1 969.4,1740.8 969.8,1740.4 970.3,1740 970.7,1739.4 971.1,1739.1 971.6,1738.2 972,1737.9 972.5,1737 972.9,1736.5 973.4,1735.7 973.8,1735.1 974.2,1734.2 974.7,1733.5 975.1,1733 975.6,1732.9 976,1732.3 976.5,1732.1 976.9,1731.4 977.3,1731.2 977.8,1731.3 978.2,1731.7 978.7,1732.2 979.1,1732.5 979.6,1732.9 980,1733.9 980.4,1734.7 980.9,1735.6 981.3,1736.4 981.8,1736.9 982.2,1737.8 982.7,1738.7 983.1,1739.4 983.5,1740.1 984,1740.7 984.4,1740.9 984.9,1741.6 985.3,1742.1 985.8,1742.6 986.2,1742.2 986.6,1742.7 987.1,1743 987.5,1743.3 988,1743.3 988.4,1743.7 988.9,1743.5 989.3,1743.7 989.7,1743.5 990.2,1743.3 990.6,1743.4 991.1,1743.9 991.5,1743.1 991.9,1743.4 992.4,1743.4 992.8,1743.3 993.3,1742.8 993.7,1742.2 994.2,1741.1 994.6,1739.8 995,1738.7 995.5,1737 995.9,1735.4 996.4,1733.6 996.8,1732 997.3,1730.3 997.7,1729.2 998.1,1728.8 998.6,1729.4 999,1730.9 999.5,1733 999.9,1735.5 1000.4,1737.8 1000.8,1739.5 1001.2,1740.4 1001.7,1741.8 1002.1,1742.2 1002.6,1743.2 1003,1743.3 1003.5,1743.6 1003.9,1743.8 1004.3,1744.4 1004.8,1744.4 1005.2,1744 1005.7,1744.2 1006.1,1744.4 1006.5,1744.2 1007,1744.4 1007.4,1744.3 1007.9,1744.8 1008.3,1744.6 1008.8,1744.6 1009.2,1744.7 1009.6,1744.5 1010.1,1744.4 1010.5,1744.6 1011,1744.3 1011.4,1744.6 1011.9,1744.6 1012.3,1745 1012.7,1745 1013.2,1744.6 1013.6,1744.5 1014.1,1744.5 1014.5,1744.7 1015,1744.5 1015.4,1744.4 1015.8,1744.5 1016.3,1744.8 1016.7,1744.5 1017.2,1744.3 1017.6,1744.2 1018.1,1744.7 1018.5,1744.3 1018.9,1744.1 1019.4,1744.3 1019.8,1744.3 1020.3,1744.4 1020.7,1744.2 1021.2,1743.9 1021.6,1744 1022,1744.5 1022.5,1744.2 1022.9,1743.9 1023.4,1743.7 1023.8,1743.6 1024.2,1743.8 1024.7,1743 1025.1,1742.5 1025.6,1742.7 1026,1741.7 1026.5,1741.3 1026.9,1740.3 1027.3,1740.1 1027.8,1739.1 1028.2,1738.1 1028.7,1737.1 1029.1,1736.2 1029.6,1734.9 1030,1734.2 1030.4,1733.4 1030.9,1732.4 1031.3,1731.8 1031.8,1731.4 1032.1,1731 1032.2,1731.6 1032.7,1731.6 1033.1,1732.4 1033.5,1733.5 1034,1734.9 1034.4,1736.3 1034.9,1738 1035.3,1738.9 1035.8,1739.8 1036.2,1741.1 1036.6,1741.9 1037.1,1742 1037.5,1742.6 1038,1742.8 1038.4,1743.4 1038.9,1743.7 1039.3,1744.1 1039.7,1744.2 1040.2,1744.3 1040.6,1744.5 1041.1,1744.3 1041.5,1744.1 1042,1743.8 1042.4,1744.3 1042.8,1744.5 1043.3,1744.5 1043.7,1744.4 1044.2,1744.3 1044.6,1744.2 1045,1744.2 1045.5,1744.1 1045.9,1744.1 1046.4,1744 1046.8,1743.9 1047.3,1743.5 1047.7,1743.3 1048.1,1743.3 1048.6,1743.4 1049,1742.8 1049.5,1742.6 1049.9,1742.3 1050.4,1742 1050.8,1741.1 1051.2,1741.4 1051.7,1740.7 1052.1,1740.5 1052.6,1740.2 1053,1740.1 1053.5,1739.7 1053.8,1739 1053.9,1739.4 1054.3,1739.7 1054.8,1739.8 1055.2,1740.1 1055.7,1740.3 1056.1,1740.4 1056.6,1741.1 1057,1741.3 1057.4,1741.5 1057.9,1741.9 1058.3,1741.9 1058.8,1742.1 1059.2,1741.9 1059.7,1742.1 1060.1,1742.1 1060.5,1741.8 1061,1741.4 1061.4,1741 1061.9,1740.5 1062.3,1740.2 1062.7,1739.8 1063.2,1739 1063.6,1738.8 1064.1,1738.3 1064.5,1738.4 1065,1738.2 1065.4,1738.1 1065.8,1738.3 1066.3,1738.8 1066.7,1739.3 1067.2,1739.6 1067.6,1739.9 1068.1,1741 1068.5,1741.5 1068.9,1742 1069.4,1742.2 1069.8,1743.1 1070.3,1743 1070.7,1743.4 1071.2,1743.4 1071.6,1743.9 1072,1744 1072.5,1744.5 1072.9,1744.6 1073.4,1744.1 1073.8,1744.2 1074.3,1744.2 1074.7,1744.3 1075.1,1744.5 1075.6,1744.1 1076,1744.5 1076.5,1744.5 1076.9,1744.8 1077.4,1744.1 1077.8,1744.6 1078.2,1744.2 1078.7,1743.8 1079.1,1744.5 1079.6,1744.2 1080,1744.4 1080.4,1744.7 1080.9,1744.6 1081.3,1743.9 1081.8,1744.2 1082.2,1744.1 1082.7,1743.6 1083.1,1743.3 1083.5,1743.1 1084,1743.1 1084.4,1743 1084.9,1742.2 1085.3,1742.2 1085.8,1741.3 1086.2,1740.7 1086.6,1740.3 1087.1,1738.7 1087.5,1737.9 1088,1736.8 1088.4,1735.8 1088.9,1734.9 1089.3,1733.8 1089.7,1733.5 1090.2,1732.7 1090.6,1732 1090.9,1732.4 1091.1,1731.8 1091.5,1732.5 1092,1733.3 1092.4,1734.8 1092.8,1735.7 1093.3,1737.1 1093.7,1738.2 1094.2,1739.5 1094.6,1740 1095.1,1740.8 1095.5,1741.8 1095.9,1742.7 1096.4,1743.1 1096.8,1743.1 1097.3,1743.4 1097.7,1743.9 1098.1,1744.2 1098.6,1744.3 1099,1744.1 1099.5,1744.5 1099.9,1744.1 1100.4,1744.4 1100.8,1744.8 1101.2,1744.8 1101.7,1744.8 1102.1,1744.7 1102.6,1745.1 1103,1745.2 1103.5,1744.9 1103.9,1745 1104.3,1745.2 1104.8,1744.5 1105.2,1744.5 1105.7,1745.1 1106.1,1744.9 1106.6,1744.5 1107,1744.4 1107.4,1744.5 1107.9,1744.8 1108.3,1744.4 1108.8,1744.7 1109.2,1744.6 1109.7,1745 1110.1,1744.9 1110.5,1744.9 1111,1744.8 1111.4,1744.7 1111.9,1744.8 1112.3,1744.7 1112.8,1744.8 1113.2,1744.8 1113.6,1744.9 1114.1,1744.9 1114.5,1744.8 1115,1744.5 1115.4,1744.8 1115.8,1745.1 1116.3,1744.9 1116.7,1744.9 1117.2,1744.5 1117.6,1744.4 1118.1,1744.2 1118.5,1744.2 1118.9,1744.4 1119.4,1744.2 1119.8,1744 1120.3,1744.1 1120.7,1744.3 1121.2,1743.9 1121.6,1744 1122,1743.8 1122.5,1744 1122.9,1744 1123.4,1743.9 1123.8,1743.2 1124.3,1743.1 1124.7,1743.3 1125.1,1743.1 1125.6,1743.5 1126,1742.7 1126.5,1743.2 1126.8,1743.3 1126.9,1743.2 1127.4,1743.2 1127.8,1742.8 1128.2,1743 1128.7,1743.2 1129.1,1742.9 1129.6,1743.1 1130,1743.2 1130.5,1743.5 1130.9,1743 1131.3,1743.5 1131.8,1744.2 1132.2,1744.5 1132.7,1744.4 1133.1,1744.8 1133.5,1744.3 1134,1744.5 1134.4,1744.7 1134.9,1744.5 1135.3,1744.8 1135.8,1744.9 1136.2,1744.8 1136.6,1744.8 1137.1,1744.7 1137.5,1744.9 1138,1745 1138.4,1744.6 1138.9,1745 1139.3,1744.9 1139.7,1745.1 1140.2,1744.8 1140.6,1744.9 1141.1,1744.9 1141.5,1745.2 1142,1744.6 1142.4,1744.9 1142.8,1744.9 1143.3,1744.9 1143.7,1744.6 1144.2,1744.8 1144.6,1744.9 1145.1,1744.7 1145.5,1744.6 1145.9,1744.7 1146.4,1744.7 1146.8,1745.2 1147.3,1744.9 1147.7,1745 1148.2,1744.9 1148.6,1744.8 1149,1744.8 1149.5,1744.4 1149.9,1744.5 1150.4,1744.4 1150.8,1744.7 1151.2,1744.2 1151.7,1744.7 1152.1,1744.4 1152.6,1744.6 1153,1744.2 1153.5,1743.9 1153.9,1744 1154.3,1743.6 1154.8,1743.4 1155.2,1743 1155.7,1742.7 1156.1,1742.8 1156.6,1742.6 1157,1741.8 1157.4,1741.7 1157.9,1741.2 1158.3,1740.7 1158.8,1740.5 1159.2,1740 1159.7,1739.9 1160.1,1739.9 1160.5,1740.3 1161,1740.5 1161.4,1740.8 1161.9,1741.1 1162.3,1741.9 1162.8,1742.2 1163.2,1742.2 1163.6,1742.6 1164.1,1742.7 1164.5,1743.1 1165,1743.5 1165.4,1743.1 1165.9,1743.7 1166.3,1743.5 1166.7,1743.6 1167.2,1743.8 1167.6,1743.6 1168.1,1743.8 1168.5,1743.5 1168.9,1743.3 1169.4,1742.7 1169.8,1742.4 1170.3,1741.7 1170.7,1740.9 1171.2,1740.7 1171.6,1740.1 1172,1739.7 1172.5,1739 1172.9,1738.4 1173.4,1737.5 1173.8,1737.4 1174.3,1737.5 1174.7,1737.4 1175.1,1737.3 1175.6,1737.7 1176,1738.2 1176.5,1738.4 1176.9,1738.9 1177.4,1739.5 1177.8,1740.1 1178.2,1740.6 1178.7,1741.4 1179.1,1742 1179.6,1742.6 1180,1742.8 1180.5,1743 1180.9,1743.3 1181.3,1743.8 1181.8,1743.9 1182.2,1744.2 1182.7,1743.8 1183.1,1744.4 1183.6,1744.3 1184,1744.2 1184.4,1744.3 1184.9,1744.6 1185.3,1744.7 1185.8,1745.1 1186.2,1745.2 1186.6,1744.8 1187.1,1744.7 1187.5,1744.7 1188,1745 1188.4,1744.8 1188.9,1744.4 1189.3,1744.8 1189.7,1745 1190.2,1745.1 1190.6,1745 1191.1,1745.2 1191.5,1745.2 1192,1744.8 1192.4,1745 1192.8,1744.9 1193.3,1745.1 1193.7,1745 1194.2,1744.4 1194.6,1744.6 1195.1,1744.9 1195.5,1744.7 1195.9,1744.5 1196.4,1745.1 1196.8,1745 1197.3,1745 1197.7,1744.7 1198.2,1745.2 1198.6,1745.1 1199,1745.2 1199.5,1745.2 1199.9,1744.9 1200.4,1745 1200.8,1744.8 1201.2,1744.5 1201.7,1744.6 1202.1,1745.4 1202.6,1744.9 1203,1745 1203.5,1744.8 1203.9,1744.6 1204.3,1744.7 1204.8,1744.9 1205.2,1744.9 1205.7,1745.4 1206.1,1744.9 1206.6,1744.6 1207,1744.9 1207.4,1744.6 1207.9,1744.8 1208.3,1745 1208.8,1744.4 1209.2,1744.6 1209.7,1744.5 1210.1,1744.7 1210.5,1744.9 1211,1744.7 1211.4,1744.7 1211.9,1745 1212.3,1745 1212.8,1745.1 1213.2,1744.8 1213.6,1744.8 1214.1,1744.7 1214.5,1744.9 1215,1744.6 1215.4,1744.6 1215.9,1744.4 1216.3,1744.2 1216.7,1744.4 1217.2,1744.7 1217.6,1744.8 1218.1,1744.5 1218.5,1744.8 1219,1744.5 1219.4,1744.3 1219.8,1744.2 1220.3,1744 1220.7,1743.9 1221.2,1743.9 1221.6,1743.3 1222,1743 1222.5,1742.7 1222.9,1742.7 1223.4,1742.2 1223.8,1741.3 1224.3,1740.9 1224.7,1740.2 1225.1,1739.4 1225.6,1739.4 1226,1738.5 1226.5,1737.6 1226.9,1737.2 1227.4,1736.3 1227.8,1736 1228.2,1735.3 1228.7,1735.3 1229,1734.8 1229.1,1734.9 1229.6,1735.1 1230,1735.6 1230.5,1735.9 1230.9,1736.7 1231.3,1737.4 1231.8,1738.1 1232.2,1738.7 1232.7,1739.5 1233.1,1740.1 1233.6,1740.8 1234,1741 1234.4,1741.9 1234.9,1742.1 1235.3,1742.1 1235.8,1742.3 1236.2,1742.7 1236.7,1743.1 1237.1,1743 1237.5,1742.6 1238,1742.5 1238.4,1742.7 1238.9,1742.5 1239.3,1742.5 1239.7,1742.7 1240.2,1742.3 1240.6,1742.1 1241.1,1742 1241.5,1741.8 1241.8,1742 1242,1742 1242.4,1742.1 1242.8,1742.3 1243.3,1742.7 1243.7,1743.3 1244.2,1743.4 1244.6,1743.3 1245.1,1742.9 1245.5,1743.2 1245.9,1743.7 1246.4,1743.6 1246.8,1744.1 1247.3,1744.1 1247.7,1743.8 1248.2,1744.4 1248.6,1744.3 1249,1744.4 1249.5,1744.3 1249.9,1744.7 1250.4,1744.8 1250.8,1744.7 1251.3,1745 1251.7,1744.6 1252.1,1744.8 1252.6,1744.8 1253,1744.6 1253.5,1744.7 1253.9,1744.4 1254.4,1744.3 1254.8,1744.2 1255.2,1744.2 1255.7,1744.6 1256.1,1744.3 1256.6,1744.9 1257,1744.4 1257.4,1744.2 1257.9,1744.6 1258.3,1744.4 1258.8,1743.9 1259.2,1743.4 1259.7,1743.3 1260.1,1743.4 1260.5,1742.9 1261,1742.7 1261.4,1742.6 1261.9,1742.2 1262.3,1741.6 1262.8,1741.6 1263.2,1741.3 1263.6,1741.3 1264.1,1741.5 1264.5,1741.9 1265,1741.9 1265.4,1742.9 1265.9,1743.1 1266.3,1743.1 1266.7,1743.5 1267.2,1743.9 1267.6,1743.9 1268.1,1744.2 1268.5,1744.1 1269,1744.2 1269.4,1744.6 1269.8,1744.6 1270.3,1744.6 1270.7,1744.5 1271.2,1744.8 1271.6,1745 1272.1,1745.2 1272.5,1745.4 1272.9,1745.1 1273.4,1744.9 1273.8,1745 1274.3,1744.7 1274.7,1744.3 1275.1,1744.1 1275.6,1744 1276,1744 1276.5,1743.7 1276.9,1743.3 1277.4,1743.1 1277.8,1743 1278.2,1742.3 1278.7,1742 1279.1,1742.3 1279.6,1741.8 1279.7,1741.8 1280,1741.9 1280.5,1741.7 1280.9,1742.1 1281.3,1742.3 1281.8,1742.3 1282.2,1742.9 1282.7,1743.7 1283.1,1744 1283.6,1744.1 1284,1744.3 1284.4,1744.3 1284.9,1744.3 1285.3,1744.5 1285.8,1744.2 1286.2,1744.1 1286.7,1744.5 1287.1,1744.1 1287.5,1744.4 1288,1744.1 1288.4,1743.9 1288.9,1743.5 1289.3,1743.1 1289.8,1742.6 1290.2,1742.1 1290.6,1741.9 1291.1,1741.7 1291.5,1741.6 1292,1741.2 1292.3,1741 1292.4,1741.3 1292.8,1741.6 1293.3,1741.9 1293.7,1742.1 1294.2,1742.5 1294.6,1743.1 1295.1,1743.2 1295.5,1743.8 1295.9,1744.1 1296.4,1744 1296.8,1744.2 1297.3,1744.3 1297.7,1744.3 1298.2,1744.9 1298.6,1744.4 1299,1744.7 1299.5,1745.2 1299.9,1745 1300.4,1745.1 1300.8,1744.7 1301.3,1744.6 1301.7,1744.8 1302.1,1744.6 1302.6,1744.8 1303,1744.7 1303.5,1744.8 1303.9,1744.9 1304.4,1744.9 1304.8,1744.6 1305.2,1744.8 1305.7,1745.5 1306.1,1744.7 1306.6,1745 1307,1744.7 1307.5,1745.2 1307.9,1745 1308.3,1745 1308.8,1745.1 1309.2,1745.4 1309.7,1745.3 1310.1,1744.9 1310.5,1745.2 1311,1745.3 1311.4,1745.5 1311.9,1745 1312.3,1745.3 1312.8,1745.5 1313.2,1745.3 1313.6,1745.3 1314.1,1745.4 1314.5,1744.9 1315,1745 1315.4,1745.2 1315.9,1745.1 1316.3,1745.3 1316.7,1745.7 1317.2,1745.3 1317.6,1745 1318.1,1745.1 1318.5,1744.7 1319,1745.3 1319.4,1745.6 1319.8,1745 1320.3,1744.7 1320.7,1745.2 1321.2,1745.3 1321.6,1745.1 1322.1,1744.8 1322.5,1744.9 1322.9,1745.1 1323.4,1745.3 1323.8,1744.5 1324.3,1744.8 1324.7,1744.8 1325.2,1745 1325.6,1745.3 1326,1744.8 1326.5,1744.8 1326.9,1744.7 1327.4,1744.7 1327.8,1744.8 1328.2,1745.1 1328.7,1745 1329.1,1744.7 1329.6,1745.4 1330,1745.3 1330.5,1744.6 1330.9,1744.4 1331.3,1744.5 1331.8,1744.6 1332.2,1744.7 1332.7,1744.2 1333.1,1744 1333.6,1743.8 1334,1744.5 1334.4,1744.2 1334.9,1744 1335.3,1743.8 1335.8,1743.4 1336.2,1743.7 1336.7,1743.1 1337,1743.3 1337.1,1743.2 1337.5,1743.3 1338,1743.1 1338.4,1743.5 1338.9,1743.3 1339.3,1743.9 1339.8,1743.8 1340.2,1743.8 1340.6,1743.9 1341.1,1743.9 1341.5,1744.6 1342,1744.1 1342.4,1744.3 1342.9,1744.3 1343.3,1744.8 1343.7,1744.8 1344.2,1745.1 1344.6,1744.9 1345.1,1744.6 1345.5,1744.4 1345.9,1744.8 1346.4,1745 1346.8,1744.8 1347.3,1744.9 1347.7,1745.1 1348.2,1745.1 1348.6,1745.2 1349,1744.7 1349.5,1745.1 1349.9,1745.3 1350.4,1745 1350.8,1745 1351.3,1745.6 1351.7,1745.3 1352.1,1745 1352.6,1744.9 1353,1745.1 1353.5,1744.7 1353.9,1745.2 1354.4,1745.3 1354.8,1745.1 1355.2,1745.5 1355.7,1744.9 1356.1,1745.3 1356.6,1745.2 1357,1745 1357.5,1744.4 1357.9,1745.2 1358.3,1744.5 1358.8,1744.8 1359.2,1744.9 1359.7,1744.9 1360.1,1745.1 1360.6,1745.4 1361,1745.2 1361.4,1745 1361.9,1745.8 1362.3,1745.4 1362.8,1745.2 1363.2,1745.1 1363.6,1745.4 1364.1,1745.1 1364.5,1745.2 1365,1745.2 1365.4,1745.3 1365.9,1745.2 1366.3,1744.9 1366.7,1745.3 1367.2,1744.8 1367.6,1745.2 1368.1,1745.3 1368.5,1745.6 1369,1745.3 1369.4,1744.9"/>
</g>
<g class="ax">
<rect x="262.5" y="36.5" width="1106" height="1744"/>
<line x1="262.5" y1="472.5" x2="1368.5" y2="472.5"/>
<line x1="262.5" y1="908.5" x2="1368.5" y2="908.5"/>
<line x1="262.5" y1="1344.5" x2="1368.5" y2="1344.5"/>
<line x1="265" y1="445.5" x2="286" y2="445.5"/>
<line x1="265" y1="394.4" x2="276" y2="394.4"/>
<line x1="265" y1="343.2" x2="286" y2="343.2"/>
<line x1="265" y1="292.1" x2="276" y2="292.1"/>
<line x1="265" y1="241" x2="286" y2="241"/>
<line x1="265" y1="189.9" x2="276" y2="189.9"/>
<line x1="265" y1="138.8" x2="286" y2="138.8"/>
<line x1="265" y1="87.6" x2="276" y2="87.6"/>
<line x1="265" y1="868.5" x2="286" y2="868.5"/>
<line x1="265" y1="811.8" x2="276" y2="811.8"/>
<line x1="265" y1="755.2" x2="286" y2="755.2"/>
<line x1="265" y1="698.5" x2="276" y2="698.5"/>
<line x1="265" y1="641.8" x2="286" y2="641.8"/>
<line x1="265" y1="585.2" x2="276" y2="585.2"/>
<line x1="265" y1="528.5" x2="286" y2="528.5"/>
<line x1="265" y1="1315.5" x2="286" y2="1315.5"/>
<line x1="265" y1="1264.6" x2="276" y2="1264.6"/>
<line x1="265" y1="1213.8" x2="286" y2="1213.8"/>
<line x1="265" y1="1162.9" x2="276" y2="1162.9"/>
<line x1="265" y1="1112" x2="286" y2="1112"/>
<line x1="265" y1="1061.1" x2="276" y2="1061.1"/>
<line x1="265" y1="1010.2" x2="286" y2="1010.2"/>
<line x1="265" y1="959.4" x2="276" y2="959.4"/>
<line x1="265" y1="1748.5" x2="286" y2="1748.5"/>
<line x1="265" y1="1698" x2="276" y2="1698"/>
<line x1="265" y1="1647.5" x2="286" y2="1647.5"/>
<line x1="265" y1="1597" x2="276" y2="1597"/>
<line x1="265" y1="1546.5" x2="286" y2="1546.5"/>
<line x1="265" y1="1496" x2="276" y2="1496"/>
<line x1="265" y1="1445.5" x2="286" y2="1445.5"/>
<line x1="265" y1="1395" x2="276" y2="1395"/>
<line x1="336" y1="1778" x2="336" y2="1756"/>
<line x1="409.8" y1="1778" x2="409.8" y2="1767"/>
<line x1="483.5" y1="1778" x2="483.5" y2="1756"/>
<line x1="557.2" y1="1778" x2="557.2" y2="1767"/>
<line x1="631" y1="1778" x2="631" y2="1756"/>
<line x1="704.8" y1="1778" x2="704.8" y2="1767"/>
<line x1="778.5" y1="1778" x2="778.5" y2="1756"/>
<line x1="852.2" y1="1778" x2="852.2" y2="1767"/>
<line x1="926" y1="1778" x2="926" y2="1756"/>
<line x1="999.8" y1="1778" x2="999.8" y2="1767"/>
<line x1="1073.5" y1="1778" x2="1073.5" y2="1756"/>
<line x1="1147.2" y1="1778" x2="1147.2" y2="1767"/>
<line x1="1221" y1="1778" x2="1221" y2="1756"/>
<line x1="1294.8" y1="1778" x2="1294.8" y2="1767"/>
</g>
<g class="tk" text-anchor="end">
<text transform="translate(240,459.8) scale(0.985,1.07)">0</text>
<text transform="translate(240,357.6) scale(0.985,1.07)">3,500</text>
<text transform="translate(240,255.3) scale(0.985,1.07)">7,000</text>
<text transform="translate(240,153.1) scale(0.985,1.07)">10,500</text>
<text transform="translate(240,50.8) scale(0.985,1.07)">14,000</text>
<text transform="translate(240,882.8) scale(0.985,1.07)">0</text>
<text transform="translate(240,769.5) scale(0.985,1.07)">2,000</text>
<text transform="translate(240,656.1) scale(0.985,1.07)">4,000</text>
<text transform="translate(240,542.8) scale(0.985,1.07)">6,000</text>
<text transform="translate(240,1329.8) scale(0.985,1.07)">0</text>
<text transform="translate(240,1228) scale(0.985,1.07)">2,500</text>
<text transform="translate(240,1126.3) scale(0.985,1.07)">5,000</text>
<text transform="translate(240,1024.5) scale(0.985,1.07)">7,500</text>
<text transform="translate(240,922.8) scale(0.985,1.07)">10,000</text>
<text transform="translate(240,1762.8) scale(0.985,1.07)">0</text>
<text transform="translate(240,1661.8) scale(0.985,1.07)">2,500</text>
<text transform="translate(240,1560.8) scale(0.985,1.07)">5,000</text>
<text transform="translate(240,1459.8) scale(0.985,1.07)">7,500</text>
<text transform="translate(240,1358.8) scale(0.985,1.07)">10,000</text>
</g>
<g class="tk" text-anchor="middle">
<text transform="translate(336,1842.3) scale(1,1.07)">10</text>
<text transform="translate(483.5,1842.3) scale(1,1.07)">20</text>
<text transform="translate(631,1842.3) scale(1,1.07)">30</text>
<text transform="translate(778.5,1842.3) scale(1,1.07)">40</text>
<text transform="translate(926,1842.3) scale(1,1.07)">50</text>
<text transform="translate(1073.5,1842.3) scale(1,1.07)">60</text>
<text transform="translate(1221,1842.3) scale(1,1.07)">70</text>
<text transform="translate(1368.5,1842.3) scale(1,1.07)">80</text>
</g>
<g class="s">
<text transform="translate(353,420.7) scale(0.975,1.08)">S</text>
<text transform="translate(385,290.9) scale(0.975,1.08)">S</text>
<text transform="translate(449,146.5) scale(0.975,1.08)">S</text>
<text transform="translate(529.3,254.7) scale(0.975,1.08)">S</text>
<text transform="translate(577,415.6) scale(0.975,1.08)">S</text>
<text transform="translate(636.2,412.7) scale(0.975,1.08)">S</text>
<text transform="translate(696,395.7) scale(0.975,1.08)">S</text>
<text transform="translate(732,424.1) scale(0.975,1.08)">S</text>
<text transform="translate(784,370.6) scale(0.975,1.08)">S</text>
<text transform="translate(843.8,416.6) scale(0.975,1.08)">S</text>
<text transform="translate(873,403.7) scale(0.975,1.08)">S</text>
<text transform="translate(1000.4,416.4) scale(0.975,1.08)">S</text>
<text transform="translate(1036,422.4) scale(0.975,1.08)">S</text>
<text transform="translate(1096.3,423) scale(0.975,1.08)">S</text>
<text transform="translate(1180.5,423) scale(0.975,1.08)">S</text>
<text transform="translate(1232.3,423) scale(0.975,1.08)">S</text>
<text transform="translate(357,844.2) scale(0.975,1.08)">S</text>
<text transform="translate(385,710.9) scale(0.975,1.08)">S</text>
<text transform="translate(449,586.5) scale(0.975,1.08)">S</text>
<text transform="translate(525.2,694.7) scale(0.975,1.08)">S</text>
<text transform="translate(573.2,835.6) scale(0.975,1.08)">S</text>
<text transform="translate(636.2,827.1) scale(0.975,1.08)">S</text>
<text transform="translate(703.6,802.2) scale(0.975,1.08)">S</text>
<text transform="translate(732.7,840.1) scale(0.975,1.08)">S</text>
<text transform="translate(784,789.2) scale(0.975,1.08)">S</text>
<text transform="translate(843.8,827.6) scale(0.975,1.08)">S</text>
<text transform="translate(868.9,806.8) scale(0.975,1.08)">S</text>
<text transform="translate(988,827) scale(0.975,1.08)">S</text>
<text transform="translate(1040,831.4) scale(0.975,1.08)">S</text>
<text transform="translate(1100.2,844.3) scale(0.975,1.08)">S</text>
<text transform="translate(1176.4,847.9) scale(0.975,1.08)">S</text>
<text transform="translate(1232.3,844.3) scale(0.975,1.08)">S</text>
<text transform="translate(357,1284.1) scale(0.975,1.08)">S</text>
<text transform="translate(389.1,1147.5) scale(0.975,1.08)">S</text>
<text transform="translate(449,1000.9) scale(0.975,1.08)">S</text>
<text transform="translate(533.3,1117.6) scale(0.975,1.08)">S</text>
<text transform="translate(577.2,1291.8) scale(0.975,1.08)">S</text>
<text transform="translate(637,1276.5) scale(0.975,1.08)">S</text>
<text transform="translate(699.7,1263) scale(0.975,1.08)">S</text>
<text transform="translate(727.9,1292) scale(0.975,1.08)">S</text>
<text transform="translate(784,1242.2) scale(0.975,1.08)">S</text>
<text transform="translate(843.8,1276.5) scale(0.975,1.08)">S</text>
<text transform="translate(873,1255.4) scale(0.975,1.08)">S</text>
<text transform="translate(952.3,1296.8) scale(0.975,1.08)">S</text>
<text transform="translate(1008.3,1291.5) scale(0.975,1.08)">S</text>
<text transform="translate(1096.3,1288.5) scale(0.975,1.08)">S</text>
<text transform="translate(1172.6,1301.3) scale(0.975,1.08)">S</text>
<text transform="translate(1234.7,1288.5) scale(0.975,1.08)">S</text>
<text transform="translate(355.8,1711.3) scale(0.975,1.08)">S</text>
<text transform="translate(385,1561.9) scale(0.975,1.08)">S</text>
<text transform="translate(453.2,1432.9) scale(0.975,1.08)">S</text>
<text transform="translate(537.2,1569.8) scale(0.975,1.08)">S</text>
<text transform="translate(577.2,1711.3) scale(0.975,1.08)">S</text>
<text transform="translate(637,1703.4) scale(0.975,1.08)">S</text>
<text transform="translate(700,1686.3) scale(0.975,1.08)">S</text>
<text transform="translate(732,1724.1) scale(0.975,1.08)">S</text>
<text transform="translate(784,1654.6) scale(0.975,1.08)">S</text>
<text transform="translate(840,1699.2) scale(0.975,1.08)">S</text>
<text transform="translate(868.9,1674.6) scale(0.975,1.08)">S</text>
<text transform="translate(980.5,1723.4) scale(0.975,1.08)">S</text>
<text transform="translate(1035.5,1720.4) scale(0.975,1.08)">S</text>
<text transform="translate(1092.6,1720.4) scale(0.975,1.08)">S</text>
<text transform="translate(1184.5,1724.3) scale(0.975,1.08)">S</text>
<text transform="translate(1231.6,1724.3) scale(0.975,1.08)">S</text>
</g>
<g class="pl">
<text transform="translate(1151.9,114.9) scale(0.985,1)">(d)-7.0h</text>
<text transform="translate(1156.8,558.8) scale(0.985,1)">(c)-4.0h</text>
<text transform="translate(1148.2,987) scale(0.985,1)">(b)-2.0h</text>
<text transform="translate(1148.2,1414.9) scale(0.985,1)">(a)-0.5h</text>
</g>
<text class="ti" transform="translate(816.3,1918.8) scale(1,1.094)">Two-Theta(deg)</text>
<text class="ti" style="font-size:62.7px" transform="translate(63.1,901.1) rotate(-90) scale(1,1.072)">Intensity(cps)</text>
</g>
</svg></body></html>
